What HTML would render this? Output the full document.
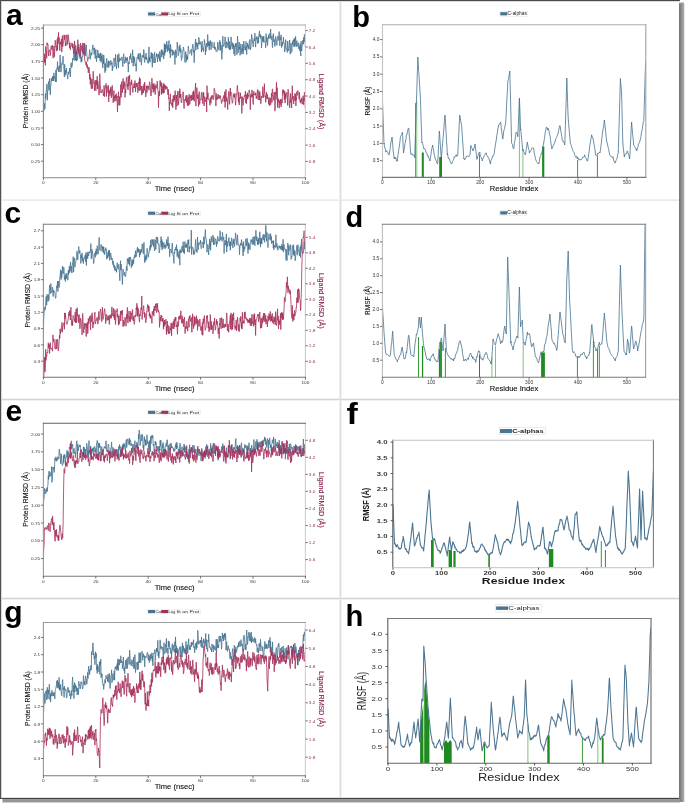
<!DOCTYPE html><html><head><meta charset="utf-8"><style>html,body{margin:0;padding:0;background:#fff;font-family:"Liberation Sans",sans-serif;width:685px;height:803px;overflow:hidden;position:relative}#m{position:absolute;left:0;top:0;display:block;filter:blur(0.3px)}.o{position:absolute}</style></head><body>
<svg id="m" width="685" height="803" viewBox="0 0 685 803">
<defs>
<clipPath id="ca"><rect x="43.4" y="25" width="262" height="152.7"/></clipPath>
<clipPath id="cc"><rect x="43.4" y="224.3" width="262" height="152.9"/></clipPath>
<clipPath id="ce"><rect x="43.4" y="423.2" width="262" height="153"/></clipPath>
<clipPath id="cg"><rect x="43.4" y="622.5" width="262" height="153.2"/></clipPath>
<clipPath id="cb"><rect x="382.5" y="24.7" width="263.3" height="152.7"/></clipPath>
<clipPath id="cd"><rect x="382.4" y="224.3" width="263.2" height="153"/></clipPath>
<clipPath id="cf"><rect x="392.8" y="440.3" width="260.6" height="127.3"/></clipPath>
<clipPath id="ch"><rect x="387.8" y="618.5" width="263.2" height="144.7"/></clipPath>
</defs>
<rect x="0" y="0" width="685" height="803" fill="#fff"/>
<text x="6" y="24.6" font-family="Liberation Sans" font-weight="bold" font-size="30" fill="#000">a</text>
<polyline points="43.4,114.1 43.7,107.8 44.1,110.3 44.4,103.4 44.7,106.8 45,108.6 45.4,93.5 45.7,98.6 46,96.7 46.4,89.3 46.7,84.4 47,84.2 47.3,100.3 47.7,90.2 48,89.4 48.3,83.3 48.6,81.5 49,90.4 49.3,82.1 49.6,78.5 50,84.3 50.3,94.8 50.6,86 50.9,86 51.3,78.6 51.6,80.9 51.9,78.2 52.3,81 52.6,76.1 52.9,78.7 53.2,76.5 53.6,81 53.9,72.9 54.2,78.2 54.5,76.6 54.9,79.2 55.2,81.1 55.5,82 55.9,70 56.2,82 56.5,72.5 56.8,68.4 57.2,69 57.5,61.6 57.8,69.3 58.2,70.6 58.5,71.5 58.8,66.6 59.1,72 59.5,65.6 59.8,67.4 60.1,54.9 60.5,63.8 60.8,71.9 61.1,72.2 61.4,68.7 61.8,63.4 62.1,64.4 62.4,61.6 62.7,62 63.1,56.2 63.4,65.3 63.7,65.7 64.1,72.9 64.4,77.1 64.7,64.3 65,74.2 65.4,75.3 65.7,70 66,72.9 66.4,68.1 66.7,73.3 67,74.7 67.3,75.4 67.7,78.8 68,74.5 68.3,72.1 68.6,74.3 69,71.6 69.3,72.4 69.6,68.1 70,71.5 70.3,76.9 70.6,71.4 70.9,63.3 71.3,62.7 71.6,67.6 71.9,67.4 72.3,65.8 72.6,58.3 72.9,58.2 73.2,60.2 73.6,57.8 73.9,49.4 74.2,46.7 74.6,56.6 74.9,60.7 75.2,50.5 75.5,60 75.9,50.8 76.2,58.1 76.5,61.1 76.8,51.1 77.2,60.4 77.5,58.8 77.8,58.5 78.2,50.1 78.5,46.8 78.8,44.3 79.1,54.7 79.5,55.4 79.8,54.5 80.1,58.7 80.5,50.2 80.8,55.2 81.1,62.3 81.4,57 81.8,61.5 82.1,58.1 82.4,56.4 82.7,56.8 83.1,52 83.4,54.6 83.7,53.2 84.1,55.1 84.4,54.8 84.7,43.7 85,45.3 85.4,55.8 85.7,47.9 86,47.9 86.4,44.9 86.7,52.7 87,56.8 87.3,57.8 87.7,61.4 88,58.5 88.3,57.4 88.7,58.1 89,58.5 89.3,53.8 89.6,49.6 90,52.2 90.3,59.3 90.6,55.9 90.9,55 91.3,52.7 91.6,55.2 91.9,54.2 92.3,49.2 92.6,46.6 92.9,44.9 93.2,49.6 93.6,48.4 93.9,50.2 94.2,54.3 94.6,47.8 94.9,50.2 95.2,58.5 95.5,52.3 95.9,49.6 96.2,56.8 96.5,61.7 96.8,56.1 97.2,57.5 97.5,54.2 97.8,49.9 98.2,57.5 98.5,57.9 98.8,53.3 99.1,54.9 99.5,57.7 99.8,54.5 100.1,61 100.5,52.8 100.8,53 101.1,62.4 101.4,56.1 101.8,59.5 102.1,54.3 102.4,61.8 102.8,67.9 103.1,58.7 103.4,63.9 103.7,54.9 104.1,58.8 104.4,63.7 104.7,68.5 105,72.7 105.4,63.4 105.7,70.5 106,67.7 106.4,60.5 106.7,58.4 107,61.7 107.3,67.3 107.7,64.4 108,64.5 108.3,60.9 108.7,67.8 109,60.9 109.3,62.2 109.6,64.1 110,65.4 110.3,65.6 110.6,60.5 110.9,60.4 111.3,61.9 111.6,64.4 111.9,62.9 112.3,70.9 112.6,66.6 112.9,68.3 113.2,61.7 113.6,59.5 113.9,57.9 114.2,59.4 114.6,59 114.9,66.7 115.2,63.9 115.5,54.3 115.9,63.4 116.2,64.3 116.5,69 116.9,64.9 117.2,61.6 117.5,54.8 117.8,61.2 118.2,59.8 118.5,67.9 118.8,53.7 119.1,60.1 119.5,61.6 119.8,58 120.1,60.1 120.5,59.1 120.8,59.8 121.1,60.4 121.4,57.2 121.8,57.1 122.1,57 122.4,61 122.8,66.7 123.1,58.2 123.4,58 123.7,53.8 124.1,63 124.4,63.5 124.7,60.6 125,59.9 125.4,56.9 125.7,61.3 126,62.8 126.4,58.2 126.7,60.7 127,60.6 127.3,57.2 127.7,61.4 128,64.7 128.3,72.1 128.7,62 129,64 129.3,59.9 129.6,57.6 130,55.9 130.3,58.7 130.6,53.4 131,59.3 131.3,58.7 131.6,60.5 131.9,62.9 132.3,55.7 132.6,49.8 132.9,55.7 133.2,66.3 133.6,56 133.9,58.4 134.2,62.7 134.6,57.5 134.9,63 135.2,66 135.5,65.2 135.9,63.5 136.2,71.3 136.5,66.5 136.9,58.6 137.2,57.3 137.5,58.4 137.8,57.2 138.2,54.2 138.5,59.5 138.8,53.2 139.1,53.4 139.5,58.6 139.8,62 140.1,61.5 140.5,53.2 140.8,55.7 141.1,60.8 141.4,65.1 141.8,59.8 142.1,57.9 142.4,55.5 142.8,56.7 143.1,55.3 143.4,57.5 143.7,49.5 144.1,52 144.4,61.2 144.7,62.5 145.1,56.7 145.4,56.9 145.7,58.9 146,53.1 146.4,59.7 146.7,57.2 147,58.6 147.3,61.4 147.7,62.4 148,61.5 148.3,63.4 148.7,54.9 149,46.9 149.3,61.2 149.6,57.3 150,62.2 150.3,56.7 150.6,56.4 151,56 151.3,52.3 151.6,58.5 151.9,53.3 152.3,67.3 152.6,53.9 152.9,53.8 153.2,57.4 153.6,58.3 153.9,63 154.2,57.4 154.6,52.3 154.9,62.5 155.2,63 155.5,58.3 155.9,57.6 156.2,56.3 156.5,53.5 156.9,56.6 157.2,54.5 157.5,62 157.8,58.6 158.2,56.7 158.5,53.8 158.8,57.9 159.2,57.4 159.5,60.3 159.8,51.4 160.1,61.7 160.5,57.8 160.8,55.1 161.1,52.1 161.4,49.6 161.8,57.1 162.1,49.9 162.4,53.3 162.8,54.8 163.1,51.8 163.4,55.6 163.7,59.1 164.1,50.8 164.4,43.6 164.7,55.4 165.1,44.3 165.4,52.4 165.7,44.8 166,49.3 166.4,45.7 166.7,41.3 167,41.5 167.3,52 167.7,45.3 168,45.1 168.3,50.7 168.7,43.5 169,40.6 169.3,47.3 169.6,53.2 170,48.2 170.3,57.8 170.6,44.4 171,51.2 171.3,50 171.6,51 171.9,49.5 172.3,55.6 172.6,51 172.9,50 173.3,54.8 173.6,53.9 173.9,51.4 174.2,52.3 174.6,52.4 174.9,64.5 175.2,54 175.5,49.8 175.9,53.7 176.2,57.6 176.5,51.1 176.9,50.4 177.2,42.2 177.5,46.1 177.8,48.8 178.2,55.8 178.5,55.1 178.8,53.7 179.2,46.2 179.5,51.2 179.8,44.8 180.1,47.2 180.5,52.4 180.8,48.7 181.1,56.6 181.5,60.4 181.8,56.7 182.1,57.3 182.4,50.8 182.8,51 183.1,50.2 183.4,47.1 183.7,48.5 184.1,52.2 184.4,58.5 184.7,58.8 185.1,62.6 185.4,55.5 185.7,51.6 186,55.1 186.4,61.6 186.7,54.7 187,58.7 187.4,56.5 187.7,59.7 188,52.2 188.3,46.1 188.7,49.4 189,52.1 189.3,53 189.6,53.7 190,52.6 190.3,52.3 190.6,51 191,49.4 191.3,49.3 191.6,55.3 191.9,52.4 192.3,48.6 192.6,45.2 192.9,44.2 193.3,47.4 193.6,52.4 193.9,50.3 194.2,62.7 194.6,50.1 194.9,50.6 195.2,43 195.6,39 195.9,50 196.2,42.5 196.5,42.4 196.9,46.6 197.2,43 197.5,46.1 197.8,49.3 198.2,43.4 198.5,44.1 198.8,37.4 199.2,39.9 199.5,43.1 199.8,44.5 200.1,41.7 200.5,43.6 200.8,43.2 201.1,44.1 201.5,52.1 201.8,44.9 202.1,41.2 202.4,49.4 202.8,49.8 203.1,48.7 203.4,51.6 203.7,46.4 204.1,46 204.4,39.5 204.7,41.8 205.1,43.6 205.4,55 205.7,46.6 206,51.5 206.4,45 206.7,43 207,46.8 207.4,46.8 207.7,34.5 208,43.7 208.3,46 208.7,41.3 209,48.1 209.3,50.1 209.7,42.1 210,45.6 210.3,40.3 210.6,43 211,49.7 211.3,47.5 211.6,46.3 211.9,41.8 212.3,46.5 212.6,47.3 212.9,47.4 213.3,48 213.6,48 213.9,46.8 214.2,42.4 214.6,49.2 214.9,48.5 215.2,46.9 215.6,49.8 215.9,49.1 216.2,51.5 216.5,52 216.9,51.5 217.2,51.4 217.5,46.5 217.8,42.1 218.2,49.8 218.5,48.7 218.8,46.5 219.2,43.7 219.5,44.2 219.8,40.3 220.1,50.7 220.5,42.3 220.8,49.6 221.1,45.1 221.5,50.1 221.8,59.4 222.1,53.4 222.4,52.5 222.8,36.2 223.1,44.4 223.4,45.4 223.8,46.7 224.1,44.5 224.4,44 224.7,44.2 225.1,36.8 225.4,45.7 225.7,48.2 226,45.7 226.4,41.7 226.7,43.2 227,47.7 227.4,43 227.7,43.8 228,44.3 228.3,37.3 228.7,48.6 229,47.2 229.3,41.5 229.7,49.7 230,45.7 230.3,50 230.6,46.1 231,36.9 231.3,40.3 231.6,45.9 231.9,45.6 232.3,49 232.6,42.6 232.9,43 233.3,47.1 233.6,43.9 233.9,53.9 234.2,45.6 234.6,46.7 234.9,55.8 235.2,47.8 235.6,43.3 235.9,46.5 236.2,43.4 236.5,45.6 236.9,54.7 237.2,46.4 237.5,36.1 237.9,42 238.2,52.8 238.5,46.6 238.8,46 239.2,42 239.5,49.4 239.8,46.5 240.1,55.3 240.5,50.7 240.8,43.9 241.1,46 241.5,52.9 241.8,54 242.1,48.6 242.4,51.3 242.8,44 243.1,54.2 243.4,52.9 243.8,41.1 244.1,45.2 244.4,45.9 244.7,47.1 245.1,50.3 245.4,46.8 245.7,50 246,41.4 246.4,48.2 246.7,54.5 247,45.6 247.4,46.7 247.7,43 248,47 248.3,48.5 248.7,45.3 249,49.3 249.3,41 249.7,41.3 250,39.4 250.3,47.7 250.6,49.8 251,46.1 251.3,42.7 251.6,34.4 252,37 252.3,39.3 252.6,43.3 252.9,44.4 253.3,46.8 253.6,40.4 253.9,40.5 254.2,38.3 254.6,40.9 254.9,33.2 255.2,40.9 255.6,47.1 255.9,41.7 256.2,37.5 256.5,39.2 256.9,36.5 257.2,38.1 257.5,43.6 257.9,43.1 258.2,37 258.5,43 258.8,35.4 259.2,33.7 259.5,30.9 259.8,37 260.1,34.2 260.5,37 260.8,38.5 261.1,35.7 261.5,48.1 261.8,43.6 262.1,41.4 262.4,37.6 262.8,41.1 263.1,36 263.4,42.3 263.8,36.3 264.1,41.4 264.4,41.2 264.7,41.2 265.1,42.9 265.4,43.6 265.7,47.8 266.1,33.7 266.4,41.7 266.7,42.1 267,37.4 267.4,45.6 267.7,44.6 268,38.1 268.3,38.3 268.7,35.2 269,38.7 269.3,33.5 269.7,34.6 270,34.7 270.3,38.2 270.6,29.1 271,35.9 271.3,39.6 271.6,38.5 272,36.2 272.3,46 272.6,47.6 272.9,37.6 273.3,33.6 273.6,38.1 273.9,41.8 274.2,39.4 274.6,45.7 274.9,46.4 275.2,46.1 275.6,36.5 275.9,39.4 276.2,39.6 276.5,40.7 276.9,45.3 277.2,38.3 277.5,36.6 277.9,35.9 278.2,40.6 278.5,40.2 278.8,37 279.2,31.6 279.5,40.6 279.8,45.8 280.2,36.9 280.5,37.2 280.8,40.1 281.1,34.8 281.5,47.5 281.8,46.2 282.1,42 282.4,45.6 282.8,42.5 283.1,43.2 283.4,37.2 283.8,42 284.1,42.8 284.4,46 284.7,52 285.1,49 285.4,48.4 285.7,39.6 286.1,47.8 286.4,49.7 286.7,49.5 287,50.6 287.4,52.4 287.7,41 288,46.4 288.3,50.4 288.7,51 289,48.4 289.3,44.8 289.7,39.9 290,52.5 290.3,54.2 290.6,51.7 291,43.2 291.3,51.7 291.6,52.4 292,51.7 292.3,42.3 292.6,44.4 292.9,40.6 293.3,41.8 293.6,39.7 293.9,46.8 294.3,38 294.6,46.5 294.9,43.6 295.2,44.6 295.6,36.4 295.9,42.9 296.2,47 296.5,44.5 296.9,40.7 297.2,45.5 297.5,45 297.9,45.9 298.2,42.7 298.5,48.5 298.8,48.9 299.2,45.7 299.5,46.4 299.8,50.9 300.2,43.6 300.5,52.5 300.8,56 301.1,41.2 301.5,50.8 301.8,51 302.1,46.1 302.4,44.9 302.8,40.1 303.1,42 303.4,44.3 303.8,37.2 304.1,42.1 304.4,34.4 304.7,40 305.1,41.1 305.4,47.1" fill="none" stroke="#46728f" stroke-width="0.8" stroke-linejoin="round" clip-path="url(#ca)"/>
<polyline points="43.4,57.9 43.7,61.1 44.1,62.9 44.4,53.7 44.7,61.7 45,59.3 45.4,65.3 45.7,46.6 46,51.9 46.4,51.1 46.7,58.4 47,42.7 47.3,44.8 47.7,43.7 48,44.4 48.3,53.4 48.6,56 49,50.1 49.3,50.2 49.6,49.8 50,52 50.3,55.5 50.6,52.7 50.9,47.2 51.3,46 51.6,48.5 51.9,49.8 52.3,45 52.6,46.6 52.9,56.7 53.2,58.2 53.6,51.7 53.9,46.1 54.2,50.3 54.5,56.9 54.9,45.6 55.2,40.3 55.5,42.4 55.9,47.1 56.2,46 56.5,51.1 56.8,48.5 57.2,39.2 57.5,50.3 57.8,37.2 58.2,38.8 58.5,32.4 58.8,43.6 59.1,37.5 59.5,47.1 59.8,50.6 60.1,44.9 60.5,41.9 60.8,41.8 61.1,45 61.4,38.9 61.8,52.1 62.1,43.5 62.4,35.6 62.7,46.9 63.1,44.7 63.4,41.9 63.7,41.9 64.1,34.8 64.4,39.7 64.7,37.5 65,35.1 65.4,45.9 65.7,42.6 66,45.8 66.4,36.2 66.7,34.8 67,35.2 67.3,38.8 67.7,44.5 68,34.7 68.3,35.5 68.6,37.9 69,41.6 69.3,43.2 69.6,48 70,42.8 70.3,49.7 70.6,46.8 70.9,46.3 71.3,46.3 71.6,46.2 71.9,42.8 72.3,44.1 72.6,48.2 72.9,43.9 73.2,47.9 73.6,53.6 73.9,53.4 74.2,47.2 74.6,41 74.9,48.5 75.2,50.3 75.5,45.5 75.9,45.6 76.2,55.1 76.5,51.6 76.8,50.2 77.2,49 77.5,50 77.8,39.7 78.2,53.3 78.5,51.3 78.8,46.9 79.1,48.4 79.5,52.5 79.8,54.9 80.1,56.8 80.5,43.1 80.8,45.5 81.1,50.9 81.4,46.7 81.8,45.8 82.1,45.5 82.4,53.1 82.7,43 83.1,43.3 83.4,53.2 83.7,50.7 84.1,43 84.4,52.3 84.7,60 85,60.2 85.4,63.4 85.7,64.6 86,64.6 86.4,61.8 86.7,67 87,67.5 87.3,64.6 87.7,68.8 88,68 88.3,72.9 88.7,67.2 89,67 89.3,68.3 89.6,79.3 90,74.2 90.3,84.4 90.6,77.6 90.9,81.3 91.3,88.7 91.6,84.1 91.9,78.9 92.3,86.4 92.6,88.6 92.9,80.9 93.2,71.3 93.6,78 93.9,83.3 94.2,82.2 94.6,90.8 94.9,86.4 95.2,80.3 95.5,82.4 95.9,90.6 96.2,80 96.5,84.7 96.8,84.9 97.2,76.2 97.5,88.9 97.8,80.9 98.2,85.9 98.5,85.9 98.8,94 99.1,95.2 99.5,89.4 99.8,73.7 100.1,84.2 100.5,86.8 100.8,92.9 101.1,92 101.4,92.6 101.8,90.5 102.1,89.5 102.4,90 102.8,92.5 103.1,93.4 103.4,96 103.7,95.7 104.1,85.4 104.4,96.7 104.7,89.9 105,88.4 105.4,88.1 105.7,88.2 106,83.4 106.4,96.5 106.7,85.7 107,87.4 107.3,87.4 107.7,87.9 108,93 108.3,85.2 108.7,101.9 109,96 109.3,90.4 109.6,92.8 110,95.6 110.3,88.6 110.6,92.7 110.9,86.8 111.3,97.8 111.6,94 111.9,88.7 112.3,85.4 112.6,95.3 112.9,95 113.2,102.7 113.6,97.9 113.9,90.5 114.2,101.4 114.6,96.3 114.9,95.8 115.2,97.8 115.5,95 115.9,101.2 116.2,93.6 116.5,98 116.9,96.8 117.2,103.7 117.5,112 117.8,96.2 118.2,97 118.5,91.8 118.8,105.3 119.1,99.6 119.5,96.6 119.8,105.3 120.1,99.4 120.5,95.2 120.8,84.6 121.1,97.3 121.4,85.1 121.8,81.7 122.1,88 122.4,92.8 122.8,83.6 123.1,78.5 123.4,86 123.7,89.2 124.1,81.4 124.4,86.2 124.7,83.6 125,97.4 125.4,89.8 125.7,93.1 126,82.9 126.4,78.5 126.7,77 127,81.7 127.3,86.9 127.7,84.1 128,89.9 128.3,76.1 128.7,86.1 129,82.8 129.3,81.6 129.6,74.9 130,94.2 130.3,95.2 130.6,86.1 131,82 131.3,84.8 131.6,79.8 131.9,82.5 132.3,85.9 132.6,90.6 132.9,92.5 133.2,87 133.6,88 133.9,83.6 134.2,83.4 134.6,87.9 134.9,80.5 135.2,82.1 135.5,92 135.9,86.4 136.2,83.1 136.5,83.3 136.9,87.2 137.2,83.1 137.5,83.5 137.8,92.8 138.2,88.3 138.5,89.7 138.8,81.8 139.1,83.9 139.5,77.5 139.8,91 140.1,78.6 140.5,89.5 140.8,88.5 141.1,87.5 141.4,86 141.8,95.1 142.1,89.4 142.4,93.4 142.8,87.6 143.1,85.8 143.4,92.9 143.7,90.1 144.1,83.8 144.4,90.4 144.7,82 145.1,88.4 145.4,89.3 145.7,96.9 146,94.8 146.4,88.3 146.7,85.7 147,92.6 147.3,85.7 147.7,86 148,88.4 148.3,86.1 148.7,87.2 149,90.2 149.3,83.8 149.6,81.8 150,83.7 150.3,85.5 150.6,93.1 151,96 151.3,94.2 151.6,89.4 151.9,78.2 152.3,87.9 152.6,88.8 152.9,83.8 153.2,92.4 153.6,86.1 153.9,83.3 154.2,91.1 154.6,85.5 154.9,90.6 155.2,94.7 155.5,85.8 155.9,84.5 156.2,85.2 156.5,88.2 156.9,88.5 157.2,81.2 157.5,84.1 157.8,90.3 158.2,91 158.5,107.6 158.8,94.2 159.2,91.1 159.5,96.1 159.8,85.5 160.1,80.5 160.5,86.2 160.8,82.9 161.1,82.1 161.4,94.5 161.8,83.4 162.1,93.4 162.4,91.8 162.8,86.2 163.1,87.4 163.4,93.3 163.7,83.3 164.1,93 164.4,84.6 164.7,87.5 165.1,86.2 165.4,85.4 165.7,89.6 166,86.2 166.4,88.5 166.7,86.9 167,86.7 167.3,87.2 167.7,92.6 168,94.9 168.3,89.3 168.7,98.8 169,97.6 169.3,110.8 169.6,101.8 170,102.7 170.3,93.8 170.6,101.7 171,104 171.3,103.1 171.6,104.9 171.9,105.7 172.3,99.1 172.6,107.8 172.9,107.4 173.3,95.6 173.6,101 173.9,101.7 174.2,95 174.6,99.8 174.9,96.3 175.2,90.7 175.5,102.6 175.9,109.6 176.2,105.4 176.5,95.1 176.9,103.7 177.2,106.1 177.5,93.9 177.8,91.1 178.2,100.2 178.5,104.7 178.8,101.8 179.2,91.1 179.5,97.5 179.8,88.7 180.1,93.2 180.5,97.8 180.8,94 181.1,101.8 181.5,102.9 181.8,102.2 182.1,97.2 182.4,96.8 182.8,95.5 183.1,91.7 183.4,96.2 183.7,103.5 184.1,108.5 184.4,101.5 184.7,99.4 185.1,100.3 185.4,100.9 185.7,96.7 186,95.6 186.4,102.7 186.7,95.2 187,95.2 187.4,105.5 187.7,102 188,97.2 188.3,105.9 188.7,99.6 189,94.3 189.3,95 189.6,104.5 190,103.4 190.3,96.2 190.6,98.1 191,94.9 191.3,100.8 191.6,95.3 191.9,95.2 192.3,100 192.6,99.3 192.9,91.8 193.3,99.9 193.6,90.7 193.9,95 194.2,101.3 194.6,93.3 194.9,93.1 195.2,89.2 195.6,83.2 195.9,106.1 196.2,98.6 196.5,97.8 196.9,87.6 197.2,97 197.5,98.8 197.8,94.7 198.2,94.7 198.5,106.7 198.8,98.2 199.2,91.6 199.5,104.5 199.8,103.3 200.1,100 200.5,99.4 200.8,99.8 201.1,95.8 201.5,92.3 201.8,94.3 202.1,100.1 202.4,98.6 202.8,103.7 203.1,92.4 203.4,97.9 203.7,92.5 204.1,106 204.4,103.2 204.7,96.7 205.1,98.9 205.4,99.7 205.7,101.6 206,101.9 206.4,97.6 206.7,112 207,85.7 207.4,99.1 207.7,96 208,92.7 208.3,98.4 208.7,99.6 209,100.1 209.3,99.6 209.7,102.1 210,105.3 210.3,97.6 210.6,99.7 211,103.3 211.3,95.8 211.6,95.9 211.9,99.4 212.3,95.1 212.6,96.5 212.9,95.7 213.3,99.2 213.6,99.6 213.9,95.4 214.2,88.2 214.6,89.6 214.9,91.3 215.2,95.5 215.6,95.6 215.9,106 216.2,93.4 216.5,95.3 216.9,100 217.2,97.2 217.5,99 217.8,95 218.2,94.2 218.5,97.5 218.8,98.8 219.2,95.5 219.5,95.5 219.8,98.3 220.1,95.6 220.5,95.8 220.8,99.1 221.1,99.9 221.5,103.5 221.8,102.7 222.1,100.3 222.4,101.1 222.8,99 223.1,97.5 223.4,97.9 223.8,95.4 224.1,101.8 224.4,101.7 224.7,91.7 225.1,107.5 225.4,99 225.7,91.1 226,89.3 226.4,101.4 226.7,97.3 227,101.1 227.4,100.6 227.7,109.5 228,100.5 228.3,97.5 228.7,91.6 229,91.5 229.3,102.7 229.7,104.4 230,92.5 230.3,88 230.6,95.5 231,92.1 231.3,98.3 231.6,99.3 231.9,99.7 232.3,103.3 232.6,102.7 232.9,100 233.3,93.7 233.6,94.6 233.9,97.2 234.2,95 234.6,97.5 234.9,93.3 235.2,100 235.6,105.2 235.9,100.6 236.2,96.8 236.5,93.9 236.9,93.8 237.2,85.7 237.5,85.4 237.9,92.8 238.2,97.9 238.5,102.3 238.8,92.2 239.2,105 239.5,98.3 239.8,97.7 240.1,98.7 240.5,92.8 240.8,98.2 241.1,96.7 241.5,98.3 241.8,113.4 242.1,101.7 242.4,96.7 242.8,99.2 243.1,105.3 243.4,98.7 243.8,99.6 244.1,96.7 244.4,95.3 244.7,96.6 245.1,96.3 245.4,91.2 245.7,102.6 246,99.5 246.4,103.9 246.7,94.5 247,99.3 247.4,92.7 247.7,99 248,96.1 248.3,95.1 248.7,96.5 249,90.2 249.3,90.1 249.7,92.9 250,93.2 250.3,109.7 250.6,95.5 251,94.3 251.3,97.4 251.6,97.2 252,89.8 252.3,96.7 252.6,94.3 252.9,101.5 253.3,104.5 253.6,92.8 253.9,91.2 254.2,94.7 254.6,93.8 254.9,93.7 255.2,95.4 255.6,92.8 255.9,93.4 256.2,98.7 256.5,96.4 256.9,98.2 257.2,92.3 257.5,89.6 257.9,96.5 258.2,100 258.5,98.4 258.8,90.5 259.2,93.7 259.5,100.1 259.8,91.9 260.1,95.3 260.5,100 260.8,103.7 261.1,100.8 261.5,96 261.8,97.3 262.1,97.6 262.4,96.8 262.8,86.7 263.1,89.9 263.4,97.8 263.8,93.7 264.1,93.5 264.4,83.7 264.7,92.4 265.1,97 265.4,95.7 265.7,102.3 266.1,96.5 266.4,92.2 266.7,95.1 267,98.9 267.4,94.4 267.7,99 268,99.4 268.3,99.4 268.7,104.1 269,97.2 269.3,105.8 269.7,102.6 270,101.6 270.3,98.2 270.6,104.9 271,102.5 271.3,95.3 271.6,92.9 272,102.4 272.3,89.3 272.6,88.8 272.9,95.9 273.3,95.5 273.6,99.1 273.9,100.4 274.2,92 274.6,95.1 274.9,111.1 275.2,109.3 275.6,92.1 275.9,94.4 276.2,90.3 276.5,82.3 276.9,99.3 277.2,87.7 277.5,107.5 277.9,98.3 278.2,102.3 278.5,99 278.8,100.1 279.2,108.2 279.5,100.9 279.8,100.6 280.2,104.5 280.5,99.2 280.8,102.7 281.1,107 281.5,103.7 281.8,99.3 282.1,103.1 282.4,96.3 282.8,89.7 283.1,93.7 283.4,89.8 283.8,91.9 284.1,96.1 284.4,99.7 284.7,90.8 285.1,103.1 285.4,93.5 285.7,98.6 286.1,96.5 286.4,94.5 286.7,92.2 287,94.2 287.4,97.9 287.7,105.4 288,89.3 288.3,89.7 288.7,93.8 289,96.8 289.3,103.7 289.7,107.8 290,100.5 290.3,102.8 290.6,93.4 291,100.2 291.3,99.2 291.6,108 292,95.5 292.3,85.7 292.6,99.3 292.9,98.6 293.3,96.2 293.6,104 293.9,99.8 294.3,100.2 294.6,100.6 294.9,93.3 295.2,100.6 295.6,94.5 295.9,106 296.2,97.6 296.5,99.5 296.9,91.6 297.2,95.4 297.5,91.6 297.9,90.4 298.2,93 298.5,93.5 298.8,94.4 299.2,99.4 299.5,92.3 299.8,99.4 300.2,102.3 300.5,103.1 300.8,99.3 301.1,102.2 301.5,101.2 301.8,97.8 302.1,104.1 302.4,103.2 302.8,103.9 303.1,95.7 303.4,104.7 303.8,98.4 304.1,100.8 304.4,92.2 304.7,99.5 305.1,104.6 305.4,108.9" fill="none" stroke="#a5305c" stroke-width="0.8" stroke-linejoin="round" clip-path="url(#ca)"/>
<line x1="43.4" y1="24.5" x2="43.4" y2="178.2" stroke="#888888" stroke-width="1.1"/>
<line x1="305.4" y1="24.5" x2="305.4" y2="178.2" stroke="#d0d0d0" stroke-width="1.1"/>
<line x1="42.9" y1="25" x2="305.9" y2="25" stroke="#a8a8a8" stroke-width="1.1"/>
<line x1="42.9" y1="177.7" x2="305.9" y2="177.7" stroke="#8a8a8a" stroke-width="1.1"/>
<line x1="40.9" y1="161.2" x2="43.4" y2="161.2" stroke="#555" stroke-width="0.8"/>
<text x="0" y="0" font-family="Liberation Sans" font-size="4.3" fill="#383838" text-anchor="end" font-weight="normal" dominant-baseline="central" transform="translate(40.2 161.4) scale(1.1 1)">0.25</text>
<line x1="40.9" y1="144.6" x2="43.4" y2="144.6" stroke="#555" stroke-width="0.8"/>
<text x="0" y="0" font-family="Liberation Sans" font-size="4.3" fill="#383838" text-anchor="end" font-weight="normal" dominant-baseline="central" transform="translate(40.2 144.8) scale(1.1 1)">0.50</text>
<line x1="40.9" y1="128" x2="43.4" y2="128" stroke="#555" stroke-width="0.8"/>
<text x="0" y="0" font-family="Liberation Sans" font-size="4.3" fill="#383838" text-anchor="end" font-weight="normal" dominant-baseline="central" transform="translate(40.2 128.2) scale(1.1 1)">0.75</text>
<line x1="40.9" y1="111.3" x2="43.4" y2="111.3" stroke="#555" stroke-width="0.8"/>
<text x="0" y="0" font-family="Liberation Sans" font-size="4.3" fill="#383838" text-anchor="end" font-weight="normal" dominant-baseline="central" transform="translate(40.2 111.5) scale(1.1 1)">1.00</text>
<line x1="40.9" y1="94.7" x2="43.4" y2="94.7" stroke="#555" stroke-width="0.8"/>
<text x="0" y="0" font-family="Liberation Sans" font-size="4.3" fill="#383838" text-anchor="end" font-weight="normal" dominant-baseline="central" transform="translate(40.2 94.9) scale(1.1 1)">1.25</text>
<line x1="40.9" y1="78" x2="43.4" y2="78" stroke="#555" stroke-width="0.8"/>
<text x="0" y="0" font-family="Liberation Sans" font-size="4.3" fill="#383838" text-anchor="end" font-weight="normal" dominant-baseline="central" transform="translate(40.2 78.2) scale(1.1 1)">1.50</text>
<line x1="40.9" y1="61.4" x2="43.4" y2="61.4" stroke="#555" stroke-width="0.8"/>
<text x="0" y="0" font-family="Liberation Sans" font-size="4.3" fill="#383838" text-anchor="end" font-weight="normal" dominant-baseline="central" transform="translate(40.2 61.6) scale(1.1 1)">1.75</text>
<line x1="40.9" y1="44.7" x2="43.4" y2="44.7" stroke="#555" stroke-width="0.8"/>
<text x="0" y="0" font-family="Liberation Sans" font-size="4.3" fill="#383838" text-anchor="end" font-weight="normal" dominant-baseline="central" transform="translate(40.2 44.9) scale(1.1 1)">2.00</text>
<line x1="40.9" y1="28.1" x2="43.4" y2="28.1" stroke="#555" stroke-width="0.8"/>
<text x="0" y="0" font-family="Liberation Sans" font-size="4.3" fill="#383838" text-anchor="end" font-weight="normal" dominant-baseline="central" transform="translate(40.2 28.3) scale(1.1 1)">2.25</text>
<line x1="305.4" y1="161.4" x2="307.9" y2="161.4" stroke="#555" stroke-width="0.8"/>
<text x="0" y="0" font-family="Liberation Sans" font-size="4.3" fill="#8e3058" text-anchor="start" font-weight="normal" dominant-baseline="central" transform="translate(308.8 161.6) scale(1.1 1)">0.8</text>
<line x1="305.4" y1="145.1" x2="307.9" y2="145.1" stroke="#555" stroke-width="0.8"/>
<text x="0" y="0" font-family="Liberation Sans" font-size="4.3" fill="#8e3058" text-anchor="start" font-weight="normal" dominant-baseline="central" transform="translate(308.8 145.3) scale(1.1 1)">1.6</text>
<line x1="305.4" y1="128.7" x2="307.9" y2="128.7" stroke="#555" stroke-width="0.8"/>
<text x="0" y="0" font-family="Liberation Sans" font-size="4.3" fill="#8e3058" text-anchor="start" font-weight="normal" dominant-baseline="central" transform="translate(308.8 128.9) scale(1.1 1)">2.4</text>
<line x1="305.4" y1="112.4" x2="307.9" y2="112.4" stroke="#555" stroke-width="0.8"/>
<text x="0" y="0" font-family="Liberation Sans" font-size="4.3" fill="#8e3058" text-anchor="start" font-weight="normal" dominant-baseline="central" transform="translate(308.8 112.6) scale(1.1 1)">3.2</text>
<line x1="305.4" y1="96" x2="307.9" y2="96" stroke="#555" stroke-width="0.8"/>
<text x="0" y="0" font-family="Liberation Sans" font-size="4.3" fill="#8e3058" text-anchor="start" font-weight="normal" dominant-baseline="central" transform="translate(308.8 96.2) scale(1.1 1)">4.0</text>
<line x1="305.4" y1="79.7" x2="307.9" y2="79.7" stroke="#555" stroke-width="0.8"/>
<text x="0" y="0" font-family="Liberation Sans" font-size="4.3" fill="#8e3058" text-anchor="start" font-weight="normal" dominant-baseline="central" transform="translate(308.8 79.9) scale(1.1 1)">4.8</text>
<line x1="305.4" y1="63.3" x2="307.9" y2="63.3" stroke="#555" stroke-width="0.8"/>
<text x="0" y="0" font-family="Liberation Sans" font-size="4.3" fill="#8e3058" text-anchor="start" font-weight="normal" dominant-baseline="central" transform="translate(308.8 63.5) scale(1.1 1)">5.6</text>
<line x1="305.4" y1="47" x2="307.9" y2="47" stroke="#555" stroke-width="0.8"/>
<text x="0" y="0" font-family="Liberation Sans" font-size="4.3" fill="#8e3058" text-anchor="start" font-weight="normal" dominant-baseline="central" transform="translate(308.8 47.2) scale(1.1 1)">6.4</text>
<line x1="305.4" y1="30.6" x2="307.9" y2="30.6" stroke="#555" stroke-width="0.8"/>
<text x="0" y="0" font-family="Liberation Sans" font-size="4.3" fill="#8e3058" text-anchor="start" font-weight="normal" dominant-baseline="central" transform="translate(308.8 30.8) scale(1.1 1)">7.2</text>
<line x1="43.4" y1="177.7" x2="43.4" y2="180.2" stroke="#555" stroke-width="0.8"/>
<text x="0" y="0" font-family="Liberation Sans" font-size="4.3" fill="#333" text-anchor="middle" font-weight="normal" dominant-baseline="central" transform="translate(43.4 182.7) scale(1.1 1)">0</text>
<line x1="95.8" y1="177.7" x2="95.8" y2="180.2" stroke="#555" stroke-width="0.8"/>
<text x="0" y="0" font-family="Liberation Sans" font-size="4.3" fill="#333" text-anchor="middle" font-weight="normal" dominant-baseline="central" transform="translate(95.8 182.7) scale(1.1 1)">20</text>
<line x1="148.2" y1="177.7" x2="148.2" y2="180.2" stroke="#555" stroke-width="0.8"/>
<text x="0" y="0" font-family="Liberation Sans" font-size="4.3" fill="#333" text-anchor="middle" font-weight="normal" dominant-baseline="central" transform="translate(148.2 182.7) scale(1.1 1)">40</text>
<line x1="200.6" y1="177.7" x2="200.6" y2="180.2" stroke="#555" stroke-width="0.8"/>
<text x="0" y="0" font-family="Liberation Sans" font-size="4.3" fill="#333" text-anchor="middle" font-weight="normal" dominant-baseline="central" transform="translate(200.6 182.7) scale(1.1 1)">60</text>
<line x1="253" y1="177.7" x2="253" y2="180.2" stroke="#555" stroke-width="0.8"/>
<text x="0" y="0" font-family="Liberation Sans" font-size="4.3" fill="#333" text-anchor="middle" font-weight="normal" dominant-baseline="central" transform="translate(253 182.7) scale(1.1 1)">80</text>
<line x1="305.4" y1="177.7" x2="305.4" y2="180.2" stroke="#555" stroke-width="0.8"/>
<text x="0" y="0" font-family="Liberation Sans" font-size="4.3" fill="#333" text-anchor="middle" font-weight="normal" dominant-baseline="central" transform="translate(305.4 182.7) scale(1.1 1)">100</text>
<text x="174.6" y="188.9" font-family="Liberation Sans" font-size="7.6" fill="#111" text-anchor="middle" font-weight="normal" dominant-baseline="central" stroke="#111" stroke-width="0.12">Time (nsec)</text>
<text x="0" y="0" font-family="Liberation Sans" font-size="6.4" fill="#111" text-anchor="middle" font-weight="normal" dominant-baseline="central" transform="translate(25.2 101) rotate(-90) scale(1.07 1)" stroke="#111" stroke-width="0.1">Protein RMSD (&#197;)</text>
<text x="0" y="0" font-family="Liberation Sans" font-size="6.4" fill="#8a2050" text-anchor="middle" font-weight="normal" dominant-baseline="central" transform="translate(321.1 101.5) rotate(90) scale(1.11 1)" stroke="#8a2050" stroke-width="0.1">Ligand RMSD (&#197;)</text>
<rect x="147.6" y="11.8" width="53.2" height="4.4" fill="#fff" stroke="#ddd" stroke-width="0.4"/>
<rect x="148.1" y="12.4" width="7" height="3.1" fill="#46728f"/>
<rect x="161.2" y="12.4" width="6.8" height="3.1" fill="#a5305c"/>
<text x="155.4" y="14.1" font-family="Liberation Sans" font-size="4.4" fill="#222" text-anchor="start" font-weight="normal" dominant-baseline="central">C&#945;</text>
<text x="0" y="0" font-family="Liberation Sans" font-size="4.3" fill="#222" text-anchor="start" font-weight="normal" dominant-baseline="central" transform="translate(168.3 14.1) scale(1.22 1)">Lig fit on Prot</text>
<text x="4.5" y="222.6" font-family="Liberation Sans" font-weight="bold" font-size="30" fill="#000">c</text>
<polyline points="43.4,335.3 43.7,319.9 44.1,312.6 44.4,311.6 44.7,307.1 45,307.3 45.4,309.6 45.7,302.2 46,297.2 46.4,296.3 46.7,305.2 47,294.3 47.3,296 47.7,298.7 48,301.6 48.3,294.5 48.6,298.6 49,300.3 49.3,291.1 49.6,285.2 50,288.8 50.3,293.7 50.6,284.6 50.9,283.5 51.3,290.5 51.6,292.6 51.9,291.8 52.3,290.6 52.6,287.1 52.9,293.8 53.2,296.6 53.6,289.9 53.9,291.7 54.2,291.2 54.5,292.7 54.9,293.2 55.2,295.6 55.5,298.4 55.9,297.7 56.2,290.3 56.5,290.4 56.8,285.6 57.2,287.9 57.5,281 57.8,291.6 58.2,288.4 58.5,281.3 58.8,283.8 59.1,287.5 59.5,285.3 59.8,276.8 60.1,276 60.5,269.7 60.8,277.2 61.1,279.6 61.4,271.1 61.8,277.6 62.1,271.8 62.4,266.3 62.7,272.6 63.1,272.8 63.4,273.8 63.7,267 64.1,269.3 64.4,279.5 64.7,278 65,275.9 65.4,281.6 65.7,273.8 66,275.6 66.4,278.8 66.7,274.4 67,273.1 67.3,277.8 67.7,280.2 68,279.7 68.3,270.2 68.6,274.5 69,271.6 69.3,266.3 69.6,272.6 70,270.1 70.3,264.8 70.6,262 70.9,271.3 71.3,266.1 71.6,266.3 71.9,273.1 72.3,265.3 72.6,262.9 72.9,261.3 73.2,256.7 73.6,272.1 73.9,263.1 74.2,260.4 74.6,257.9 74.9,267.2 75.2,264 75.5,262.6 75.9,261.7 76.2,259.2 76.5,259.2 76.8,251.3 77.2,252.6 77.5,254.8 77.8,259.9 78.2,250.1 78.5,249.8 78.8,246.6 79.1,253.6 79.5,252.7 79.8,250.3 80.1,253.6 80.5,254.6 80.8,263.4 81.1,258.4 81.4,255.2 81.8,258.2 82.1,252.8 82.4,261.3 82.7,257.1 83.1,259.1 83.4,263.7 83.7,258.7 84.1,259.3 84.4,258.7 84.7,256.1 85,255.3 85.4,254.6 85.7,261.8 86,252.3 86.4,265.5 86.7,255.9 87,257.6 87.3,253.5 87.7,258.7 88,251.6 88.3,254.7 88.7,256 89,253.5 89.3,252 89.6,253.1 90,251.5 90.3,251.9 90.6,248.4 90.9,243.6 91.3,258.9 91.6,254.8 91.9,249.1 92.3,253.2 92.6,251.9 92.9,257.7 93.2,258.3 93.6,263.6 93.9,262.8 94.2,254.7 94.6,253.3 94.9,253.9 95.2,257.5 95.5,251 95.9,255.5 96.2,248.8 96.5,250 96.8,254.5 97.2,245.7 97.5,247.3 97.8,252.2 98.2,254.1 98.5,251.4 98.8,246.2 99.1,237.4 99.5,246.9 99.8,249.8 100.1,250.6 100.5,248.6 100.8,247.9 101.1,244.4 101.4,247.7 101.8,247.9 102.1,251.5 102.4,246.4 102.8,248.9 103.1,246.7 103.4,252.5 103.7,246.8 104.1,253.4 104.4,252 104.7,254.6 105,249.7 105.4,250.6 105.7,247.7 106,248.7 106.4,249.2 106.7,259.2 107,255.3 107.3,255.4 107.7,258.2 108,252 108.3,255.5 108.7,250.2 109,256.8 109.3,250.2 109.6,260.3 110,259.8 110.3,258.1 110.6,252.9 110.9,254.8 111.3,256.3 111.6,260 111.9,259 112.3,258.3 112.6,263.1 112.9,264.8 113.2,261.1 113.6,263.9 113.9,267.5 114.2,264.9 114.6,270.3 114.9,269.4 115.2,266.6 115.5,268.2 115.9,270.9 116.2,269.2 116.5,272.3 116.9,267.5 117.2,262.7 117.5,267.4 117.8,268 118.2,269.1 118.5,265.4 118.8,264.4 119.1,269.1 119.5,274 119.8,280.7 120.1,269.6 120.5,260.7 120.8,270.2 121.1,264 121.4,267.6 121.8,270.7 122.1,277.9 122.4,284.5 122.8,273.1 123.1,269.1 123.4,271.5 123.7,272.5 124.1,275.4 124.4,275.1 124.7,272.3 125,275.6 125.4,276.9 125.7,275.7 126,273 126.4,266.3 126.7,266.8 127,270.8 127.3,258.5 127.7,261.1 128,260.1 128.3,264.2 128.7,258.5 129,261.5 129.3,257.1 129.6,265.5 130,259.4 130.3,256.9 130.6,258.9 131,258.6 131.3,267.7 131.6,263.8 131.9,262.6 132.3,259.8 132.6,265.8 132.9,263.1 133.2,259.6 133.6,263.6 133.9,257.5 134.2,258 134.6,254.8 134.9,255.2 135.2,257.5 135.5,250.6 135.9,255.5 136.2,256.8 136.5,256.1 136.9,249.9 137.2,248.4 137.5,247.1 137.8,252.6 138.2,248.5 138.5,252 138.8,249.2 139.1,249.4 139.5,257.2 139.8,253.4 140.1,249.5 140.5,254.7 140.8,250.9 141.1,252.2 141.4,249.2 141.8,252.2 142.1,243.9 142.4,244.1 142.8,248.8 143.1,250.1 143.4,253.9 143.7,243.1 144.1,242.3 144.4,256.5 144.7,262.7 145.1,256.1 145.4,256.9 145.7,261.2 146,254.7 146.4,256.8 146.7,259.3 147,248.3 147.3,249.3 147.7,250.1 148,256 148.3,257.3 148.7,253.6 149,253.5 149.3,250.3 149.6,250.3 150,245.7 150.3,250.2 150.6,240.2 151,247.4 151.3,245.5 151.6,246 151.9,239.2 152.3,242.1 152.6,239.8 152.9,245 153.2,242.4 153.6,246.7 153.9,239.3 154.2,246.6 154.6,250.9 154.9,247.7 155.2,239.9 155.5,241.1 155.9,249.4 156.2,237 156.5,237 156.9,239.4 157.2,243.3 157.5,237.3 157.8,239.6 158.2,244.7 158.5,244.2 158.8,244.2 159.2,253 159.5,251.6 159.8,248.5 160.1,244.4 160.5,242.2 160.8,240.8 161.1,236.6 161.4,246.9 161.8,239.3 162.1,249.8 162.4,241.4 162.8,247.4 163.1,248.6 163.4,244.9 163.7,242.9 164.1,242.4 164.4,247.3 164.7,245.1 165.1,248.8 165.4,248 165.7,244.7 166,247.4 166.4,242.6 166.7,239.5 167,244.4 167.3,242.3 167.7,246 168,236.7 168.3,248.7 168.7,245.9 169,243.2 169.3,243.8 169.6,256.7 170,250.3 170.3,249.9 170.6,249.2 171,250.6 171.3,253 171.6,253.2 171.9,247.1 172.3,243.1 172.6,248.5 172.9,255.3 173.3,255.2 173.6,257.6 173.9,263.4 174.2,252 174.6,253.5 174.9,249.2 175.2,249.6 175.5,250.1 175.9,247.1 176.2,250.5 176.5,244.7 176.9,251.3 177.2,256.7 177.5,249.5 177.8,254.8 178.2,254.5 178.5,258.4 178.8,253.5 179.2,251 179.5,256.2 179.8,265.2 180.1,249.3 180.5,253 180.8,250.6 181.1,252.7 181.5,250.8 181.8,246.3 182.1,246.4 182.4,246.3 182.8,251.7 183.1,241.7 183.4,244.7 183.7,252.8 184.1,249.9 184.4,253.7 184.7,242.4 185.1,241.5 185.4,246.8 185.7,245.2 186,247.9 186.4,244.8 186.7,246.8 187,243.3 187.4,247 187.7,252 188,240 188.3,244 188.7,239.5 189,246.9 189.3,252.4 189.6,246.7 190,248.5 190.3,247.2 190.6,246.9 191,245.7 191.3,230.1 191.6,254.5 191.9,247.6 192.3,247.5 192.6,246.9 192.9,249.2 193.3,248.8 193.6,254.7 193.9,250.5 194.2,254.2 194.6,253 194.9,252.5 195.2,246.3 195.6,239.4 195.9,244.2 196.2,250.8 196.5,249.7 196.9,252.6 197.2,251.5 197.5,237.1 197.8,242.3 198.2,249.8 198.5,243.3 198.8,245.3 199.2,243.1 199.5,242.7 199.8,242.5 200.1,243.8 200.5,240 200.8,244.9 201.1,248.7 201.5,248.5 201.8,247.4 202.1,241.8 202.4,242.6 202.8,243.2 203.1,244.4 203.4,248.1 203.7,236.7 204.1,240.2 204.4,244.2 204.7,241.5 205.1,232.9 205.4,229.6 205.7,238.3 206,238.2 206.4,239.3 206.7,245.3 207,252.2 207.4,246.6 207.7,244.4 208,244.8 208.3,250.6 208.7,254.8 209,247.3 209.3,245.3 209.7,238.9 210,248.9 210.3,241.4 210.6,250.3 211,241.4 211.3,236.6 211.6,241.1 211.9,241.2 212.3,242.2 212.6,240.6 212.9,235.1 213.3,237.7 213.6,245 213.9,237.4 214.2,244.2 214.6,244.2 214.9,244.4 215.2,240.7 215.6,238.8 215.9,239.6 216.2,241.8 216.5,246.7 216.9,241.3 217.2,243.8 217.5,237.1 217.8,236.3 218.2,238.2 218.5,240.9 218.8,240.5 219.2,239.9 219.5,241.3 219.8,237.7 220.1,230.8 220.5,240.1 220.8,239 221.1,237 221.5,238.1 221.8,238.2 222.1,241.4 222.4,232.3 222.8,235.5 223.1,238.5 223.4,239.5 223.8,237.2 224.1,253.5 224.4,242.6 224.7,241.9 225.1,240.2 225.4,245.3 225.7,241.6 226,241 226.4,233.9 226.7,252 227,241 227.4,246.6 227.7,244.4 228,243.6 228.3,242 228.7,238.3 229,237.5 229.3,246.2 229.7,243.5 230,241.5 230.3,250.3 230.6,242.2 231,245.7 231.3,241.5 231.6,237.8 231.9,238.6 232.3,244 232.6,245.1 232.9,247.9 233.3,240.5 233.6,243.7 233.9,238.8 234.2,242.8 234.6,246.5 234.9,242.3 235.2,237.9 235.6,232.9 235.9,235.6 236.2,240 236.5,240.1 236.9,245.1 237.2,241.3 237.5,234.9 237.9,241.2 238.2,244.8 238.5,245.4 238.8,245 239.2,245.4 239.5,254.7 239.8,247.8 240.1,245.1 240.5,243 240.8,244.3 241.1,245.7 241.5,239.6 241.8,242.3 242.1,244.9 242.4,244.2 242.8,249.2 243.1,255.8 243.4,241.6 243.8,251.9 244.1,249.8 244.4,246.9 244.7,249.2 245.1,246.9 245.4,241.3 245.7,239.2 246,239 246.4,246.1 246.7,243.6 247,238.1 247.4,239.8 247.7,245.3 248,253.5 248.3,242.5 248.7,249.4 249,243.9 249.3,247.2 249.7,246.7 250,249.7 250.3,242.8 250.6,243.3 251,239.5 251.3,241.6 251.6,242.1 252,239.8 252.3,244.6 252.6,241.8 252.9,237.1 253.3,238.4 253.6,244.4 253.9,242.5 254.2,236.4 254.6,243.2 254.9,245.8 255.2,238.6 255.6,239 255.9,230.3 256.2,237.5 256.5,240.7 256.9,236.6 257.2,238.4 257.5,244.6 257.9,240.1 258.2,244.7 258.5,238.1 258.8,243.3 259.2,243.5 259.5,237.3 259.8,231.8 260.1,238 260.5,247.1 260.8,237.7 261.1,243.7 261.5,238.4 261.8,244.1 262.1,240.3 262.4,239.3 262.8,236.2 263.1,234.5 263.4,235.7 263.8,240.2 264.1,234.5 264.4,240.3 264.7,242.4 265.1,235.7 265.4,236.9 265.7,225.3 266.1,228.4 266.4,237.7 266.7,241.1 267,232.6 267.4,243.4 267.7,244 268,247.6 268.3,240.2 268.7,236.8 269,233.8 269.3,237 269.7,238.9 270,240 270.3,240.5 270.6,233.6 271,239.8 271.3,236.4 271.6,243.6 272,241.4 272.3,242.4 272.6,241.8 272.9,240.7 273.3,247.9 273.6,240.7 273.9,249.8 274.2,246.3 274.6,246.8 274.9,245.2 275.2,247.6 275.6,245.9 275.9,234.8 276.2,245.3 276.5,246.5 276.9,243.4 277.2,248.5 277.5,246.5 277.9,250.4 278.2,246.4 278.5,246.8 278.8,246.4 279.2,245.6 279.5,247.8 279.8,246.7 280.2,249 280.5,246.8 280.8,246.1 281.1,249.8 281.5,246.9 281.8,244.2 282.1,249.8 282.4,246.5 282.8,250.6 283.1,239.3 283.4,252.1 283.8,245.6 284.1,244.5 284.4,248.9 284.7,249.5 285.1,248.7 285.4,250.7 285.7,250.4 286.1,260.3 286.4,249.5 286.7,256.1 287,260.6 287.4,248.5 287.7,243 288,243.8 288.3,246.1 288.7,255.3 289,245.4 289.3,249.6 289.7,250.4 290,249.3 290.3,246.6 290.6,244.6 291,259.4 291.3,258.9 291.6,256.1 292,256.7 292.3,245.6 292.6,246.6 292.9,246.9 293.3,254.7 293.6,244.7 293.9,254.3 294.3,256 294.6,250.3 294.9,252.2 295.2,260.8 295.6,257 295.9,254.8 296.2,250.5 296.5,250.3 296.9,245.4 297.2,254.1 297.5,255.1 297.9,244.7 298.2,250 298.5,250.7 298.8,250.2 299.2,253.5 299.5,255.9 299.8,251.1 300.2,246.9 300.5,257.5 300.8,245.4 301.1,249.8 301.5,239 301.8,251.9 302.1,251.9 302.4,252.9 302.8,252.6 303.1,253.5 303.4,252.9 303.8,248.2 304.1,244.2 304.4,242 304.7,249.3 305.1,241.1 305.4,249.2" fill="none" stroke="#46728f" stroke-width="0.8" stroke-linejoin="round" clip-path="url(#cc)"/>
<polyline points="43.4,375.8 43.7,377.7 44.1,372.2 44.4,368.1 44.7,357.1 45,371.9 45.4,364.4 45.7,349.3 46,360.4 46.4,354.9 46.7,356.2 47,352.7 47.3,352.2 47.7,352.9 48,348.1 48.3,342.8 48.6,347.9 49,344.1 49.3,344.8 49.6,353.5 50,345.2 50.3,342.6 50.6,348.7 50.9,348.3 51.3,349.3 51.6,348.2 51.9,348.3 52.3,349.7 52.6,351.2 52.9,334.9 53.2,337.5 53.6,341.5 53.9,339 54.2,342.5 54.5,342.2 54.9,348.4 55.2,349 55.5,349.2 55.9,343.4 56.2,339.3 56.5,348.9 56.8,349 57.2,342.2 57.5,339.4 57.8,342.4 58.2,350.9 58.5,349.8 58.8,346.6 59.1,341.5 59.5,334.9 59.8,338.4 60.1,328.8 60.5,333.7 60.8,329.7 61.1,331.3 61.4,327.3 61.8,324.6 62.1,322.3 62.4,332.3 62.7,326.4 63.1,325.5 63.4,325.3 63.7,324.6 64.1,322.7 64.4,329.3 64.7,312.8 65,318.7 65.4,313.1 65.7,317 66,320.8 66.4,324 66.7,323.9 67,324.3 67.3,322.8 67.7,321.9 68,320.2 68.3,318.4 68.6,313.7 69,312.1 69.3,315.9 69.6,310.6 70,311.1 70.3,320 70.6,312.6 70.9,307.2 71.3,317.5 71.6,325.1 71.9,325.5 72.3,320.7 72.6,325.5 72.9,316.5 73.2,315.3 73.6,316 73.9,317.6 74.2,320.4 74.6,319.1 74.9,321.9 75.2,312.2 75.5,322.7 75.9,313.5 76.2,309 76.5,322.8 76.8,321.4 77.2,307.7 77.5,315.7 77.8,314.9 78.2,315.2 78.5,322.7 78.8,316.1 79.1,314.6 79.5,318.6 79.8,328.8 80.1,327.3 80.5,318.1 80.8,319.3 81.1,320 81.4,326.6 81.8,328.6 82.1,334.9 82.4,321.9 82.7,313.5 83.1,321.6 83.4,325.1 83.7,332.8 84.1,327.7 84.4,328.6 84.7,323.3 85,325.8 85.4,323.6 85.7,325.8 86,335 86.4,336.5 86.7,323.5 87,328.1 87.3,322.2 87.7,333.6 88,331.3 88.3,318.3 88.7,323.6 89,321.1 89.3,321.1 89.6,316.2 90,317.7 90.3,324.8 90.6,330 90.9,315.3 91.3,322 91.6,320.9 91.9,313.5 92.3,312.8 92.6,321.5 92.9,328.1 93.2,321.9 93.6,324.5 93.9,322.6 94.2,319.6 94.6,314.9 94.9,312.2 95.2,321.6 95.5,323.8 95.9,321.1 96.2,319.6 96.5,320.4 96.8,318 97.2,317.2 97.5,318 97.8,324.1 98.2,321.9 98.5,314.5 98.8,311.5 99.1,319.7 99.5,320.2 99.8,319 100.1,312.5 100.5,309 100.8,311.8 101.1,312.6 101.4,315.5 101.8,321.6 102.1,315.5 102.4,307.2 102.8,316.7 103.1,319.4 103.4,316.5 103.7,316 104.1,312.1 104.4,309.8 104.7,308.7 105,312.4 105.4,316.5 105.7,323.6 106,315.3 106.4,314.5 106.7,316.5 107,320.6 107.3,318.1 107.7,319.6 108,315.4 108.3,318.7 108.7,320.1 109,316.2 109.3,324.5 109.6,318.3 110,314.8 110.3,318.3 110.6,316.7 110.9,314.6 111.3,318.3 111.6,312.6 111.9,306.9 112.3,315.4 112.6,316 112.9,313.9 113.2,312.2 113.6,308.3 113.9,317.5 114.2,314.1 114.6,319.9 114.9,309.6 115.2,318.3 115.5,324.6 115.9,318.2 116.2,311 116.5,311.4 116.9,311.9 117.2,308.7 117.5,317.2 117.8,314.3 118.2,318.8 118.5,325.2 118.8,315.8 119.1,324.3 119.5,323.7 119.8,318.3 120.1,316.2 120.5,311.1 120.8,321 121.1,311.4 121.4,310.8 121.8,314.4 122.1,312.2 122.4,310 122.8,322 123.1,326.8 123.4,320.1 123.7,320.8 124.1,325.8 124.4,323.9 124.7,320.4 125,317.2 125.4,320.3 125.7,319.5 126,326.2 126.4,319.2 126.7,314.2 127,318.8 127.3,307.4 127.7,320.9 128,323 128.3,319.2 128.7,315.2 129,310.9 129.3,316.2 129.6,321.2 130,316.2 130.3,322.1 130.6,311.4 131,313.9 131.3,314.6 131.6,313.3 131.9,319.4 132.3,310.7 132.6,309.5 132.9,318 133.2,321 133.6,316.5 133.9,319.5 134.2,324.3 134.6,322.4 134.9,315.1 135.2,315.8 135.5,316.9 135.9,313.9 136.2,307.8 136.5,309.5 136.9,303.3 137.2,316.2 137.5,306.6 137.8,316.4 138.2,308.5 138.5,309.7 138.8,312.9 139.1,318.8 139.5,322.1 139.8,314.3 140.1,316 140.5,310.4 140.8,310.3 141.1,307.7 141.4,309.6 141.8,296 142.1,319.4 142.4,314.2 142.8,310.7 143.1,309.5 143.4,306.8 143.7,305.6 144.1,314.1 144.4,312.3 144.7,317.5 145.1,313.3 145.4,319.2 145.7,322.8 146,320.8 146.4,320.4 146.7,311.5 147,312 147.3,307.5 147.7,304.5 148,308.2 148.3,305.7 148.7,311.5 149,306.2 149.3,316.4 149.6,312.5 150,316.2 150.3,318.5 150.6,314.5 151,317.3 151.3,316.6 151.6,317.4 151.9,323.3 152.3,311.3 152.6,314 152.9,314.4 153.2,312.9 153.6,308.8 153.9,316.2 154.2,306 154.6,309.7 154.9,309.5 155.2,310.9 155.5,304.2 155.9,307.6 156.2,303.3 156.5,312.7 156.9,310.7 157.2,310.3 157.5,303.4 157.8,309.1 158.2,311.8 158.5,309.9 158.8,312.4 159.2,312.1 159.5,327.3 159.8,324.2 160.1,317.1 160.5,317 160.8,321.3 161.1,315 161.4,317.4 161.8,315.8 162.1,321.3 162.4,318.7 162.8,321.3 163.1,318.2 163.4,329.3 163.7,321.7 164.1,326.6 164.4,320 164.7,325.6 165.1,322.3 165.4,322.8 165.7,324 166,319.2 166.4,334.6 166.7,326.8 167,331.6 167.3,321.1 167.7,327.3 168,325.3 168.3,333.8 168.7,330 169,326.2 169.3,333.8 169.6,331.8 170,332.5 170.3,328.3 170.6,330 171,323.1 171.3,324.8 171.6,335.8 171.9,322.8 172.3,326 172.6,328.5 172.9,328.7 173.3,321.3 173.6,325.6 173.9,328.9 174.2,319.2 174.6,326.6 174.9,320.4 175.2,317.1 175.5,320.6 175.9,317.3 176.2,327.1 176.5,326.4 176.9,324.7 177.2,329.1 177.5,334.3 177.8,321.5 178.2,326.4 178.5,325.6 178.8,316.6 179.2,319.6 179.5,315.7 179.8,318.2 180.1,318.8 180.5,319.1 180.8,310.8 181.1,316.9 181.5,319.7 181.8,323.2 182.1,315.7 182.4,318.7 182.8,323.2 183.1,319 183.4,326.4 183.7,326.7 184.1,319.8 184.4,317 184.7,322.9 185.1,333.5 185.4,328.5 185.7,326.1 186,329 186.4,321.3 186.7,322.1 187,328.4 187.4,327.2 187.7,331.1 188,322.7 188.3,320.2 188.7,318.8 189,327.5 189.3,316.3 189.6,318.7 190,315.5 190.3,318.6 190.6,321.3 191,321.5 191.3,317.5 191.6,327.9 191.9,332.3 192.3,323.1 192.6,313.8 192.9,324.6 193.3,324.7 193.6,328.7 193.9,323.5 194.2,316.2 194.6,325.7 194.9,317.1 195.2,317.9 195.6,323.4 195.9,324.3 196.2,324.1 196.5,315.7 196.9,323.1 197.2,318.8 197.5,330.4 197.8,323.1 198.2,320.4 198.5,320.8 198.8,326.5 199.2,326.3 199.5,322.6 199.8,319 200.1,322.2 200.5,328.8 200.8,330.1 201.1,330.7 201.5,326.5 201.8,327 202.1,334.6 202.4,322.5 202.8,335.3 203.1,319.2 203.4,318.6 203.7,323.3 204.1,320.5 204.4,315.5 204.7,322.4 205.1,330.3 205.4,329.9 205.7,328.8 206,328.1 206.4,322.1 206.7,315.8 207,317.8 207.4,315.4 207.7,323.5 208,324.5 208.3,328 208.7,321.7 209,331.8 209.3,327.1 209.7,330.3 210,322.9 210.3,314.5 210.6,321 211,329.6 211.3,321.3 211.6,329.7 211.9,324.9 212.3,326 212.6,327.8 212.9,333.8 213.3,331.6 213.6,323.9 213.9,321.7 214.2,324.8 214.6,318 214.9,324.8 215.2,330.2 215.6,329.4 215.9,325 216.2,324.8 216.5,319.3 216.9,324.6 217.2,321 217.5,325.3 217.8,325.3 218.2,333.9 218.5,330.6 218.8,328 219.2,338.5 219.5,323.2 219.8,324.9 220.1,317.9 220.5,324.3 220.8,326.2 221.1,328.9 221.5,317.8 221.8,317.7 222.1,322 222.4,328 222.8,324 223.1,318.9 223.4,325.2 223.8,327.7 224.1,324.1 224.4,327.5 224.7,326.5 225.1,324.5 225.4,323.9 225.7,327 226,326.6 226.4,318.5 226.7,312.9 227,316.7 227.4,331 227.7,329.2 228,324 228.3,326.9 228.7,332.3 229,327.1 229.3,324.6 229.7,321.7 230,319.7 230.3,315.1 230.6,329.2 231,312.9 231.3,317.3 231.6,325.5 231.9,330.1 232.3,314.2 232.6,329 232.9,317.5 233.3,320.1 233.6,312.7 233.9,319.3 234.2,326.7 234.6,326.2 234.9,327.6 235.2,329.5 235.6,326 235.9,327.9 236.2,319.9 236.5,330.9 236.9,324 237.2,321.3 237.5,317.1 237.9,321.1 238.2,329.4 238.5,330.5 238.8,324.3 239.2,331.7 239.5,327.8 239.8,324.7 240.1,317.7 240.5,321.5 240.8,316.3 241.1,322.8 241.5,328.3 241.8,322.2 242.1,329.1 242.4,312.3 242.8,322.9 243.1,322.3 243.4,322.7 243.8,320.7 244.1,323.6 244.4,312.4 244.7,317.6 245.1,311.8 245.4,318.3 245.7,318.9 246,318.7 246.4,317.7 246.7,320.4 247,319.6 247.4,318.9 247.7,322.1 248,322.9 248.3,319.7 248.7,322.2 249,320 249.3,322.9 249.7,318.1 250,320 250.3,325.7 250.6,318.3 251,318.7 251.3,318.1 251.6,326 252,314.3 252.3,322 252.6,323.5 252.9,322.5 253.3,321.3 253.6,326.3 253.9,314.5 254.2,321.2 254.6,313.6 254.9,325 255.2,319.5 255.6,335.5 255.9,323.7 256.2,320.4 256.5,319.7 256.9,318 257.2,317.2 257.5,314.8 257.9,316 258.2,313.9 258.5,321.8 258.8,319.9 259.2,319.5 259.5,313.7 259.8,312 260.1,318.5 260.5,328.3 260.8,324 261.1,317.8 261.5,328 261.8,327.3 262.1,318.4 262.4,323.3 262.8,321.9 263.1,315.8 263.4,319.7 263.8,313 264.1,321.7 264.4,314 264.7,313.1 265.1,320.2 265.4,321.9 265.7,315.3 266.1,324.1 266.4,319.7 266.7,319.5 267,319.5 267.4,326.8 267.7,321.7 268,315.8 268.3,317 268.7,321.2 269,313.7 269.3,316.5 269.7,319.7 270,314.8 270.3,311.5 270.6,321.6 271,321.1 271.3,315.9 271.6,320.9 272,314.2 272.3,313.4 272.6,322.4 272.9,319.7 273.3,323.8 273.6,323.9 273.9,316.5 274.2,317.6 274.6,321.9 274.9,317.4 275.2,324.7 275.6,311.7 275.9,313.8 276.2,323.4 276.5,325.5 276.9,322.7 277.2,317 277.5,308.8 277.9,320.3 278.2,316 278.5,328.8 278.8,319.6 279.2,322.9 279.5,321.1 279.8,324.8 280.2,318.8 280.5,313.4 280.8,329.6 281.1,315.1 281.5,312.5 281.8,318 282.1,312.5 282.4,319.9 282.8,313.4 283.1,314.8 283.4,319.5 283.8,313 284.1,308.1 284.4,297.5 284.7,297.6 285.1,301.9 285.4,295.3 285.7,295.2 286.1,292.7 286.4,282.4 286.7,283.7 287,288.4 287.4,276.8 287.7,285.4 288,292.7 288.3,285.9 288.7,289 289,290.2 289.3,289.3 289.7,293.1 290,294.3 290.3,290.5 290.6,295.7 291,303.5 291.3,312.9 291.6,313.9 292,318.5 292.3,305.4 292.6,318.9 292.9,321.5 293.3,315.1 293.6,314 293.9,320 294.3,312.6 294.6,310.3 294.9,316.2 295.2,313 295.6,313.1 295.9,312 296.2,307 296.5,307.4 296.9,297.8 297.2,303 297.5,291 297.9,289.2 298.2,302.4 298.5,288.8 298.8,288.7 299.2,289.4 299.5,298.7 299.8,299.5 300.2,300 300.5,310.7 300.8,308.8 301.1,298.6 301.5,287.2 301.8,268.4 302.1,257.6 302.4,251.5 302.8,250.5 303.1,237.4 303.4,237.8 303.8,234.9 304.1,230.7 304.4,237.6 304.7,243.2 305.1,245.8 305.4,249.3" fill="none" stroke="#a5305c" stroke-width="0.8" stroke-linejoin="round" clip-path="url(#cc)"/>
<line x1="43.4" y1="223.8" x2="43.4" y2="377.7" stroke="#909090" stroke-width="1.1"/>
<line x1="305.4" y1="223.8" x2="305.4" y2="377.7" stroke="#cacaca" stroke-width="1.1"/>
<line x1="42.9" y1="224.3" x2="305.9" y2="224.3" stroke="#7a7a7a" stroke-width="1.1"/>
<line x1="42.9" y1="377.2" x2="305.9" y2="377.2" stroke="#707070" stroke-width="1.1"/>
<line x1="40.9" y1="361.2" x2="43.4" y2="361.2" stroke="#555" stroke-width="0.8"/>
<text x="0" y="0" font-family="Liberation Sans" font-size="4.3" fill="#383838" text-anchor="end" font-weight="normal" dominant-baseline="central" transform="translate(40.2 361.4) scale(1.1 1)">0.3</text>
<line x1="40.9" y1="344.9" x2="43.4" y2="344.9" stroke="#555" stroke-width="0.8"/>
<text x="0" y="0" font-family="Liberation Sans" font-size="4.3" fill="#383838" text-anchor="end" font-weight="normal" dominant-baseline="central" transform="translate(40.2 345.1) scale(1.1 1)">0.6</text>
<line x1="40.9" y1="328.6" x2="43.4" y2="328.6" stroke="#555" stroke-width="0.8"/>
<text x="0" y="0" font-family="Liberation Sans" font-size="4.3" fill="#383838" text-anchor="end" font-weight="normal" dominant-baseline="central" transform="translate(40.2 328.8) scale(1.1 1)">0.9</text>
<line x1="40.9" y1="312.3" x2="43.4" y2="312.3" stroke="#555" stroke-width="0.8"/>
<text x="0" y="0" font-family="Liberation Sans" font-size="4.3" fill="#383838" text-anchor="end" font-weight="normal" dominant-baseline="central" transform="translate(40.2 312.5) scale(1.1 1)">1.2</text>
<line x1="40.9" y1="296" x2="43.4" y2="296" stroke="#555" stroke-width="0.8"/>
<text x="0" y="0" font-family="Liberation Sans" font-size="4.3" fill="#383838" text-anchor="end" font-weight="normal" dominant-baseline="central" transform="translate(40.2 296.2) scale(1.1 1)">1.5</text>
<line x1="40.9" y1="279.7" x2="43.4" y2="279.7" stroke="#555" stroke-width="0.8"/>
<text x="0" y="0" font-family="Liberation Sans" font-size="4.3" fill="#383838" text-anchor="end" font-weight="normal" dominant-baseline="central" transform="translate(40.2 279.9) scale(1.1 1)">1.8</text>
<line x1="40.9" y1="263.4" x2="43.4" y2="263.4" stroke="#555" stroke-width="0.8"/>
<text x="0" y="0" font-family="Liberation Sans" font-size="4.3" fill="#383838" text-anchor="end" font-weight="normal" dominant-baseline="central" transform="translate(40.2 263.6) scale(1.1 1)">2.1</text>
<line x1="40.9" y1="247.1" x2="43.4" y2="247.1" stroke="#555" stroke-width="0.8"/>
<text x="0" y="0" font-family="Liberation Sans" font-size="4.3" fill="#383838" text-anchor="end" font-weight="normal" dominant-baseline="central" transform="translate(40.2 247.3) scale(1.1 1)">2.4</text>
<line x1="40.9" y1="230.8" x2="43.4" y2="230.8" stroke="#555" stroke-width="0.8"/>
<text x="0" y="0" font-family="Liberation Sans" font-size="4.3" fill="#383838" text-anchor="end" font-weight="normal" dominant-baseline="central" transform="translate(40.2 231) scale(1.1 1)">2.7</text>
<line x1="305.4" y1="361.3" x2="307.9" y2="361.3" stroke="#555" stroke-width="0.8"/>
<text x="0" y="0" font-family="Liberation Sans" font-size="4.3" fill="#8e3058" text-anchor="start" font-weight="normal" dominant-baseline="central" transform="translate(308.8 361.5) scale(1.1 1)">0.6</text>
<line x1="305.4" y1="345.8" x2="307.9" y2="345.8" stroke="#555" stroke-width="0.8"/>
<text x="0" y="0" font-family="Liberation Sans" font-size="4.3" fill="#8e3058" text-anchor="start" font-weight="normal" dominant-baseline="central" transform="translate(308.8 346) scale(1.1 1)">1.2</text>
<line x1="305.4" y1="330.3" x2="307.9" y2="330.3" stroke="#555" stroke-width="0.8"/>
<text x="0" y="0" font-family="Liberation Sans" font-size="4.3" fill="#8e3058" text-anchor="start" font-weight="normal" dominant-baseline="central" transform="translate(308.8 330.5) scale(1.1 1)">1.8</text>
<line x1="305.4" y1="314.8" x2="307.9" y2="314.8" stroke="#555" stroke-width="0.8"/>
<text x="0" y="0" font-family="Liberation Sans" font-size="4.3" fill="#8e3058" text-anchor="start" font-weight="normal" dominant-baseline="central" transform="translate(308.8 315) scale(1.1 1)">2.4</text>
<line x1="305.4" y1="299.3" x2="307.9" y2="299.3" stroke="#555" stroke-width="0.8"/>
<text x="0" y="0" font-family="Liberation Sans" font-size="4.3" fill="#8e3058" text-anchor="start" font-weight="normal" dominant-baseline="central" transform="translate(308.8 299.5) scale(1.1 1)">3.0</text>
<line x1="305.4" y1="283.8" x2="307.9" y2="283.8" stroke="#555" stroke-width="0.8"/>
<text x="0" y="0" font-family="Liberation Sans" font-size="4.3" fill="#8e3058" text-anchor="start" font-weight="normal" dominant-baseline="central" transform="translate(308.8 284) scale(1.1 1)">3.6</text>
<line x1="305.4" y1="268.3" x2="307.9" y2="268.3" stroke="#555" stroke-width="0.8"/>
<text x="0" y="0" font-family="Liberation Sans" font-size="4.3" fill="#8e3058" text-anchor="start" font-weight="normal" dominant-baseline="central" transform="translate(308.8 268.5) scale(1.1 1)">4.2</text>
<line x1="305.4" y1="252.8" x2="307.9" y2="252.8" stroke="#555" stroke-width="0.8"/>
<text x="0" y="0" font-family="Liberation Sans" font-size="4.3" fill="#8e3058" text-anchor="start" font-weight="normal" dominant-baseline="central" transform="translate(308.8 253) scale(1.1 1)">4.8</text>
<line x1="305.4" y1="237.3" x2="307.9" y2="237.3" stroke="#555" stroke-width="0.8"/>
<text x="0" y="0" font-family="Liberation Sans" font-size="4.3" fill="#8e3058" text-anchor="start" font-weight="normal" dominant-baseline="central" transform="translate(308.8 237.5) scale(1.1 1)">5.4</text>
<line x1="43.4" y1="377.2" x2="43.4" y2="379.7" stroke="#555" stroke-width="0.8"/>
<text x="0" y="0" font-family="Liberation Sans" font-size="4.3" fill="#333" text-anchor="middle" font-weight="normal" dominant-baseline="central" transform="translate(43.4 382.2) scale(1.1 1)">0</text>
<line x1="95.8" y1="377.2" x2="95.8" y2="379.7" stroke="#555" stroke-width="0.8"/>
<text x="0" y="0" font-family="Liberation Sans" font-size="4.3" fill="#333" text-anchor="middle" font-weight="normal" dominant-baseline="central" transform="translate(95.8 382.2) scale(1.1 1)">20</text>
<line x1="148.2" y1="377.2" x2="148.2" y2="379.7" stroke="#555" stroke-width="0.8"/>
<text x="0" y="0" font-family="Liberation Sans" font-size="4.3" fill="#333" text-anchor="middle" font-weight="normal" dominant-baseline="central" transform="translate(148.2 382.2) scale(1.1 1)">40</text>
<line x1="200.6" y1="377.2" x2="200.6" y2="379.7" stroke="#555" stroke-width="0.8"/>
<text x="0" y="0" font-family="Liberation Sans" font-size="4.3" fill="#333" text-anchor="middle" font-weight="normal" dominant-baseline="central" transform="translate(200.6 382.2) scale(1.1 1)">60</text>
<line x1="253" y1="377.2" x2="253" y2="379.7" stroke="#555" stroke-width="0.8"/>
<text x="0" y="0" font-family="Liberation Sans" font-size="4.3" fill="#333" text-anchor="middle" font-weight="normal" dominant-baseline="central" transform="translate(253 382.2) scale(1.1 1)">80</text>
<line x1="305.4" y1="377.2" x2="305.4" y2="379.7" stroke="#555" stroke-width="0.8"/>
<text x="0" y="0" font-family="Liberation Sans" font-size="4.3" fill="#333" text-anchor="middle" font-weight="normal" dominant-baseline="central" transform="translate(305.4 382.2) scale(1.1 1)">100</text>
<text x="174.6" y="388.4" font-family="Liberation Sans" font-size="7.6" fill="#111" text-anchor="middle" font-weight="normal" dominant-baseline="central" stroke="#111" stroke-width="0.12">Time (nsec)</text>
<text x="0" y="0" font-family="Liberation Sans" font-size="6.4" fill="#111" text-anchor="middle" font-weight="normal" dominant-baseline="central" transform="translate(28 300.3) rotate(-90) scale(1.07 1)" stroke="#111" stroke-width="0.1">Protein RMSD (&#197;)</text>
<text x="0" y="0" font-family="Liberation Sans" font-size="6.4" fill="#8a2050" text-anchor="middle" font-weight="normal" dominant-baseline="central" transform="translate(321.1 300.8) rotate(90) scale(1.11 1)" stroke="#8a2050" stroke-width="0.1">Ligand RMSD (&#197;)</text>
<rect x="147.6" y="211.1" width="53.2" height="4.4" fill="#fff" stroke="#ddd" stroke-width="0.4"/>
<rect x="148.1" y="211.7" width="7" height="3.1" fill="#46728f"/>
<rect x="161.2" y="211.7" width="6.8" height="3.1" fill="#a5305c"/>
<text x="155.4" y="213.4" font-family="Liberation Sans" font-size="4.4" fill="#222" text-anchor="start" font-weight="normal" dominant-baseline="central">C&#945;</text>
<text x="0" y="0" font-family="Liberation Sans" font-size="4.3" fill="#222" text-anchor="start" font-weight="normal" dominant-baseline="central" transform="translate(168.3 213.4) scale(1.22 1)">Lig fit on Prot</text>
<text x="5.5" y="421.1" font-family="Liberation Sans" font-weight="bold" font-size="30" fill="#000">e</text>
<polyline points="43.4,507.6 43.7,499.5 44.1,499.3 44.4,491.2 44.7,488.3 45,493.6 45.4,492.8 45.7,493.6 46,489.5 46.4,492.1 46.7,490.2 47,487.6 47.3,491.4 47.7,486.6 48,483.7 48.3,475.6 48.6,479.6 49,471.1 49.3,476.8 49.6,475.9 50,472.3 50.3,473.9 50.6,475.3 50.9,476.4 51.3,474.3 51.6,466.6 51.9,482.4 52.3,479.7 52.6,476.2 52.9,467 53.2,468.4 53.6,469.5 53.9,467.2 54.2,472.4 54.5,469.3 54.9,458.3 55.2,460.5 55.5,460 55.9,456.8 56.2,461.2 56.5,461.2 56.8,458.1 57.2,460.5 57.5,458.3 57.8,456.7 58.2,458.2 58.5,458.1 58.8,459.2 59.1,449.8 59.5,449.2 59.8,454.7 60.1,454.3 60.5,459.3 60.8,464 61.1,453.8 61.4,454.7 61.8,462 62.1,462.1 62.4,465.5 62.7,464.5 63.1,463.9 63.4,455.8 63.7,462.7 64.1,454.5 64.4,458.1 64.7,454.5 65,455.9 65.4,465.2 65.7,458.9 66,457.6 66.4,457.2 66.7,455.4 67,450.4 67.3,458.7 67.7,451.5 68,455 68.3,453.7 68.6,452.3 69,453.2 69.3,447.3 69.6,448.4 70,446.7 70.3,443.4 70.6,449.9 70.9,447.8 71.3,440.8 71.6,448.9 71.9,446.8 72.3,446.4 72.6,444.1 72.9,449.1 73.2,453.6 73.6,448.9 73.9,448.8 74.2,448.3 74.6,449.4 74.9,454.1 75.2,451.9 75.5,457.5 75.9,453.5 76.2,446.3 76.5,443.1 76.8,440.8 77.2,447.4 77.5,457.1 77.8,444 78.2,450.9 78.5,447.2 78.8,447 79.1,446.7 79.5,445.5 79.8,447.1 80.1,444.8 80.5,448.6 80.8,451.2 81.1,451.3 81.4,449.7 81.8,453.5 82.1,453.5 82.4,454.5 82.7,452.2 83.1,460 83.4,446.9 83.7,454.5 84.1,453 84.4,447.4 84.7,451.8 85,454.5 85.4,449.1 85.7,454.4 86,453.1 86.4,451.4 86.7,443.3 87,445.8 87.3,446.6 87.7,453.5 88,450.6 88.3,457.6 88.7,448.1 89,440.6 89.3,453.2 89.6,450.1 90,453.6 90.3,454.8 90.6,445.9 90.9,449.8 91.3,459.9 91.6,449.6 91.9,453.3 92.3,449 92.6,451.3 92.9,447.9 93.2,449.6 93.6,447.5 93.9,452.1 94.2,447.7 94.6,446.4 94.9,447.4 95.2,452.5 95.5,450.7 95.9,448.5 96.2,454.4 96.5,443.2 96.8,443.1 97.2,440.4 97.5,440.8 97.8,444.3 98.2,455.4 98.5,442.9 98.8,445.3 99.1,448.1 99.5,443.1 99.8,446.7 100.1,445.8 100.5,448.6 100.8,450.4 101.1,461 101.4,448.5 101.8,446.7 102.1,453.7 102.4,450.7 102.8,454.9 103.1,449.7 103.4,450.5 103.7,449.1 104.1,447.5 104.4,446.5 104.7,448 105,447 105.4,448.6 105.7,447.8 106,440.8 106.4,446.9 106.7,451.4 107,449.9 107.3,450.6 107.7,452.2 108,446.3 108.3,444 108.7,445.1 109,448.4 109.3,450.8 109.6,453.1 110,452.2 110.3,455.5 110.6,449.5 110.9,447.7 111.3,447.4 111.6,442.1 111.9,449.6 112.3,454.2 112.6,453.5 112.9,447.3 113.2,449 113.6,455 113.9,455.9 114.2,455.3 114.6,454.6 114.9,450.9 115.2,449.6 115.5,454.2 115.9,451.1 116.2,452.9 116.5,451.4 116.9,449 117.2,455.7 117.5,454 117.8,449.9 118.2,450.4 118.5,458.2 118.8,446.6 119.1,449.9 119.5,444.6 119.8,448.1 120.1,446.4 120.5,454.1 120.8,449 121.1,450.7 121.4,456.5 121.8,447.2 122.1,453.3 122.4,444.6 122.8,450.3 123.1,448.2 123.4,444.5 123.7,448.8 124.1,443.1 124.4,446.5 124.7,444.7 125,448.7 125.4,451.7 125.7,447.3 126,441.3 126.4,439.5 126.7,447.6 127,445.4 127.3,439.1 127.7,439 128,440.1 128.3,442 128.7,441.8 129,444.9 129.3,438 129.6,444.4 130,439.7 130.3,440.6 130.6,440.6 131,445.9 131.3,443.5 131.6,444.6 131.9,444 132.3,446.9 132.6,453 132.9,445.9 133.2,444.1 133.6,449.6 133.9,451.3 134.2,451.6 134.6,446.5 134.9,440.7 135.2,447.2 135.5,455.1 135.9,445.1 136.2,447.7 136.5,444.6 136.9,442 137.2,444.2 137.5,449.2 137.8,445.6 138.2,445.1 138.5,434.5 138.8,439 139.1,430 139.5,431.7 139.8,437.5 140.1,445.6 140.5,440.3 140.8,440.3 141.1,434.6 141.4,439 141.8,441.2 142.1,439.5 142.4,434.3 142.8,437.6 143.1,447.8 143.4,445.2 143.7,451.1 144.1,443.3 144.4,436.6 144.7,440.8 145.1,439.4 145.4,445.5 145.7,439.9 146,445.3 146.4,444.5 146.7,442.8 147,434.7 147.3,443.4 147.7,441.3 148,444 148.3,444.6 148.7,447.6 149,441.8 149.3,454 149.6,440.5 150,442.5 150.3,451.7 150.6,436.6 151,443.7 151.3,439.1 151.6,435.5 151.9,436.8 152.3,438.4 152.6,435.1 152.9,435.9 153.2,445.4 153.6,444 153.9,447.8 154.2,452.7 154.6,454 154.9,449 155.2,441 155.5,444.8 155.9,442.4 156.2,442.7 156.5,448.1 156.9,447 157.2,446 157.5,447.9 157.8,451.3 158.2,447.4 158.5,446.5 158.8,452.8 159.2,452.9 159.5,446.4 159.8,451.2 160.1,440.5 160.5,445.9 160.8,440 161.1,446.2 161.4,448.7 161.8,455.2 162.1,455 162.4,444.6 162.8,448.2 163.1,442.4 163.4,445.4 163.7,447.4 164.1,451.3 164.4,449 164.7,453.6 165.1,447.9 165.4,445.4 165.7,444.8 166,445 166.4,442.7 166.7,446.6 167,439.8 167.3,439.8 167.7,444.8 168,451.4 168.3,449.9 168.7,445.3 169,455.5 169.3,448.3 169.6,449.6 170,443.8 170.3,449.1 170.6,449.6 171,443 171.3,444.7 171.6,448 171.9,446.3 172.3,446.8 172.6,448.1 172.9,447.6 173.3,448.8 173.6,451.3 173.9,448.4 174.2,449 174.6,451.3 174.9,451.1 175.2,447.8 175.5,444.8 175.9,447.4 176.2,442.7 176.5,449 176.9,442.4 177.2,447.2 177.5,446 177.8,447.1 178.2,450.3 178.5,449.6 178.8,454.1 179.2,449.1 179.5,453.2 179.8,444.8 180.1,443.1 180.5,449.1 180.8,455.7 181.1,456.3 181.5,451.7 181.8,449.4 182.1,446.7 182.4,456.6 182.8,452.4 183.1,451.3 183.4,447.9 183.7,450 184.1,444 184.4,452.5 184.7,445.4 185.1,451.4 185.4,449.5 185.7,447.3 186,448.7 186.4,450.3 186.7,457.1 187,454.9 187.4,457.9 187.7,451.8 188,452.4 188.3,457.2 188.7,462 189,449.1 189.3,452.3 189.6,444.8 190,451.9 190.3,453.5 190.6,453.7 191,447.4 191.3,451 191.6,447.5 191.9,447 192.3,452.9 192.6,446.4 192.9,445.1 193.3,452.6 193.6,451 193.9,445.8 194.2,445.4 194.6,446.4 194.9,452.7 195.2,453 195.6,453.1 195.9,449.3 196.2,453.5 196.5,453 196.9,459.7 197.2,459.7 197.5,450 197.8,448.5 198.2,449.8 198.5,451.9 198.8,454.8 199.2,455.8 199.5,449.1 199.8,451.4 200.1,451.5 200.5,454.3 200.8,452.9 201.1,461 201.5,448.4 201.8,448.3 202.1,449.6 202.4,459.6 202.8,456.4 203.1,459.7 203.4,453.9 203.7,456.1 204.1,451.4 204.4,452.9 204.7,450.9 205.1,458.4 205.4,452.3 205.7,452.3 206,453.2 206.4,455.3 206.7,444.3 207,449.9 207.4,456.8 207.7,456 208,450.3 208.3,453.3 208.7,452.7 209,453.1 209.3,448.9 209.7,454.7 210,454 210.3,450.9 210.6,443.4 211,450 211.3,453.3 211.6,448.3 211.9,450.6 212.3,445.7 212.6,453.1 212.9,449.5 213.3,443.1 213.6,445.4 213.9,445.6 214.2,451.9 214.6,453.4 214.9,451.2 215.2,450.9 215.6,456 215.9,445.2 216.2,448.1 216.5,446.8 216.9,450.2 217.2,447.6 217.5,452.7 217.8,458.5 218.2,460.3 218.5,451.6 218.8,455.6 219.2,455.5 219.5,451.7 219.8,457.5 220.1,452.5 220.5,452.4 220.8,451.3 221.1,452.1 221.5,447.4 221.8,446.3 222.1,449.2 222.4,450 222.8,443.6 223.1,449.8 223.4,447.9 223.8,445.9 224.1,454.2 224.4,450.4 224.7,454.6 225.1,456.1 225.4,457.6 225.7,460.1 226,450.9 226.4,447.7 226.7,451.7 227,455.3 227.4,457.4 227.7,454.9 228,457.5 228.3,452.9 228.7,445.9 229,445.3 229.3,452 229.7,452 230,454.3 230.3,456.1 230.6,458.1 231,445.5 231.3,450.1 231.6,449.6 231.9,444.2 232.3,450.5 232.6,453.5 232.9,452.3 233.3,447.9 233.6,447.8 233.9,449.8 234.2,446.9 234.6,448 234.9,449.3 235.2,446.5 235.6,440.1 235.9,438.6 236.2,448.4 236.5,447.3 236.9,448.4 237.2,450.8 237.5,445.3 237.9,449.7 238.2,449.8 238.5,453.3 238.8,446.2 239.2,451.3 239.5,445 239.8,448.5 240.1,453.7 240.5,451.1 240.8,455.4 241.1,445.6 241.5,442.8 241.8,450.5 242.1,455.4 242.4,452.1 242.8,447.9 243.1,449.1 243.4,452.3 243.8,449.4 244.1,452.9 244.4,449.7 244.7,444.4 245.1,445.8 245.4,448.1 245.7,446.2 246,445.2 246.4,446.6 246.7,450.3 247,458.5 247.4,445.9 247.7,447.7 248,445.8 248.3,447.8 248.7,450.2 249,442.8 249.3,449.9 249.7,452.8 250,454.6 250.3,452.6 250.6,448 251,453.7 251.3,449.2 251.6,445.1 252,448.3 252.3,448.3 252.6,451.7 252.9,452.6 253.3,448.5 253.6,445.4 253.9,439.5 254.2,444.8 254.6,454.8 254.9,450.9 255.2,446.4 255.6,445.1 255.9,441.5 256.2,449.3 256.5,445.7 256.9,439.3 257.2,439.8 257.5,449.7 257.9,441.9 258.2,444.5 258.5,445 258.8,448.2 259.2,442.4 259.5,443.1 259.8,447.1 260.1,441.6 260.5,444.2 260.8,447 261.1,444.6 261.5,441.4 261.8,443.2 262.1,443.3 262.4,446.3 262.8,444.9 263.1,440.1 263.4,446.1 263.8,443.1 264.1,439.5 264.4,440.8 264.7,436.9 265.1,440.9 265.4,438.3 265.7,444.7 266.1,440.8 266.4,443.5 266.7,447.3 267,442.6 267.4,438.4 267.7,439.6 268,446.9 268.3,450.1 268.7,439.9 269,444.9 269.3,440.5 269.7,437.9 270,441.6 270.3,447.9 270.6,444.8 271,447.2 271.3,451.2 271.6,444.7 272,443.9 272.3,439.7 272.6,440.7 272.9,442.6 273.3,443.5 273.6,437.1 273.9,444.7 274.2,450.3 274.6,449.3 274.9,448.8 275.2,438.9 275.6,442.8 275.9,447.7 276.2,444.1 276.5,443.9 276.9,446.3 277.2,441.9 277.5,448 277.9,445.5 278.2,444.5 278.5,448.5 278.8,446.7 279.2,440.2 279.5,448.8 279.8,451.1 280.2,450.4 280.5,445.1 280.8,450.9 281.1,453.1 281.5,451.5 281.8,442.3 282.1,441 282.4,442.5 282.8,445.4 283.1,454.4 283.4,445.3 283.8,443.3 284.1,446.2 284.4,452.2 284.7,453.2 285.1,448.4 285.4,459.1 285.7,447.6 286.1,443.3 286.4,454 286.7,452.1 287,449.4 287.4,452 287.7,450.4 288,451.3 288.3,453.9 288.7,447.1 289,450.1 289.3,444 289.7,445.4 290,452.7 290.3,443.7 290.6,444.4 291,445.6 291.3,448.1 291.6,447.3 292,449.7 292.3,447.4 292.6,447.6 292.9,451.4 293.3,454.3 293.6,451.3 293.9,445.9 294.3,447.2 294.6,448.6 294.9,452.3 295.2,453 295.6,444.3 295.9,449.1 296.2,445.2 296.5,449.4 296.9,450.9 297.2,446.1 297.5,448.8 297.9,450.4 298.2,449.5 298.5,447 298.8,446.5 299.2,451.1 299.5,449.5 299.8,451.8 300.2,453.9 300.5,449.5 300.8,455.2 301.1,456.9 301.5,452.6 301.8,452 302.1,448.4 302.4,453.9 302.8,451.7 303.1,445.2 303.4,439 303.8,449.9 304.1,449.2 304.4,448.7 304.7,444.4 305.1,445.2 305.4,449.6" fill="none" stroke="#46728f" stroke-width="0.8" stroke-linejoin="round" clip-path="url(#ce)"/>
<polyline points="43.4,557.5 43.7,549.3 44.1,545 44.4,528.8 44.7,529.4 45,527.4 45.4,527.4 45.7,529.4 46,529.2 46.4,529.2 46.7,527.8 47,528.7 47.3,525.6 47.7,526.1 48,528.2 48.3,530.6 48.6,522.9 49,523.6 49.3,524.1 49.6,523.9 50,531.8 50.3,529.2 50.6,526.3 50.9,521.9 51.3,520.5 51.6,518.4 51.9,520.5 52.3,524.6 52.6,515.9 52.9,524.9 53.2,524.1 53.6,530 53.9,522.2 54.2,527.6 54.5,532.1 54.9,540.9 55.2,541.3 55.5,530.2 55.9,536 56.2,536 56.5,529.4 56.8,535.6 57.2,537.4 57.5,535.3 57.8,535.7 58.2,540.4 58.5,535.6 58.8,540.6 59.1,532.7 59.5,530.1 59.8,525.2 60.1,525.2 60.5,530.3 60.8,531.4 61.1,536 61.4,537.7 61.8,539.8 62.1,534.2 62.4,533.7 62.7,538.2 63.1,523.7 63.4,502.9 63.7,483.1 64.1,469.1 64.4,471.6 64.7,473.2 65,467.2 65.4,466.4 65.7,464.5 66,462 66.4,465.3 66.7,463.1 67,466.8 67.3,461 67.7,458.9 68,458.3 68.3,463.1 68.6,455.2 69,456.7 69.3,457.5 69.6,453.4 70,454.7 70.3,458.9 70.6,443.9 70.9,456.7 71.3,457.4 71.6,452.5 71.9,455.1 72.3,460.2 72.6,460.1 72.9,461.1 73.2,456.8 73.6,455.4 73.9,461.6 74.2,464.5 74.6,467.1 74.9,460.2 75.2,468 75.5,461.6 75.9,464.2 76.2,460.4 76.5,462.6 76.8,461.5 77.2,456.9 77.5,458.9 77.8,463.8 78.2,461.5 78.5,461.1 78.8,461.5 79.1,458 79.5,457.9 79.8,455.7 80.1,452.7 80.5,457.8 80.8,449.9 81.1,457.4 81.4,459.5 81.8,461.7 82.1,457.9 82.4,453.5 82.7,453.1 83.1,456.3 83.4,452.4 83.7,456.1 84.1,457 84.4,454.8 84.7,458.1 85,455.1 85.4,453.2 85.7,459.8 86,454.8 86.4,456.2 86.7,457.9 87,454.9 87.3,453.4 87.7,455.3 88,459.6 88.3,461.8 88.7,458.4 89,461.9 89.3,466 89.6,463.9 90,461.6 90.3,455.7 90.6,447.4 90.9,449.1 91.3,455.1 91.6,459.3 91.9,456.7 92.3,456.3 92.6,458.5 92.9,457 93.2,460.2 93.6,452.5 93.9,454.6 94.2,454.1 94.6,456.4 94.9,453.7 95.2,454 95.5,458 95.9,458.7 96.2,458.2 96.5,454.2 96.8,458.3 97.2,453.9 97.5,459.8 97.8,457.5 98.2,454.6 98.5,460.4 98.8,455.7 99.1,453.3 99.5,451.9 99.8,455.1 100.1,460.4 100.5,461.3 100.8,457.4 101.1,455.6 101.4,455.3 101.8,453.2 102.1,454.4 102.4,455.2 102.8,450.7 103.1,449.4 103.4,456.9 103.7,460.7 104.1,455.8 104.4,462.3 104.7,455.6 105,456.8 105.4,457.9 105.7,454.5 106,453.9 106.4,455.3 106.7,454.6 107,454.5 107.3,460.9 107.7,456.3 108,454.7 108.3,450.3 108.7,455 109,452.3 109.3,452 109.6,463.2 110,451.1 110.3,457.3 110.6,456.9 110.9,458.4 111.3,455.4 111.6,457 111.9,451.6 112.3,456.4 112.6,457.8 112.9,455 113.2,453 113.6,456.6 113.9,454.2 114.2,448.8 114.6,457.2 114.9,461.3 115.2,459.3 115.5,453.2 115.9,449.7 116.2,455.6 116.5,455.8 116.9,454.3 117.2,459.3 117.5,454.2 117.8,457.1 118.2,456.9 118.5,456.4 118.8,460.6 119.1,460.4 119.5,458.4 119.8,457 120.1,453.6 120.5,456.9 120.8,453.9 121.1,450.5 121.4,450.3 121.8,455.2 122.1,453.9 122.4,448.2 122.8,456 123.1,455.1 123.4,459.5 123.7,453.3 124.1,457.2 124.4,456.8 124.7,454.7 125,457.5 125.4,458.2 125.7,450.4 126,450.9 126.4,458.4 126.7,456.6 127,454.5 127.3,456 127.7,457.7 128,453.6 128.3,452.6 128.7,460.1 129,459 129.3,459 129.6,463.6 130,450.8 130.3,456.3 130.6,455.9 131,455.5 131.3,454.1 131.6,448.1 131.9,454.8 132.3,456.1 132.6,464.8 132.9,463.4 133.2,456 133.6,460.3 133.9,454 134.2,447.9 134.6,448.8 134.9,449.7 135.2,454.2 135.5,456.2 135.9,460.8 136.2,454 136.5,450.5 136.9,449.3 137.2,444.2 137.5,444.5 137.8,454 138.2,451.5 138.5,446.7 138.8,456.5 139.1,450.3 139.5,460.2 139.8,460.4 140.1,462.7 140.5,456.5 140.8,449.4 141.1,454.4 141.4,452.8 141.8,450.3 142.1,453.1 142.4,455.2 142.8,457.6 143.1,458.7 143.4,459.1 143.7,455.2 144.1,451.5 144.4,452.9 144.7,454.1 145.1,457.7 145.4,456 145.7,460.1 146,461.3 146.4,456.4 146.7,455 147,456.9 147.3,454.6 147.7,450.7 148,447.9 148.3,454.7 148.7,457.5 149,451.4 149.3,456.9 149.6,457.1 150,461.9 150.3,456.5 150.6,456.5 151,458.1 151.3,453.7 151.6,453.4 151.9,454.1 152.3,451.2 152.6,454 152.9,455.7 153.2,452.1 153.6,455.3 153.9,459.5 154.2,461.2 154.6,455.2 154.9,449.3 155.2,455.5 155.5,457.8 155.9,455.8 156.2,451.8 156.5,448.5 156.9,454.2 157.2,453 157.5,454.5 157.8,457.6 158.2,453.9 158.5,455 158.8,457.8 159.2,462.8 159.5,461.1 159.8,453.3 160.1,452.1 160.5,459.6 160.8,453.7 161.1,461.3 161.4,459.7 161.8,459.1 162.1,452.7 162.4,453.8 162.8,457.1 163.1,454.4 163.4,456.7 163.7,449.4 164.1,458 164.4,452.8 164.7,455.4 165.1,456.4 165.4,448.9 165.7,454.5 166,455.6 166.4,450.6 166.7,453.6 167,459.5 167.3,455.6 167.7,455.8 168,451.4 168.3,461.6 168.7,457.7 169,455.6 169.3,456.2 169.6,456.7 170,455.2 170.3,447.8 170.6,457 171,460.8 171.3,456.5 171.6,462.2 171.9,463.1 172.3,453.5 172.6,457.9 172.9,455.9 173.3,464.4 173.6,457.6 173.9,459.6 174.2,456.4 174.6,456.3 174.9,457.3 175.2,460.6 175.5,456.8 175.9,463 176.2,452.2 176.5,455.8 176.9,452.3 177.2,451.6 177.5,458.7 177.8,452.8 178.2,454.2 178.5,452.2 178.8,455 179.2,459.7 179.5,457.6 179.8,462.4 180.1,450.2 180.5,456.3 180.8,458.2 181.1,456.5 181.5,451.2 181.8,450.6 182.1,451.4 182.4,455.6 182.8,452.2 183.1,452.1 183.4,455.2 183.7,455.6 184.1,454 184.4,456.6 184.7,457.3 185.1,457.2 185.4,459.4 185.7,454.2 186,451.1 186.4,455.6 186.7,445.7 187,455.5 187.4,456.4 187.7,458.9 188,459 188.3,456.8 188.7,454.7 189,460.5 189.3,463.5 189.6,449.9 190,452.8 190.3,456.5 190.6,457.9 191,449.5 191.3,451.7 191.6,447.4 191.9,448.8 192.3,450.5 192.6,458.8 192.9,454.3 193.3,460.4 193.6,461.3 193.9,455 194.2,460.2 194.6,451.3 194.9,449.1 195.2,454.8 195.6,457 195.9,462.6 196.2,459.1 196.5,454.8 196.9,456.7 197.2,454.1 197.5,452.7 197.8,446.1 198.2,451.1 198.5,450.1 198.8,450.3 199.2,453.5 199.5,453 199.8,452.2 200.1,452.5 200.5,453.2 200.8,453 201.1,455.7 201.5,450.4 201.8,451.5 202.1,451.3 202.4,457 202.8,461.4 203.1,453.6 203.4,454.8 203.7,452.3 204.1,453.8 204.4,456.9 204.7,450.3 205.1,457.1 205.4,451.8 205.7,448.5 206,446.6 206.4,454.4 206.7,451.1 207,452.1 207.4,448.2 207.7,445.9 208,451.3 208.3,451.6 208.7,459 209,458.3 209.3,452.7 209.7,454.4 210,452.6 210.3,455.1 210.6,455.8 211,452 211.3,452.3 211.6,457.2 211.9,448.8 212.3,457.2 212.6,458.9 212.9,461.5 213.3,461.1 213.6,454.3 213.9,447.9 214.2,444.9 214.6,443.6 214.9,451.5 215.2,454.1 215.6,449.5 215.9,447 216.2,450.3 216.5,449.2 216.9,446.1 217.2,451.3 217.5,447.8 217.8,457.2 218.2,446.3 218.5,458.9 218.8,454 219.2,449 219.5,454.1 219.8,456.7 220.1,455 220.5,455.3 220.8,453.5 221.1,451.1 221.5,450.4 221.8,449.3 222.1,452.9 222.4,452.6 222.8,451.7 223.1,450.2 223.4,458.7 223.8,461.5 224.1,455.5 224.4,445.8 224.7,456.5 225.1,451.7 225.4,458.7 225.7,459.9 226,463.4 226.4,452.1 226.7,457.2 227,454.4 227.4,456.5 227.7,456.5 228,454.9 228.3,445.7 228.7,451.6 229,452.3 229.3,440.2 229.7,446.8 230,446.7 230.3,459.1 230.6,451.1 231,455.9 231.3,448.5 231.6,445.6 231.9,449.3 232.3,453.8 232.6,459.4 232.9,449.7 233.3,455.9 233.6,456.9 233.9,450.1 234.2,452 234.6,457.8 234.9,451.1 235.2,453.8 235.6,449.5 235.9,450.4 236.2,451.6 236.5,450.7 236.9,462.1 237.2,454.3 237.5,446.7 237.9,458.1 238.2,454.1 238.5,452.3 238.8,449.6 239.2,449.3 239.5,454.8 239.8,445.4 240.1,451.3 240.5,452.9 240.8,450.1 241.1,457.5 241.5,455 241.8,454.8 242.1,453.9 242.4,452.7 242.8,452.6 243.1,449.5 243.4,455.7 243.8,461.2 244.1,461.3 244.4,452.4 244.7,454.1 245.1,457.6 245.4,458.9 245.7,457.7 246,456.8 246.4,457.2 246.7,455.3 247,452.4 247.4,458 247.7,448.1 248,451.4 248.3,453.1 248.7,461 249,454.9 249.3,459.7 249.7,458.2 250,457.1 250.3,452.7 250.6,456.5 251,452.1 251.3,449.9 251.6,471.8 252,450.1 252.3,451 252.6,462.9 252.9,461.1 253.3,458.8 253.6,448.7 253.9,450.1 254.2,455.2 254.6,451.1 254.9,448.8 255.2,452.8 255.6,449.4 255.9,453.1 256.2,454.4 256.5,456.4 256.9,451.5 257.2,451.4 257.5,451.1 257.9,443.7 258.2,450 258.5,448.8 258.8,455.8 259.2,453.1 259.5,449.7 259.8,453.9 260.1,455.6 260.5,450.9 260.8,448.3 261.1,445.4 261.5,451.6 261.8,451.2 262.1,440.9 262.4,447.3 262.8,447.6 263.1,451.7 263.4,452.4 263.8,459.2 264.1,455.7 264.4,450.6 264.7,449.2 265.1,450.9 265.4,449 265.7,447.5 266.1,453.6 266.4,450.7 266.7,457.4 267,454.5 267.4,450.5 267.7,453.7 268,454.6 268.3,457.1 268.7,450.4 269,450.3 269.3,453.2 269.7,452.7 270,454.5 270.3,454.4 270.6,455.2 271,457.4 271.3,454.9 271.6,449 272,455.2 272.3,447.3 272.6,455.1 272.9,453 273.3,451.9 273.6,445.5 273.9,449.9 274.2,452.2 274.6,450.5 274.9,450.7 275.2,450.4 275.6,447.8 275.9,455.9 276.2,455.2 276.5,452.3 276.9,451.2 277.2,453.1 277.5,455.2 277.9,456 278.2,454.1 278.5,450.5 278.8,443.2 279.2,446.4 279.5,455.9 279.8,446.9 280.2,454.2 280.5,449.6 280.8,453.7 281.1,453.7 281.5,447.8 281.8,458.3 282.1,447 282.4,442.3 282.8,445.7 283.1,444.7 283.4,446.5 283.8,453.5 284.1,443.6 284.4,448.1 284.7,452.6 285.1,451.3 285.4,448.6 285.7,452.7 286.1,451.7 286.4,449.4 286.7,440.2 287,443.1 287.4,441.5 287.7,457 288,459.6 288.3,454.7 288.7,449.7 289,454.6 289.3,456.1 289.7,456.4 290,449.2 290.3,460 290.6,462.9 291,451.8 291.3,456.5 291.6,461.6 292,452.2 292.3,450.6 292.6,453.5 292.9,455.4 293.3,450.6 293.6,452.2 293.9,454.5 294.3,452.4 294.6,450.5 294.9,446.6 295.2,448 295.6,452.7 295.9,446.9 296.2,450.7 296.5,451.1 296.9,453.8 297.2,451.6 297.5,454.7 297.9,452.4 298.2,456.7 298.5,454.8 298.8,453.6 299.2,449 299.5,446.3 299.8,453.7 300.2,448.8 300.5,451 300.8,445.4 301.1,453.7 301.5,456.6 301.8,455.9 302.1,454.8 302.4,455.9 302.8,451.7 303.1,450.5 303.4,448.3 303.8,456 304.1,449.4 304.4,453.5 304.7,451.6 305.1,452.5 305.4,444.5" fill="none" stroke="#a5305c" stroke-width="0.8" stroke-linejoin="round" clip-path="url(#ce)"/>
<line x1="43.4" y1="422.7" x2="43.4" y2="576.7" stroke="#989898" stroke-width="1.1"/>
<line x1="305.4" y1="422.7" x2="305.4" y2="576.7" stroke="#d0d0d0" stroke-width="1.1"/>
<line x1="42.9" y1="423.2" x2="305.9" y2="423.2" stroke="#606060" stroke-width="1.1"/>
<line x1="42.9" y1="576.2" x2="305.9" y2="576.2" stroke="#787878" stroke-width="1.1"/>
<line x1="40.9" y1="558.6" x2="43.4" y2="558.6" stroke="#555" stroke-width="0.8"/>
<text x="0" y="0" font-family="Liberation Sans" font-size="4.3" fill="#383838" text-anchor="end" font-weight="normal" dominant-baseline="central" transform="translate(40.2 558.8) scale(1.1 1)">0.25</text>
<line x1="40.9" y1="540.8" x2="43.4" y2="540.8" stroke="#555" stroke-width="0.8"/>
<text x="0" y="0" font-family="Liberation Sans" font-size="4.3" fill="#383838" text-anchor="end" font-weight="normal" dominant-baseline="central" transform="translate(40.2 541) scale(1.1 1)">0.50</text>
<line x1="40.9" y1="523" x2="43.4" y2="523" stroke="#555" stroke-width="0.8"/>
<text x="0" y="0" font-family="Liberation Sans" font-size="4.3" fill="#383838" text-anchor="end" font-weight="normal" dominant-baseline="central" transform="translate(40.2 523.2) scale(1.1 1)">0.75</text>
<line x1="40.9" y1="505.2" x2="43.4" y2="505.2" stroke="#555" stroke-width="0.8"/>
<text x="0" y="0" font-family="Liberation Sans" font-size="4.3" fill="#383838" text-anchor="end" font-weight="normal" dominant-baseline="central" transform="translate(40.2 505.4) scale(1.1 1)">1.00</text>
<line x1="40.9" y1="487.4" x2="43.4" y2="487.4" stroke="#555" stroke-width="0.8"/>
<text x="0" y="0" font-family="Liberation Sans" font-size="4.3" fill="#383838" text-anchor="end" font-weight="normal" dominant-baseline="central" transform="translate(40.2 487.6) scale(1.1 1)">1.25</text>
<line x1="40.9" y1="469.6" x2="43.4" y2="469.6" stroke="#555" stroke-width="0.8"/>
<text x="0" y="0" font-family="Liberation Sans" font-size="4.3" fill="#383838" text-anchor="end" font-weight="normal" dominant-baseline="central" transform="translate(40.2 469.8) scale(1.1 1)">1.50</text>
<line x1="40.9" y1="451.8" x2="43.4" y2="451.8" stroke="#555" stroke-width="0.8"/>
<text x="0" y="0" font-family="Liberation Sans" font-size="4.3" fill="#383838" text-anchor="end" font-weight="normal" dominant-baseline="central" transform="translate(40.2 452) scale(1.1 1)">1.75</text>
<line x1="40.9" y1="434" x2="43.4" y2="434" stroke="#555" stroke-width="0.8"/>
<text x="0" y="0" font-family="Liberation Sans" font-size="4.3" fill="#383838" text-anchor="end" font-weight="normal" dominant-baseline="central" transform="translate(40.2 434.2) scale(1.1 1)">2.00</text>
<line x1="305.4" y1="559.6" x2="307.9" y2="559.6" stroke="#555" stroke-width="0.8"/>
<text x="0" y="0" font-family="Liberation Sans" font-size="4.3" fill="#8e3058" text-anchor="start" font-weight="normal" dominant-baseline="central" transform="translate(308.8 559.8) scale(1.1 1)">0.6</text>
<line x1="305.4" y1="542.6" x2="307.9" y2="542.6" stroke="#555" stroke-width="0.8"/>
<text x="0" y="0" font-family="Liberation Sans" font-size="4.3" fill="#8e3058" text-anchor="start" font-weight="normal" dominant-baseline="central" transform="translate(308.8 542.8) scale(1.1 1)">1.2</text>
<line x1="305.4" y1="525.5" x2="307.9" y2="525.5" stroke="#555" stroke-width="0.8"/>
<text x="0" y="0" font-family="Liberation Sans" font-size="4.3" fill="#8e3058" text-anchor="start" font-weight="normal" dominant-baseline="central" transform="translate(308.8 525.7) scale(1.1 1)">1.8</text>
<line x1="305.4" y1="508.5" x2="307.9" y2="508.5" stroke="#555" stroke-width="0.8"/>
<text x="0" y="0" font-family="Liberation Sans" font-size="4.3" fill="#8e3058" text-anchor="start" font-weight="normal" dominant-baseline="central" transform="translate(308.8 508.7) scale(1.1 1)">2.4</text>
<line x1="305.4" y1="491.4" x2="307.9" y2="491.4" stroke="#555" stroke-width="0.8"/>
<text x="0" y="0" font-family="Liberation Sans" font-size="4.3" fill="#8e3058" text-anchor="start" font-weight="normal" dominant-baseline="central" transform="translate(308.8 491.6) scale(1.1 1)">3.0</text>
<line x1="305.4" y1="474.4" x2="307.9" y2="474.4" stroke="#555" stroke-width="0.8"/>
<text x="0" y="0" font-family="Liberation Sans" font-size="4.3" fill="#8e3058" text-anchor="start" font-weight="normal" dominant-baseline="central" transform="translate(308.8 474.6) scale(1.1 1)">3.6</text>
<line x1="305.4" y1="457.3" x2="307.9" y2="457.3" stroke="#555" stroke-width="0.8"/>
<text x="0" y="0" font-family="Liberation Sans" font-size="4.3" fill="#8e3058" text-anchor="start" font-weight="normal" dominant-baseline="central" transform="translate(308.8 457.5) scale(1.1 1)">4.2</text>
<line x1="305.4" y1="440.3" x2="307.9" y2="440.3" stroke="#555" stroke-width="0.8"/>
<text x="0" y="0" font-family="Liberation Sans" font-size="4.3" fill="#8e3058" text-anchor="start" font-weight="normal" dominant-baseline="central" transform="translate(308.8 440.5) scale(1.1 1)">4.8</text>
<line x1="43.4" y1="576.2" x2="43.4" y2="578.7" stroke="#555" stroke-width="0.8"/>
<text x="0" y="0" font-family="Liberation Sans" font-size="4.3" fill="#333" text-anchor="middle" font-weight="normal" dominant-baseline="central" transform="translate(43.4 581.2) scale(1.1 1)">0</text>
<line x1="95.8" y1="576.2" x2="95.8" y2="578.7" stroke="#555" stroke-width="0.8"/>
<text x="0" y="0" font-family="Liberation Sans" font-size="4.3" fill="#333" text-anchor="middle" font-weight="normal" dominant-baseline="central" transform="translate(95.8 581.2) scale(1.1 1)">20</text>
<line x1="148.2" y1="576.2" x2="148.2" y2="578.7" stroke="#555" stroke-width="0.8"/>
<text x="0" y="0" font-family="Liberation Sans" font-size="4.3" fill="#333" text-anchor="middle" font-weight="normal" dominant-baseline="central" transform="translate(148.2 581.2) scale(1.1 1)">40</text>
<line x1="200.6" y1="576.2" x2="200.6" y2="578.7" stroke="#555" stroke-width="0.8"/>
<text x="0" y="0" font-family="Liberation Sans" font-size="4.3" fill="#333" text-anchor="middle" font-weight="normal" dominant-baseline="central" transform="translate(200.6 581.2) scale(1.1 1)">60</text>
<line x1="253" y1="576.2" x2="253" y2="578.7" stroke="#555" stroke-width="0.8"/>
<text x="0" y="0" font-family="Liberation Sans" font-size="4.3" fill="#333" text-anchor="middle" font-weight="normal" dominant-baseline="central" transform="translate(253 581.2) scale(1.1 1)">80</text>
<line x1="305.4" y1="576.2" x2="305.4" y2="578.7" stroke="#555" stroke-width="0.8"/>
<text x="0" y="0" font-family="Liberation Sans" font-size="4.3" fill="#333" text-anchor="middle" font-weight="normal" dominant-baseline="central" transform="translate(305.4 581.2) scale(1.1 1)">100</text>
<text x="174.6" y="587.4" font-family="Liberation Sans" font-size="7.6" fill="#111" text-anchor="middle" font-weight="normal" dominant-baseline="central" stroke="#111" stroke-width="0.12">Time (nsec)</text>
<text x="0" y="0" font-family="Liberation Sans" font-size="6.4" fill="#111" text-anchor="middle" font-weight="normal" dominant-baseline="central" transform="translate(25.2 499.4) rotate(-90) scale(1.07 1)" stroke="#111" stroke-width="0.1">Protein RMSD (&#197;)</text>
<text x="0" y="0" font-family="Liberation Sans" font-size="6.4" fill="#8a2050" text-anchor="middle" font-weight="normal" dominant-baseline="central" transform="translate(321.1 499.9) rotate(90) scale(1.11 1)" stroke="#8a2050" stroke-width="0.1">Ligand RMSD (&#197;)</text>
<rect x="147.6" y="410.2" width="53.2" height="4.4" fill="#fff" stroke="#ddd" stroke-width="0.4"/>
<rect x="148.1" y="410.8" width="7" height="3.1" fill="#46728f"/>
<rect x="161.2" y="410.8" width="6.8" height="3.1" fill="#a5305c"/>
<text x="155.4" y="412.5" font-family="Liberation Sans" font-size="4.4" fill="#222" text-anchor="start" font-weight="normal" dominant-baseline="central">C&#945;</text>
<text x="0" y="0" font-family="Liberation Sans" font-size="4.3" fill="#222" text-anchor="start" font-weight="normal" dominant-baseline="central" transform="translate(168.3 412.5) scale(1.22 1)">Lig fit on Prot</text>
<text x="4.2" y="621.6" font-family="Liberation Sans" font-weight="bold" font-size="30" fill="#000">g</text>
<polyline points="43.4,713.9 43.7,711.3 44.1,700.8 44.4,693.6 44.7,697.8 45,703.4 45.4,691.7 45.7,692.7 46,691.7 46.4,690.4 46.7,700.1 47,694.7 47.3,687.3 47.7,694.1 48,699 48.3,689.8 48.6,694.2 49,690.6 49.3,684.2 49.6,690.1 50,699.8 50.3,694.3 50.6,702.1 50.9,693.1 51.3,696.1 51.6,691.4 51.9,690.2 52.3,693.2 52.6,695.9 52.9,696.1 53.2,692.5 53.6,695.8 53.9,693.8 54.2,692.4 54.5,697.2 54.9,698.9 55.2,690.2 55.5,689.4 55.9,688 56.2,686 56.5,684.7 56.8,680.8 57.2,687.7 57.5,680.3 57.8,687.5 58.2,685.7 58.5,682.4 58.8,688.6 59.1,677.4 59.5,690.2 59.8,685.6 60.1,690.1 60.5,684.3 60.8,689.3 61.1,690.9 61.4,694.4 61.8,695.8 62.1,688.9 62.4,681.4 62.7,679.6 63.1,689.6 63.4,687.7 63.7,688.7 64.1,697.4 64.4,686.2 64.7,689.2 65,688.5 65.4,690.2 65.7,690.5 66,689.7 66.4,697.8 66.7,697.9 67,696.8 67.3,691.9 67.7,687.4 68,687.7 68.3,687.5 68.6,692.5 69,690.9 69.3,690.3 69.6,693.4 70,696 70.3,693.6 70.6,699.1 70.9,698.1 71.3,690.6 71.6,693.8 71.9,695.6 72.3,681.6 72.6,677.1 72.9,682.8 73.2,691.8 73.6,685.5 73.9,698.6 74.2,688.7 74.6,682.5 74.9,692 75.2,686.1 75.5,684.5 75.9,688.2 76.2,686.2 76.5,691 76.8,687.9 77.2,695 77.5,689.5 77.8,688.2 78.2,692.1 78.5,694.6 78.8,681.3 79.1,684.8 79.5,684.3 79.8,686.7 80.1,689 80.5,688.1 80.8,682.6 81.1,681.6 81.4,683.3 81.8,682.4 82.1,686.2 82.4,687.9 82.7,688.9 83.1,686.9 83.4,675.6 83.7,677.7 84.1,685 84.4,684.5 84.7,681.2 85,685.2 85.4,678.1 85.7,675.9 86,678.8 86.4,679 86.7,684.3 87,683.4 87.3,678.6 87.7,672.4 88,678.6 88.3,671 88.7,666.1 89,671 89.3,670 89.6,674.7 90,670.5 90.3,668.8 90.6,670.4 90.9,665.3 91.3,669.8 91.6,651.6 91.9,654.9 92.3,652.7 92.6,646.6 92.9,642.8 93.2,646 93.6,655.1 93.9,653.5 94.2,658.7 94.6,656.3 94.9,664.7 95.2,656.4 95.5,651.8 95.9,657.7 96.2,653.3 96.5,669.4 96.8,667.3 97.2,673.5 97.5,664.5 97.8,671.2 98.2,671.9 98.5,668.4 98.8,666.2 99.1,665.9 99.5,662 99.8,674.3 100.1,661.4 100.5,664.8 100.8,659.1 101.1,677.9 101.4,673.4 101.8,675.7 102.1,674.2 102.4,683 102.8,682.4 103.1,685.4 103.4,684.3 103.7,689.4 104.1,685 104.4,684.4 104.7,684.1 105,679.4 105.4,683.1 105.7,679.8 106,675.4 106.4,677.7 106.7,678.6 107,678.2 107.3,676.9 107.7,681.7 108,674.1 108.3,681.1 108.7,681.8 109,682.5 109.3,673.5 109.6,679.8 110,688.5 110.3,685.7 110.6,681.7 110.9,675.5 111.3,674.9 111.6,669.8 111.9,682.7 112.3,681 112.6,678.2 112.9,673.7 113.2,677.9 113.6,679.4 113.9,680.3 114.2,670.9 114.6,680 114.9,668.9 115.2,667.3 115.5,668.7 115.9,666.3 116.2,666 116.5,670.2 116.9,665.2 117.2,663.5 117.5,669.2 117.8,658.9 118.2,670.9 118.5,662.3 118.8,659.8 119.1,659.9 119.5,665.1 119.8,659.1 120.1,661.7 120.5,663 120.8,655.8 121.1,660.9 121.4,660.6 121.8,662.9 122.1,661.1 122.4,668.6 122.8,664.8 123.1,663.1 123.4,657 123.7,668 124.1,671.1 124.4,667.7 124.7,673.9 125,667.4 125.4,663.1 125.7,660.2 126,668.8 126.4,664 126.7,659.1 127,658.5 127.3,668.7 127.7,662.4 128,657.2 128.3,656.9 128.7,657.9 129,664.6 129.3,662.7 129.6,650.2 130,655.8 130.3,663.5 130.6,662.8 131,665.5 131.3,665.8 131.6,659.8 131.9,660.1 132.3,660.1 132.6,664.5 132.9,666.4 133.2,665.4 133.6,657 133.9,669 134.2,665.5 134.6,667.3 134.9,654.6 135.2,666.4 135.5,672.6 135.9,666.5 136.2,662.3 136.5,663.4 136.9,664.2 137.2,669.7 137.5,664.9 137.8,661.7 138.2,669.5 138.5,663 138.8,659.7 139.1,652.7 139.5,662.8 139.8,657.6 140.1,652.7 140.5,653 140.8,662.9 141.1,652.8 141.4,652.4 141.8,651.6 142.1,651.2 142.4,655.2 142.8,660.3 143.1,653.5 143.4,654.3 143.7,656.9 144.1,655.3 144.4,656.1 144.7,666.9 145.1,656.3 145.4,656.7 145.7,657.9 146,656.7 146.4,657.2 146.7,656.8 147,653.5 147.3,652.3 147.7,653 148,658.1 148.3,660.2 148.7,655.1 149,654.5 149.3,662.6 149.6,656.4 150,657 150.3,660.3 150.6,654.2 151,656.6 151.3,656.9 151.6,658.4 151.9,652.7 152.3,661.4 152.6,656.3 152.9,665.8 153.2,653.2 153.6,653.7 153.9,653.2 154.2,653.5 154.6,652.8 154.9,649.5 155.2,660.6 155.5,657.5 155.9,653.4 156.2,651.8 156.5,648 156.9,652.2 157.2,649.7 157.5,651.6 157.8,640.4 158.2,656 158.5,651.7 158.8,658.2 159.2,654.3 159.5,653 159.8,652 160.1,639.8 160.5,648.6 160.8,647.6 161.1,646.2 161.4,646.5 161.8,648.3 162.1,649.9 162.4,648.3 162.8,647 163.1,657.8 163.4,658.8 163.7,648.1 164.1,642.7 164.4,653.6 164.7,653.8 165.1,652.9 165.4,650.9 165.7,644.5 166,646.4 166.4,638.4 166.7,652.5 167,650.4 167.3,650.1 167.7,648.2 168,654.4 168.3,640.9 168.7,646.6 169,641.3 169.3,642 169.6,647 170,649.4 170.3,647.8 170.6,653.4 171,652.5 171.3,650.8 171.6,658.3 171.9,647.7 172.3,643.7 172.6,649.1 172.9,651 173.3,647.3 173.6,645.2 173.9,647.2 174.2,652.3 174.6,650.9 174.9,641.7 175.2,646.5 175.5,636.9 175.9,649.3 176.2,652.9 176.5,645.9 176.9,653 177.2,648.3 177.5,654.4 177.8,656.5 178.2,650.8 178.5,651.4 178.8,649.3 179.2,648.7 179.5,647.2 179.8,650.3 180.1,656.8 180.5,655 180.8,646.4 181.1,649.7 181.5,654.4 181.8,653.9 182.1,657 182.4,642.9 182.8,653.3 183.1,651.8 183.4,645.8 183.7,649.9 184.1,651 184.4,648.4 184.7,653.1 185.1,649.2 185.4,654.2 185.7,649.5 186,641.4 186.4,652.5 186.7,647.1 187,649.5 187.4,644.9 187.7,653.6 188,647.4 188.3,642 188.7,638.8 189,646.2 189.3,649.6 189.6,647.8 190,645.3 190.3,650 190.6,647.4 191,645.9 191.3,642.3 191.6,646.4 191.9,642 192.3,643.4 192.6,643.9 192.9,645.1 193.3,641.3 193.6,639.7 193.9,647.8 194.2,646.1 194.6,652.8 194.9,649.6 195.2,647.6 195.6,643.4 195.9,644.5 196.2,649.7 196.5,642.6 196.9,648 197.2,641.6 197.5,643.3 197.8,630.3 198.2,638.1 198.5,642.4 198.8,644.4 199.2,641.7 199.5,642.6 199.8,642.8 200.1,640.4 200.5,643 200.8,640 201.1,646.6 201.5,636.9 201.8,642.1 202.1,648 202.4,643.5 202.8,645.9 203.1,640.6 203.4,642.9 203.7,638.7 204.1,640.9 204.4,640.8 204.7,645.4 205.1,642.5 205.4,643 205.7,633.4 206,646.6 206.4,639.5 206.7,649 207,647.8 207.4,649.8 207.7,651.6 208,640 208.3,641.8 208.7,634.2 209,639.3 209.3,645.2 209.7,647.4 210,646.6 210.3,648.4 210.6,649.8 211,648.5 211.3,648.8 211.6,652.1 211.9,643.9 212.3,644.7 212.6,648.2 212.9,648.9 213.3,651.8 213.6,644.9 213.9,647.9 214.2,647.9 214.6,649.3 214.9,646.4 215.2,649.6 215.6,650.7 215.9,649.5 216.2,639.2 216.5,653.3 216.9,645.8 217.2,639.2 217.5,644.6 217.8,648.1 218.2,644.7 218.5,647.9 218.8,643.6 219.2,636 219.5,641.7 219.8,641.7 220.1,639.3 220.5,636 220.8,640.8 221.1,639.5 221.5,649.1 221.8,645.7 222.1,637 222.4,632.9 222.8,638.4 223.1,635 223.4,641 223.8,636.3 224.1,634.7 224.4,636.8 224.7,633.3 225.1,639.8 225.4,633.5 225.7,636.5 226,650 226.4,646.2 226.7,641.7 227,649.9 227.4,651.4 227.7,647 228,646.6 228.3,645.7 228.7,648.9 229,649.9 229.3,648.8 229.7,654 230,658.8 230.3,652.3 230.6,656.4 231,659.4 231.3,659.3 231.6,656.4 231.9,665.3 232.3,651.4 232.6,648.6 232.9,651 233.3,653.5 233.6,659.9 233.9,662.3 234.2,645.3 234.6,647.3 234.9,654.7 235.2,659.6 235.6,656.8 235.9,646.8 236.2,650.8 236.5,652.3 236.9,649.8 237.2,649.2 237.5,646.5 237.9,645.6 238.2,647.2 238.5,642.6 238.8,646.7 239.2,642.6 239.5,641.3 239.8,642.3 240.1,646.8 240.5,641.9 240.8,640.9 241.1,639.7 241.5,645.2 241.8,644.2 242.1,646.2 242.4,644.3 242.8,649.4 243.1,650.9 243.4,637.6 243.8,638.4 244.1,635.1 244.4,638.1 244.7,642.1 245.1,649.4 245.4,644.1 245.7,644.2 246,650.1 246.4,636.6 246.7,630 247,634.5 247.4,644.6 247.7,643.1 248,636.7 248.3,637.3 248.7,635.1 249,631.9 249.3,640.7 249.7,638.6 250,633 250.3,638.7 250.6,641.5 251,634.8 251.3,632 251.6,642.9 252,636.6 252.3,641.1 252.6,641.2 252.9,639.7 253.3,638.8 253.6,640.8 253.9,642.2 254.2,641.1 254.6,637.5 254.9,640.2 255.2,643.1 255.6,638.8 255.9,643.3 256.2,643.6 256.5,645.6 256.9,644.8 257.2,652.2 257.5,647.8 257.9,648.3 258.2,649.2 258.5,653.2 258.8,647.6 259.2,643.3 259.5,646.5 259.8,644.1 260.1,651.1 260.5,639.3 260.8,645.7 261.1,645.4 261.5,647.4 261.8,648.6 262.1,650.8 262.4,650.9 262.8,646.6 263.1,654.3 263.4,655.8 263.8,659.2 264.1,650.7 264.4,650.2 264.7,641.4 265.1,641.9 265.4,648.7 265.7,647.7 266.1,644.3 266.4,648.5 266.7,644.1 267,645.8 267.4,648.6 267.7,647.7 268,647.6 268.3,642.9 268.7,640.5 269,647.8 269.3,640.6 269.7,641.5 270,637.4 270.3,652.1 270.6,641.1 271,651.5 271.3,650.9 271.6,654.9 272,656.1 272.3,653.4 272.6,641.9 272.9,656.5 273.3,656.2 273.6,655.8 273.9,653.6 274.2,652.5 274.6,653.8 274.9,655.1 275.2,654.7 275.6,661.3 275.9,650.4 276.2,647.5 276.5,648.5 276.9,655.9 277.2,658 277.5,655.3 277.9,647.3 278.2,644.9 278.5,646.6 278.8,643.2 279.2,648 279.5,657.9 279.8,654.3 280.2,651 280.5,648.4 280.8,648.4 281.1,653.5 281.5,649.5 281.8,647.1 282.1,652.9 282.4,651.7 282.8,652 283.1,646 283.4,651.4 283.8,653.8 284.1,652.2 284.4,653.1 284.7,657.7 285.1,648.3 285.4,651.5 285.7,652.4 286.1,657.7 286.4,656 286.7,647.5 287,654.3 287.4,651.1 287.7,655.1 288,659.2 288.3,646.2 288.7,648.6 289,650.7 289.3,653.3 289.7,650.2 290,647.7 290.3,646.2 290.6,647.1 291,647.9 291.3,645.8 291.6,648.3 292,655 292.3,646.9 292.6,648 292.9,649.6 293.3,649.2 293.6,646.9 293.9,648.4 294.3,652.2 294.6,653.8 294.9,643.1 295.2,648.8 295.6,652.6 295.9,646.7 296.2,648.6 296.5,653.2 296.9,657.5 297.2,654.9 297.5,653.2 297.9,665.2 298.2,661.3 298.5,650.1 298.8,656.3 299.2,654 299.5,647.5 299.8,651.1 300.2,654.7 300.5,652.4 300.8,656.9 301.1,648.8 301.5,648.7 301.8,647.2 302.1,647.4 302.4,648.1 302.8,644.8 303.1,639.6 303.4,634.5 303.8,641 304.1,637.3 304.4,631.9 304.7,635.5 305.1,634.5 305.4,627.6" fill="none" stroke="#46728f" stroke-width="0.8" stroke-linejoin="round" clip-path="url(#cg)"/>
<polyline points="43.4,749 43.7,748.4 44.1,741.2 44.4,742.6 44.7,741.9 45,734.3 45.4,735.3 45.7,732.7 46,738.4 46.4,745.6 46.7,737.8 47,740.8 47.3,737.7 47.7,728.8 48,734.7 48.3,734.8 48.6,729.8 49,735 49.3,727.8 49.6,730.6 50,738.8 50.3,728.6 50.6,733.8 50.9,735 51.3,736.4 51.6,730.8 51.9,734.5 52.3,737.4 52.6,734.8 52.9,734.5 53.2,743.6 53.6,738.9 53.9,744.7 54.2,742 54.5,736.3 54.9,737 55.2,729.3 55.5,736.8 55.9,743.2 56.2,734.9 56.5,736 56.8,737.9 57.2,748.6 57.5,741.8 57.8,744.2 58.2,739 58.5,737 58.8,733.8 59.1,734.3 59.5,734.9 59.8,743.9 60.1,738 60.5,737.3 60.8,738.6 61.1,743.9 61.4,743.1 61.8,742.1 62.1,734.8 62.4,738.5 62.7,736.2 63.1,734.5 63.4,743.3 63.7,741.3 64.1,736.1 64.4,741.5 64.7,739.9 65,747.8 65.4,747.5 65.7,738.6 66,742.4 66.4,741.1 66.7,729.4 67,726.2 67.3,735.1 67.7,727.4 68,729 68.3,745.6 68.6,744.3 69,741.1 69.3,742.1 69.6,735.4 70,740 70.3,742.2 70.6,740.5 70.9,744.9 71.3,742.9 71.6,743.8 71.9,741.4 72.3,741.4 72.6,755.4 72.9,751.3 73.2,746.1 73.6,742.4 73.9,732.7 74.2,741.2 74.6,729.6 74.9,735.5 75.2,740.9 75.5,735.9 75.9,735.3 76.2,734.9 76.5,740.6 76.8,739.6 77.2,733 77.5,726.7 77.8,729.9 78.2,743 78.5,736.3 78.8,735.7 79.1,736.2 79.5,735.2 79.8,735.7 80.1,736.2 80.5,741.8 80.8,740.9 81.1,739.8 81.4,743.5 81.8,746.3 82.1,739.3 82.4,736.6 82.7,738.9 83.1,753.2 83.4,742.9 83.7,743.7 84.1,742.6 84.4,739.9 84.7,739 85,745 85.4,734.2 85.7,741.9 86,738.3 86.4,734.7 86.7,736 87,736.1 87.3,736.1 87.7,739.5 88,739.2 88.3,730.1 88.7,738.3 89,735.8 89.3,728.7 89.6,738.7 90,737.3 90.3,726.3 90.6,737.5 90.9,731.1 91.3,727.4 91.6,725.2 91.9,739.3 92.3,732.7 92.6,735.1 92.9,731.1 93.2,732.8 93.6,738.3 93.9,739.9 94.2,736.2 94.6,733.2 94.9,745.2 95.2,730.5 95.5,731.5 95.9,729 96.2,740.8 96.5,738.7 96.8,741.9 97.2,754 97.5,754 97.8,755.8 98.2,754 98.5,747.9 98.8,752 99.1,750.8 99.5,764 99.8,768 100.1,743 100.5,716.6 100.8,715.5 101.1,709.4 101.4,712.9 101.8,712.5 102.1,713.1 102.4,705.7 102.8,697.8 103.1,703.5 103.4,708.2 103.7,715.9 104.1,725.5 104.4,723.3 104.7,713.2 105,704.6 105.4,707.8 105.7,702.3 106,706.8 106.4,708.7 106.7,705.3 107,712.3 107.3,712.6 107.7,723.2 108,712.6 108.3,708.7 108.7,712.6 109,711.6 109.3,709.8 109.6,711.3 110,713 110.3,711.9 110.6,707.6 110.9,699.4 111.3,697.6 111.6,701.9 111.9,704.9 112.3,704.4 112.6,706.6 112.9,700.3 113.2,694.8 113.6,698.3 113.9,694.7 114.2,696.6 114.6,695.1 114.9,690 115.2,695.8 115.5,685.9 115.9,689.9 116.2,685.5 116.5,695.4 116.9,699.7 117.2,690.8 117.5,692.5 117.8,691.8 118.2,681.8 118.5,691 118.8,690.6 119.1,688.7 119.5,693.1 119.8,690.8 120.1,683.5 120.5,690.4 120.8,692.8 121.1,696.8 121.4,689 121.8,685.9 122.1,680.8 122.4,680.8 122.8,688.1 123.1,681.3 123.4,685.2 123.7,688.1 124.1,694.5 124.4,693 124.7,681.7 125,675.1 125.4,681.5 125.7,681.5 126,678.4 126.4,692.8 126.7,696.2 127,684.3 127.3,686.6 127.7,681.1 128,673.3 128.3,682.6 128.7,687.6 129,688 129.3,692.5 129.6,685.5 130,683 130.3,693.3 130.6,695.1 131,689.3 131.3,689.7 131.6,697.1 131.9,690 132.3,695 132.6,688.7 132.9,689.3 133.2,695.9 133.6,686 133.9,692.6 134.2,688.3 134.6,693.3 134.9,702.6 135.2,694.5 135.5,693.7 135.9,692.7 136.2,691.4 136.5,683.6 136.9,689.1 137.2,685.7 137.5,693 137.8,690.1 138.2,693.1 138.5,687.5 138.8,683.5 139.1,687.9 139.5,685.3 139.8,671.9 140.1,689.2 140.5,679.8 140.8,689.9 141.1,687.6 141.4,680 141.8,674.1 142.1,670.8 142.4,680.5 142.8,674.1 143.1,678.9 143.4,680.6 143.7,687 144.1,687.3 144.4,681.6 144.7,688.5 145.1,704.3 145.4,693 145.7,701 146,710.6 146.4,703.3 146.7,705.5 147,705.4 147.3,691.6 147.7,706.1 148,700.4 148.3,700 148.7,706.3 149,691.1 149.3,694.6 149.6,695.3 150,684.9 150.3,689.6 150.6,692.7 151,681.3 151.3,679.3 151.6,686.3 151.9,672.9 152.3,682.4 152.6,681 152.9,672.2 153.2,671.4 153.6,669.5 153.9,670.9 154.2,671.1 154.6,669.2 154.9,666.8 155.2,661.4 155.5,671.4 155.9,677.5 156.2,666.3 156.5,673.6 156.9,666.3 157.2,670.7 157.5,673.4 157.8,665.8 158.2,662.4 158.5,673.5 158.8,662.3 159.2,669.6 159.5,666.5 159.8,671.3 160.1,666.9 160.5,675.5 160.8,676.8 161.1,662.8 161.4,664.7 161.8,658.6 162.1,657 162.4,662.2 162.8,660.4 163.1,664.6 163.4,656.4 163.7,669.9 164.1,665.6 164.4,665.4 164.7,662.5 165.1,673.3 165.4,665.8 165.7,672.3 166,663.8 166.4,659 166.7,664.7 167,657 167.3,657.3 167.7,663.7 168,659.6 168.3,655.2 168.7,665.4 169,658.1 169.3,667.7 169.6,669.7 170,657.7 170.3,657.5 170.6,659.1 171,658.5 171.3,662.1 171.6,671.4 171.9,661.8 172.3,668.5 172.6,674.7 172.9,671.4 173.3,660 173.6,662.1 173.9,661.5 174.2,664.3 174.6,663.1 174.9,659 175.2,655.3 175.5,648.7 175.9,663.2 176.2,657.5 176.5,656.4 176.9,659.8 177.2,662.6 177.5,667.9 177.8,651.8 178.2,669.7 178.5,668.8 178.8,667.5 179.2,666 179.5,663.2 179.8,667.3 180.1,659.6 180.5,657.8 180.8,656.9 181.1,655.2 181.5,662.4 181.8,664.5 182.1,664.6 182.4,660.5 182.8,667.2 183.1,662.5 183.4,673.8 183.7,673.2 184.1,668.8 184.4,662.1 184.7,663.1 185.1,660.9 185.4,659.1 185.7,663.8 186,665.1 186.4,652.5 186.7,663.6 187,667.3 187.4,662.8 187.7,669.1 188,668.9 188.3,656.8 188.7,654.8 189,663.8 189.3,667.7 189.6,669.8 190,668 190.3,660.8 190.6,673.4 191,672.2 191.3,666.4 191.6,669.2 191.9,674.6 192.3,670.2 192.6,660.6 192.9,659.9 193.3,669.1 193.6,674.5 193.9,671.7 194.2,675.2 194.6,681.7 194.9,669 195.2,672.5 195.6,669.4 195.9,674.6 196.2,662.2 196.5,669.5 196.9,675.1 197.2,676.1 197.5,678.2 197.8,672.5 198.2,678.9 198.5,675.3 198.8,681.8 199.2,689.1 199.5,692.5 199.8,687.1 200.1,692.6 200.5,693 200.8,689.3 201.1,691.6 201.5,685.7 201.8,679.5 202.1,692 202.4,684.6 202.8,673 203.1,658.3 203.4,658.4 203.7,646.3 204.1,647.4 204.4,645.7 204.7,651.4 205.1,654.1 205.4,656.7 205.7,654.5 206,665.9 206.4,662.4 206.7,666.4 207,667.9 207.4,667 207.7,657.4 208,668.6 208.3,671.2 208.7,669.1 209,669.9 209.3,675.6 209.7,672.5 210,662.7 210.3,669.7 210.6,667.6 211,664.1 211.3,663.5 211.6,673.5 211.9,667.5 212.3,674.9 212.6,667.5 212.9,667.3 213.3,673.4 213.6,673.1 213.9,673.8 214.2,667.8 214.6,668.5 214.9,667.2 215.2,663.5 215.6,670 215.9,666.9 216.2,652.5 216.5,666.9 216.9,663.4 217.2,671.7 217.5,672.3 217.8,668.4 218.2,674.4 218.5,671.9 218.8,671.1 219.2,666 219.5,673.2 219.8,670.7 220.1,679.5 220.5,684.5 220.8,683.1 221.1,690.6 221.5,680.4 221.8,674.3 222.1,672.5 222.4,664.9 222.8,672.2 223.1,677.4 223.4,674.5 223.8,669.9 224.1,670.6 224.4,673.2 224.7,676.6 225.1,680.2 225.4,681.8 225.7,677.2 226,674.5 226.4,675.8 226.7,674.1 227,674.1 227.4,668.7 227.7,670.6 228,676.6 228.3,678.6 228.7,671.5 229,677.6 229.3,679.7 229.7,671.9 230,676.4 230.3,676.2 230.6,676.1 231,673.5 231.3,682.1 231.6,674.2 231.9,670.3 232.3,665.8 232.6,659.4 232.9,663.4 233.3,665.2 233.6,672 233.9,660.6 234.2,655.9 234.6,656.4 234.9,649 235.2,654.5 235.6,668.8 235.9,666.8 236.2,667.4 236.5,656.8 236.9,656.7 237.2,660.2 237.5,663.3 237.9,657.6 238.2,660.5 238.5,661 238.8,657.7 239.2,666.1 239.5,663.5 239.8,669.2 240.1,663 240.5,662 240.8,656.3 241.1,662.5 241.5,662.2 241.8,654.4 242.1,662.4 242.4,659 242.8,659.5 243.1,648.8 243.4,658.4 243.8,657.5 244.1,660.1 244.4,660.3 244.7,654.6 245.1,658.6 245.4,657.8 245.7,659 246,662.3 246.4,671.1 246.7,659.3 247,666.5 247.4,657.4 247.7,651.4 248,660.3 248.3,664.2 248.7,667.4 249,656.6 249.3,662.9 249.7,663.9 250,667.1 250.3,657.9 250.6,664.9 251,659.5 251.3,658.5 251.6,660.6 252,661.9 252.3,666.1 252.6,658.7 252.9,652 253.3,660.3 253.6,656.2 253.9,655.9 254.2,653.3 254.6,662.2 254.9,656.4 255.2,661.9 255.6,666.6 255.9,667.9 256.2,669.4 256.5,669.9 256.9,655.1 257.2,664.1 257.5,657.7 257.9,662.8 258.2,654 258.5,657.8 258.8,664.2 259.2,662.3 259.5,658 259.8,657.5 260.1,654.4 260.5,654.6 260.8,662.4 261.1,664.3 261.5,658.3 261.8,655 262.1,658.7 262.4,654.8 262.8,657.5 263.1,657.3 263.4,658.3 263.8,661.4 264.1,659.9 264.4,663.7 264.7,656.2 265.1,656.7 265.4,658.9 265.7,655.5 266.1,661.2 266.4,656.6 266.7,667.3 267,678.1 267.4,684.3 267.7,691.2 268,680.2 268.3,668.7 268.7,664 269,656.5 269.3,669 269.7,662.1 270,659.4 270.3,656.1 270.6,659.8 271,647.3 271.3,654 271.6,655.5 272,652.5 272.3,652.2 272.6,663.9 272.9,661 273.3,655.2 273.6,659.8 273.9,655.5 274.2,671.8 274.6,666.1 274.9,654.1 275.2,665.1 275.6,657.5 275.9,661.1 276.2,663.3 276.5,662.5 276.9,658.8 277.2,658.7 277.5,655.8 277.9,660.7 278.2,659.2 278.5,657.6 278.8,663.7 279.2,661.3 279.5,659.8 279.8,662.9 280.2,663.7 280.5,655.8 280.8,652.3 281.1,662.4 281.5,658.1 281.8,654.5 282.1,661.9 282.4,657.3 282.8,654.2 283.1,658.8 283.4,650.4 283.8,661.3 284.1,656.5 284.4,661.4 284.7,662 285.1,662 285.4,660.2 285.7,663.9 286.1,655.7 286.4,662.6 286.7,655.8 287,650.4 287.4,651 287.7,652.3 288,654.5 288.3,645 288.7,654.3 289,652.4 289.3,657.6 289.7,665.3 290,665.3 290.3,668.5 290.6,658.8 291,659.2 291.3,655.4 291.6,650.2 292,656.9 292.3,663.8 292.6,649 292.9,657.7 293.3,650.4 293.6,644.4 293.9,653.7 294.3,660.4 294.6,654.8 294.9,650.7 295.2,668.8 295.6,660.4 295.9,657.8 296.2,656.5 296.5,655.4 296.9,654.8 297.2,655.6 297.5,664.9 297.9,656.6 298.2,657 298.5,655.9 298.8,653.5 299.2,658.6 299.5,661.2 299.8,653.1 300.2,656.3 300.5,659.1 300.8,646.1 301.1,650.6 301.5,652.8 301.8,648 302.1,647.3 302.4,654.7 302.8,659.5 303.1,651.6 303.4,643.9 303.8,654.1 304.1,661.2 304.4,660.3 304.7,661.3 305.1,652.5 305.4,651.5" fill="none" stroke="#a5305c" stroke-width="0.8" stroke-linejoin="round" clip-path="url(#cg)"/>
<line x1="43.4" y1="622.0" x2="43.4" y2="776.2" stroke="#989898" stroke-width="1.1"/>
<line x1="305.4" y1="622.0" x2="305.4" y2="776.2" stroke="#d0d0d0" stroke-width="1.1"/>
<line x1="42.9" y1="622.5" x2="305.9" y2="622.5" stroke="#9c9c9c" stroke-width="1.1"/>
<line x1="42.9" y1="775.7" x2="305.9" y2="775.7" stroke="#787878" stroke-width="1.1"/>
<line x1="40.9" y1="758.5" x2="43.4" y2="758.5" stroke="#555" stroke-width="0.8"/>
<text x="0" y="0" font-family="Liberation Sans" font-size="4.3" fill="#383838" text-anchor="end" font-weight="normal" dominant-baseline="central" transform="translate(40.2 758.7) scale(1.1 1)">0.3</text>
<line x1="40.9" y1="741.2" x2="43.4" y2="741.2" stroke="#555" stroke-width="0.8"/>
<text x="0" y="0" font-family="Liberation Sans" font-size="4.3" fill="#383838" text-anchor="end" font-weight="normal" dominant-baseline="central" transform="translate(40.2 741.4) scale(1.1 1)">0.6</text>
<line x1="40.9" y1="723.9" x2="43.4" y2="723.9" stroke="#555" stroke-width="0.8"/>
<text x="0" y="0" font-family="Liberation Sans" font-size="4.3" fill="#383838" text-anchor="end" font-weight="normal" dominant-baseline="central" transform="translate(40.2 724.1) scale(1.1 1)">0.9</text>
<line x1="40.9" y1="706.6" x2="43.4" y2="706.6" stroke="#555" stroke-width="0.8"/>
<text x="0" y="0" font-family="Liberation Sans" font-size="4.3" fill="#383838" text-anchor="end" font-weight="normal" dominant-baseline="central" transform="translate(40.2 706.8) scale(1.1 1)">1.2</text>
<line x1="40.9" y1="689.3" x2="43.4" y2="689.3" stroke="#555" stroke-width="0.8"/>
<text x="0" y="0" font-family="Liberation Sans" font-size="4.3" fill="#383838" text-anchor="end" font-weight="normal" dominant-baseline="central" transform="translate(40.2 689.5) scale(1.1 1)">1.5</text>
<line x1="40.9" y1="672" x2="43.4" y2="672" stroke="#555" stroke-width="0.8"/>
<text x="0" y="0" font-family="Liberation Sans" font-size="4.3" fill="#383838" text-anchor="end" font-weight="normal" dominant-baseline="central" transform="translate(40.2 672.2) scale(1.1 1)">1.8</text>
<line x1="40.9" y1="654.7" x2="43.4" y2="654.7" stroke="#555" stroke-width="0.8"/>
<text x="0" y="0" font-family="Liberation Sans" font-size="4.3" fill="#383838" text-anchor="end" font-weight="normal" dominant-baseline="central" transform="translate(40.2 654.9) scale(1.1 1)">2.1</text>
<line x1="40.9" y1="637.4" x2="43.4" y2="637.4" stroke="#555" stroke-width="0.8"/>
<text x="0" y="0" font-family="Liberation Sans" font-size="4.3" fill="#383838" text-anchor="end" font-weight="normal" dominant-baseline="central" transform="translate(40.2 637.6) scale(1.1 1)">2.4</text>
<line x1="305.4" y1="757.2" x2="307.9" y2="757.2" stroke="#555" stroke-width="0.8"/>
<text x="0" y="0" font-family="Liberation Sans" font-size="4.3" fill="#8e3058" text-anchor="start" font-weight="normal" dominant-baseline="central" transform="translate(308.8 757.4) scale(1.1 1)">0.8</text>
<line x1="305.4" y1="739.1" x2="307.9" y2="739.1" stroke="#555" stroke-width="0.8"/>
<text x="0" y="0" font-family="Liberation Sans" font-size="4.3" fill="#8e3058" text-anchor="start" font-weight="normal" dominant-baseline="central" transform="translate(308.8 739.3) scale(1.1 1)">1.6</text>
<line x1="305.4" y1="720.9" x2="307.9" y2="720.9" stroke="#555" stroke-width="0.8"/>
<text x="0" y="0" font-family="Liberation Sans" font-size="4.3" fill="#8e3058" text-anchor="start" font-weight="normal" dominant-baseline="central" transform="translate(308.8 721.1) scale(1.1 1)">2.4</text>
<line x1="305.4" y1="702.8" x2="307.9" y2="702.8" stroke="#555" stroke-width="0.8"/>
<text x="0" y="0" font-family="Liberation Sans" font-size="4.3" fill="#8e3058" text-anchor="start" font-weight="normal" dominant-baseline="central" transform="translate(308.8 703) scale(1.1 1)">3.2</text>
<line x1="305.4" y1="684.6" x2="307.9" y2="684.6" stroke="#555" stroke-width="0.8"/>
<text x="0" y="0" font-family="Liberation Sans" font-size="4.3" fill="#8e3058" text-anchor="start" font-weight="normal" dominant-baseline="central" transform="translate(308.8 684.8) scale(1.1 1)">4.0</text>
<line x1="305.4" y1="666.4" x2="307.9" y2="666.4" stroke="#555" stroke-width="0.8"/>
<text x="0" y="0" font-family="Liberation Sans" font-size="4.3" fill="#8e3058" text-anchor="start" font-weight="normal" dominant-baseline="central" transform="translate(308.8 666.6) scale(1.1 1)">4.8</text>
<line x1="305.4" y1="648.3" x2="307.9" y2="648.3" stroke="#555" stroke-width="0.8"/>
<text x="0" y="0" font-family="Liberation Sans" font-size="4.3" fill="#8e3058" text-anchor="start" font-weight="normal" dominant-baseline="central" transform="translate(308.8 648.5) scale(1.1 1)">5.6</text>
<line x1="305.4" y1="630.1" x2="307.9" y2="630.1" stroke="#555" stroke-width="0.8"/>
<text x="0" y="0" font-family="Liberation Sans" font-size="4.3" fill="#8e3058" text-anchor="start" font-weight="normal" dominant-baseline="central" transform="translate(308.8 630.3) scale(1.1 1)">6.4</text>
<line x1="43.4" y1="775.7" x2="43.4" y2="778.2" stroke="#555" stroke-width="0.8"/>
<text x="0" y="0" font-family="Liberation Sans" font-size="4.3" fill="#333" text-anchor="middle" font-weight="normal" dominant-baseline="central" transform="translate(43.4 780.7) scale(1.1 1)">0</text>
<line x1="95.8" y1="775.7" x2="95.8" y2="778.2" stroke="#555" stroke-width="0.8"/>
<text x="0" y="0" font-family="Liberation Sans" font-size="4.3" fill="#333" text-anchor="middle" font-weight="normal" dominant-baseline="central" transform="translate(95.8 780.7) scale(1.1 1)">20</text>
<line x1="148.2" y1="775.7" x2="148.2" y2="778.2" stroke="#555" stroke-width="0.8"/>
<text x="0" y="0" font-family="Liberation Sans" font-size="4.3" fill="#333" text-anchor="middle" font-weight="normal" dominant-baseline="central" transform="translate(148.2 780.7) scale(1.1 1)">40</text>
<line x1="200.6" y1="775.7" x2="200.6" y2="778.2" stroke="#555" stroke-width="0.8"/>
<text x="0" y="0" font-family="Liberation Sans" font-size="4.3" fill="#333" text-anchor="middle" font-weight="normal" dominant-baseline="central" transform="translate(200.6 780.7) scale(1.1 1)">60</text>
<line x1="253" y1="775.7" x2="253" y2="778.2" stroke="#555" stroke-width="0.8"/>
<text x="0" y="0" font-family="Liberation Sans" font-size="4.3" fill="#333" text-anchor="middle" font-weight="normal" dominant-baseline="central" transform="translate(253 780.7) scale(1.1 1)">80</text>
<line x1="305.4" y1="775.7" x2="305.4" y2="778.2" stroke="#555" stroke-width="0.8"/>
<text x="0" y="0" font-family="Liberation Sans" font-size="4.3" fill="#333" text-anchor="middle" font-weight="normal" dominant-baseline="central" transform="translate(305.4 780.7) scale(1.1 1)">100</text>
<text x="174.6" y="786.9" font-family="Liberation Sans" font-size="7.6" fill="#111" text-anchor="middle" font-weight="normal" dominant-baseline="central" stroke="#111" stroke-width="0.12">Time (nsec)</text>
<text x="0" y="0" font-family="Liberation Sans" font-size="6.4" fill="#111" text-anchor="middle" font-weight="normal" dominant-baseline="central" transform="translate(28 698.6) rotate(-90) scale(1.07 1)" stroke="#111" stroke-width="0.1">Protein RMSD (&#197;)</text>
<text x="0" y="0" font-family="Liberation Sans" font-size="6.4" fill="#8a2050" text-anchor="middle" font-weight="normal" dominant-baseline="central" transform="translate(321.1 699.1) rotate(90) scale(1.11 1)" stroke="#8a2050" stroke-width="0.1">Ligand RMSD (&#197;)</text>
<rect x="147.6" y="609.4" width="53.2" height="4.4" fill="#fff" stroke="#ddd" stroke-width="0.4"/>
<rect x="148.1" y="610" width="7" height="3.1" fill="#46728f"/>
<rect x="161.2" y="610" width="6.8" height="3.1" fill="#a5305c"/>
<text x="155.4" y="611.7" font-family="Liberation Sans" font-size="4.4" fill="#222" text-anchor="start" font-weight="normal" dominant-baseline="central">C&#945;</text>
<text x="0" y="0" font-family="Liberation Sans" font-size="4.3" fill="#222" text-anchor="start" font-weight="normal" dominant-baseline="central" transform="translate(168.3 611.7) scale(1.22 1)">Lig fit on Prot</text>
<text x="352.2" y="27.1" font-family="Liberation Sans" font-weight="bold" font-size="29" fill="#000">b</text>
<rect x="415.1" y="103" width="1.2" height="74.4" fill="#4aa84a"/>
<rect x="416.2" y="101" width="1.1" height="76.4" fill="#9ed49e"/>
<rect x="421.8" y="152.5" width="2" height="24.9" fill="#1f8a1f"/>
<rect x="439.2" y="157" width="2.8" height="20.4" fill="#1f8a1f"/>
<rect x="479" y="154.4" width="1" height="23" fill="#3a9a3a"/>
<rect x="518.9" y="99" width="1" height="78.4" fill="#7cc47c"/>
<rect x="522.4" y="150.5" width="1" height="26.9" fill="#7cc47c"/>
<rect x="542.1" y="146.5" width="2.2" height="30.9" fill="#1f8a1f"/>
<rect x="577.1" y="160" width="1" height="17.4" fill="#3a9a3a"/>
<rect x="596.9" y="155.2" width="1" height="22.2" fill="#3a9a3a"/>
<polyline points="382.5,101 383,115.6 383.5,129.6 384,143.9 384,143 384.5,146.3 384.9,148.2 385.4,149.1 385.9,152.1 386,151 386.4,150.7 386.9,151.5 387.4,151.8 387.9,152.6 388.4,154.5 388.9,155 389,155 389.3,153.6 389.8,151 390.3,147.7 390.8,143 391.3,140.9 391.8,138.6 392,137 392.3,139.3 392.8,145.4 393.2,151.1 393.7,154.6 394,157 394.2,158.8 394.7,157.2 395.2,158.7 395.7,157.4 396.2,159.1 396.7,161.4 397.2,161.2 397.4,161 397.6,158.2 398.1,154.3 398.6,150.6 399.1,147.9 399.6,143.6 400.1,140.4 400.4,137 400.6,136.4 401.1,135.6 401.6,134.7 402,133.2 402.5,132 402.5,132.5 403,143.1 403.5,153 403.5,153 404,150.2 404.5,147.3 405,143.1 405.5,142.2 405.5,141 405.9,139.9 406.4,134.9 406.9,134.9 407.4,132.5 407.9,129.7 408.4,128.1 408.6,128 408.9,129.8 409.4,137.1 409.9,141.6 410.3,148.9 410.7,153 410.8,154.1 411.3,154.7 411.8,153.7 412.3,153.9 412.8,155.1 413.3,155.1 413.8,155.7 414.3,155.3 414.7,157 414.7,157.7 415.2,141.7 415.7,125.3 416.2,107.8 416.4,102 416.7,93.3 417.2,77.1 417.7,61.8 417.8,57 418.2,62.3 418.6,70.4 418.8,73 419.1,77.2 419.6,85.3 420.1,92.6 420.3,96 420.6,104.2 421.1,120.1 421.6,134.1 421.9,143 422.1,142.2 422.6,143.4 423,145.2 423.5,147.7 424,149 424,148.6 424.5,148.4 425,149.6 425.5,149.7 426,152.3 426.5,152.8 427,152.9 427,153 427.4,156.2 427.9,156.4 428.4,156 428.9,158.6 429.4,159.1 429.9,161 430,161 430.4,157.9 430.9,155 431.3,151.7 431.8,148.4 432.3,147 432.7,145 432.8,146.3 433.3,149.1 433.8,151.5 434.3,154.4 434.8,156.5 435.2,159 435.3,159.1 435.7,160.2 436.2,160.5 436.7,162.4 437.2,163.5 437.6,164 437.7,162.2 438.2,154.6 438.7,144.1 439.2,134.9 439.3,131 439.7,134.8 440.1,141.3 440.6,148.9 441.1,156.1 441.3,157 441.6,155 442.1,149.7 442.6,142.8 443.1,138.2 443.6,132 444.1,125 444.5,120.3 445,115 445,115.2 445.5,122.4 446,130.7 446.5,140.3 447,147.8 447.4,155 447.5,153.7 448,156.3 448.4,158.7 448.9,158.1 449.4,158.8 449.9,160.7 450.4,162.5 450.9,162.7 451.4,164 451.5,164 451.9,163.4 452.4,161.9 452.8,161 453.3,160.2 453.8,158.9 454.3,156.7 454.6,157 454.8,157.3 455.3,155.9 455.8,155.2 456.3,154.8 456.8,156.5 457.2,155.5 457.7,155 457.7,155.2 458.2,145.9 458.7,135.2 459.2,125.5 459.7,115.7 459.7,115 460.2,117.8 460.7,120.6 461.1,122.6 461.6,125.6 461.7,126 462.1,133 462.6,140.2 463.1,146.6 463.6,155.2 463.8,159 464.1,158.6 464.6,159.9 465.1,159 465.5,158.2 466,158 466.5,156.1 467,156.2 467.5,156.1 468,156.4 468.5,156.4 469,156.7 469.5,155.9 469.9,155 470,155 470.4,150 470.9,145.4 471,146 471.4,147.5 471.9,148.6 472.4,148.7 472.9,150.9 473,151 473.4,150.2 473.8,149.2 474.3,147 474.8,145.8 475,144 475.3,146.2 475.8,150.2 476.3,154.4 476.8,159.4 477,159 477.3,158.8 477.8,156.3 478.2,155.1 478.7,152.9 479.2,153.1 479.7,153 479.7,152.1 480.2,154.9 480.7,156.4 481.2,157.4 481.7,159.1 482.2,159.6 482.2,161 482.6,159.8 483.1,157.7 483.6,157.5 484.1,156.2 484.6,155.1 485.1,154.2 485.6,153.8 486.1,152.8 486.3,153 486.5,154.9 487,155.5 487.5,156 488,157.6 488.5,157.6 489,159 489.5,160.2 490,162.7 490.4,164 490.5,164.1 490.9,160.5 491.4,159.9 491.9,158.9 492.4,156.3 492.9,156.8 493.4,155.1 493.9,154.9 494.4,152.5 494.4,151 494.9,148.9 495.3,145.4 495.8,142.4 496.3,139.8 496.8,135.3 497.3,133.1 497.8,129 498.3,127.2 498.5,125 498.8,125.2 499.3,124.3 499.7,123.9 500.2,122.9 500.6,122 500.7,122.9 501.2,127.3 501.7,131.6 502.2,135.1 502.6,138 502.7,139.1 503.2,136.6 503.6,132 504.1,129.7 504.6,128.1 505.1,125.5 505.6,123.9 505.7,122 506.1,116.2 506.6,104.8 507.1,95.5 507.6,87.1 507.7,83 508,80.6 508.5,79.3 509,75.9 509.5,73 509.8,71 510,78.7 510.5,98.1 511,119 511.5,138.5 511.6,143 512,143.8 512.4,144.5 512.9,147.3 513.4,148.6 513.7,149 513.9,148.2 514.4,143.3 514.9,140.6 515.4,136.9 515.9,133.7 516,132 516.3,132.4 516.8,132.6 517.3,133.9 517.8,136 517.8,136.7 518.3,124.8 518.8,112.8 519.3,101.4 519.4,98 519.8,107.3 520.3,120.6 520.6,130 520.7,128.9 521.2,133.9 521.7,139.4 522.2,144.5 522.7,150.7 522.7,149 523.2,149.4 523.7,151.7 524.2,152.6 524.7,153.6 525.1,154 525.3,155 525.6,154.1 526.1,149.8 526.6,147.6 527.1,143.7 527.4,142 527.6,144.1 528.1,146.4 528.6,148.8 529,150 529.4,153 529.5,153 530,151.8 530.5,150.9 531,150.6 531.5,149.3 532,147.8 532.5,147.9 533,148.4 533.4,148.3 533.5,148 533.9,149.5 534.4,154 534.9,155.4 535.4,158.5 535.5,159 535.9,160 536.4,161.2 536.9,161.8 537.4,162.7 537.8,163.5 538.3,163.1 538.6,164 538.8,163.4 539.3,161.7 539.8,158 540.3,156.6 540.8,155.4 541.3,153.4 541.7,153 541.8,153.2 542.2,151.4 542.7,148.5 543.2,145.1 543.7,143 543.7,143.1 544.2,139.8 544.7,137.4 545.2,132.4 545.7,130.9 546.1,128.3 546.4,127 546.6,127.2 547.1,127.6 547.6,129.9 548.1,128.2 548.6,130.1 548.8,130 549.1,131.9 549.6,134.6 550.1,136.3 550.5,139.5 551,143.6 551.5,146.5 551.9,149 552,148.7 552.5,147.4 553,145.6 553.5,145.5 554,144.2 554.5,143.3 554.9,141.5 555,141 555.4,141 555.9,138.5 556.4,137.7 556.9,136.7 557.4,135.5 557.9,133.9 558,134 558.4,132.3 558.8,129.6 559.3,127.6 559.8,125.6 560,126 560.3,126.9 560.8,131 561.3,133.6 561.8,136.5 562.3,140.7 562.7,141 562.8,141.5 563.2,141.4 563.7,141.2 564.2,143 564.7,145 564.8,145 565.2,131.6 565.7,114.9 566.2,100.2 566.7,83.1 566.8,78 567.2,89.3 567.6,102.2 568.1,116 568.2,118 568.6,123.1 569.1,128.9 569.6,134.7 570.1,140.2 570.3,143 570.6,144.2 571.1,144.6 571.5,146.3 572,148.1 572.5,149.4 573,150.8 573.5,151.7 574,152.4 574.4,153 574.5,154.5 575,155.5 575.5,156.6 575.9,157.3 576.4,156.4 576.9,156.5 577.4,159 577.4,157.2 577.9,158.4 578.4,158.4 578.9,160.1 579.4,160 579.9,159.4 580.3,160.1 580.8,159.3 581.3,159.6 581.5,159 581.8,159 582.3,158.4 582.8,157.1 583.3,157.4 583.8,157.1 584.2,156.5 584.6,155 584.7,154.8 585.2,157.5 585.7,157.9 586.2,158.3 586.7,160 587.2,161.1 587.7,160.8 587.7,161 588.2,157.9 588.6,155 589.1,151.9 589.6,147 590.1,144 590.6,141.1 591.1,138.2 591.6,134.8 591.7,135 592.1,137.2 592.6,137.2 593,138.8 593.5,141 593.8,143 594,143.9 594.5,146.9 595,149.7 595.5,155 595.8,155 596,155.6 596.5,155.4 597,154.7 597.4,154.5 597.9,152.9 598.4,153.5 598.9,153.2 599.4,152.4 599.9,152.8 600,153 600.4,150.4 600.9,146.9 601.3,143.3 601.8,139.1 602.3,134.3 602.8,130.2 603.3,128.3 603.8,125.3 604.3,120 604.4,120 604.8,123.8 605.3,128 605.7,132.3 606.2,137.4 606.7,141.1 607,143 607.2,142.9 607.7,145.3 608.2,147.6 608.7,149.4 609.2,152.3 609.7,154.5 610,155 610.1,155.8 610.6,156.1 611.1,156.1 611.6,156.7 612.1,157.6 612.6,157.6 613.1,156.7 613.6,160.5 614,161.4 614.5,161.3 615,163.2 615.2,163 615.5,162.4 616,160.5 616.5,159.2 617,158.3 617.5,155.7 618,153.4 618.3,153 618.4,148.7 618.9,131.3 619.4,113.9 619.9,96.2 620.4,78.5 620.4,79 620.9,84.7 621.4,91 621.6,94 621.9,104.7 622.4,125.6 622.8,143 622.8,142.8 623.3,147.8 623.8,152 624.3,157 624.4,157 624.8,154.5 625.3,154.3 625.8,153.9 626.3,154 626.7,152.4 627.2,151 627.5,151 627.7,151.8 628.2,154.1 628.7,154.5 629.2,157 629.6,159 629.7,158.3 630.2,149.3 630.7,139.9 631.1,130.4 631.6,122 631.6,122.5 632.1,128 632.6,133.7 633.1,138.3 633.6,144.1 633.6,145 634.1,145.3 634.6,146.5 635.1,147.8 635.5,148.2 636,149.3 636.5,148.8 636.7,151 637,149 637.5,148.1 638,146.2 638.5,143.8 639,143 639.4,142.8 639.9,141 640.4,138.9 640.8,138 640.9,136.5 641.4,132.9 641.9,130.9 642.4,128.3 642.9,124.9 643.4,121.2 643.8,120.7 643.9,118 644.3,104.6 644.8,87.2 645.3,71 645.3,70.5 645.8,61" fill="none" stroke="#46728f" stroke-width="0.8" stroke-linejoin="round" clip-path="url(#cb)"/>
<line x1="382.5" y1="24.2" x2="382.5" y2="177.9" stroke="#c4c4c4" stroke-width="1.1"/>
<line x1="645.8" y1="24.2" x2="645.8" y2="177.9" stroke="#a0a0a0" stroke-width="1.1"/>
<line x1="382.0" y1="24.7" x2="646.3" y2="24.7" stroke="#acacac" stroke-width="1.1"/>
<line x1="382.0" y1="177.4" x2="646.3" y2="177.4" stroke="#787878" stroke-width="1.1"/>
<line x1="380" y1="160.7" x2="382.5" y2="160.7" stroke="#555" stroke-width="0.8"/>
<text x="379.3" y="160.7" font-family="Liberation Sans" font-size="4.8" fill="#333" text-anchor="end" font-weight="normal" dominant-baseline="central">0.5</text>
<line x1="380" y1="143.4" x2="382.5" y2="143.4" stroke="#555" stroke-width="0.8"/>
<text x="379.3" y="143.4" font-family="Liberation Sans" font-size="4.8" fill="#333" text-anchor="end" font-weight="normal" dominant-baseline="central">1.0</text>
<line x1="380" y1="126.1" x2="382.5" y2="126.1" stroke="#555" stroke-width="0.8"/>
<text x="379.3" y="126.1" font-family="Liberation Sans" font-size="4.8" fill="#333" text-anchor="end" font-weight="normal" dominant-baseline="central">1.5</text>
<line x1="380" y1="108.8" x2="382.5" y2="108.8" stroke="#555" stroke-width="0.8"/>
<text x="379.3" y="108.8" font-family="Liberation Sans" font-size="4.8" fill="#333" text-anchor="end" font-weight="normal" dominant-baseline="central">2.0</text>
<line x1="380" y1="91.5" x2="382.5" y2="91.5" stroke="#555" stroke-width="0.8"/>
<text x="379.3" y="91.5" font-family="Liberation Sans" font-size="4.8" fill="#333" text-anchor="end" font-weight="normal" dominant-baseline="central">2.5</text>
<line x1="380" y1="74.2" x2="382.5" y2="74.2" stroke="#555" stroke-width="0.8"/>
<text x="379.3" y="74.2" font-family="Liberation Sans" font-size="4.8" fill="#333" text-anchor="end" font-weight="normal" dominant-baseline="central">3.0</text>
<line x1="380" y1="56.9" x2="382.5" y2="56.9" stroke="#555" stroke-width="0.8"/>
<text x="379.3" y="56.9" font-family="Liberation Sans" font-size="4.8" fill="#333" text-anchor="end" font-weight="normal" dominant-baseline="central">3.5</text>
<line x1="380" y1="39.6" x2="382.5" y2="39.6" stroke="#555" stroke-width="0.8"/>
<text x="379.3" y="39.6" font-family="Liberation Sans" font-size="4.8" fill="#333" text-anchor="end" font-weight="normal" dominant-baseline="central">4.0</text>
<line x1="382.4" y1="177.4" x2="382.4" y2="179.9" stroke="#555" stroke-width="0.8"/>
<text x="382.4" y="182.4" font-family="Liberation Sans" font-size="4.8" fill="#333" text-anchor="middle" font-weight="normal" dominant-baseline="central">0</text>
<line x1="431.3" y1="177.4" x2="431.3" y2="179.9" stroke="#555" stroke-width="0.8"/>
<text x="431.3" y="182.4" font-family="Liberation Sans" font-size="4.8" fill="#333" text-anchor="middle" font-weight="normal" dominant-baseline="central">100</text>
<line x1="480.2" y1="177.4" x2="480.2" y2="179.9" stroke="#555" stroke-width="0.8"/>
<text x="480.2" y="182.4" font-family="Liberation Sans" font-size="4.8" fill="#333" text-anchor="middle" font-weight="normal" dominant-baseline="central">200</text>
<line x1="529.1" y1="177.4" x2="529.1" y2="179.9" stroke="#555" stroke-width="0.8"/>
<text x="529.1" y="182.4" font-family="Liberation Sans" font-size="4.8" fill="#333" text-anchor="middle" font-weight="normal" dominant-baseline="central">300</text>
<line x1="578" y1="177.4" x2="578" y2="179.9" stroke="#555" stroke-width="0.8"/>
<text x="578" y="182.4" font-family="Liberation Sans" font-size="4.8" fill="#333" text-anchor="middle" font-weight="normal" dominant-baseline="central">400</text>
<line x1="626.9" y1="177.4" x2="626.9" y2="179.9" stroke="#555" stroke-width="0.8"/>
<text x="626.9" y="182.4" font-family="Liberation Sans" font-size="4.8" fill="#333" text-anchor="middle" font-weight="normal" dominant-baseline="central">500</text>
<text x="514.1" y="188.6" font-family="Liberation Sans" font-size="7.6" fill="#111" text-anchor="middle" font-weight="normal" dominant-baseline="central" stroke="#111" stroke-width="0.12">Residue Index</text>
<text x="0" y="0" font-family="Liberation Sans" font-size="6.5" fill="#111" text-anchor="middle" font-weight="normal" dominant-baseline="central" transform="translate(367 101) rotate(-90)" stroke="#111" stroke-width="0.1">RMSF (&#197;)</text>
<rect x="499.7" y="11.4" width="28" height="4.8" fill="#fff" stroke="#ddd" stroke-width="0.4"/>
<rect x="500.3" y="12.2" width="7" height="3.2" fill="#46728f"/>
<text x="0" y="0" font-family="Liberation Sans" font-size="4.6" fill="#222" text-anchor="start" font-weight="normal" dominant-baseline="central" transform="translate(507.6 13.8) scale(1.05 1)">C-alphas</text>
<text x="345.5" y="226.9" font-family="Liberation Sans" font-weight="bold" font-size="29" fill="#000">d</text>
<rect x="418" y="337" width="1" height="40.3" fill="#3a9a3a"/>
<rect x="421.9" y="346" width="1.3" height="31.3" fill="#1f8a1f"/>
<rect x="438.9" y="349" width="1.2" height="28.3" fill="#1f8a1f"/>
<rect x="440.1" y="342" width="1.8" height="35.3" fill="#1f8a1f"/>
<rect x="444.9" y="348" width="1" height="29.3" fill="#3a9a3a"/>
<rect x="479" y="354.6" width="1" height="22.7" fill="#1f8a1f"/>
<rect x="491.4" y="357.2" width="1" height="20.1" fill="#7cc47c"/>
<rect x="495" y="346" width="1" height="31.3" fill="#7cc47c"/>
<rect x="522.7" y="343" width="1" height="34.3" fill="#7cc47c"/>
<rect x="541.1" y="352.5" width="3.8" height="24.8" fill="#1f8a1f"/>
<rect x="576.9" y="357" width="1" height="20.3" fill="#3a9a3a"/>
<rect x="592.9" y="340.6" width="1" height="36.7" fill="#3a9a3a"/>
<rect x="597" y="348.7" width="1" height="28.6" fill="#3a9a3a"/>
<rect x="598.8" y="345.7" width="1" height="31.6" fill="#3a9a3a"/>
<polyline points="382.4,308.3 382.5,308 382.9,314.2 383.4,321.3 383.9,330.5 384.1,334 384.4,337.3 384.8,342.7 385.3,349.4 385.7,353 385.8,353.6 386.3,354.4 386.8,354.2 387.3,354.3 387.8,354.6 388.2,355 388.3,355.5 388.7,355.7 389.2,355.8 389.7,356.5 390.2,356 390.2,355.3 390.7,352 391.2,345.6 391.7,342.9 392.2,336.5 392.7,331.1 392.7,332 393.1,338.5 393.6,344.8 394.1,352.7 394.3,355 394.6,355.7 395.1,356.7 395.6,358.3 396.1,359.5 396.6,359.9 397,359.7 397.4,362 397.5,360.4 398,360 398.5,359.1 399,357.6 399.5,356 400,355 400.4,355 400.5,354.8 401,352.8 401.4,351 401.9,349 402.1,347 402.4,350 402.9,351.5 403.4,355 403.9,357.8 404.1,359 404.4,358.8 404.9,359 405.4,357.8 405.8,354.6 406.3,351.7 406.6,353 406.8,351.2 407.3,346.5 407.8,342 408.3,336.9 408.6,336 408.8,335.2 409.3,339.1 409.7,344 410.2,349.6 410.7,353 410.7,354.1 411.2,355.2 411.7,355.7 412.2,355.2 412.7,356 413.2,356.6 413.7,356.6 413.7,357 414.1,353.1 414.6,347.9 415.1,343.2 415.6,339.9 416.1,336.7 416.4,334 416.6,334.8 417.1,332.9 417.6,331.1 418,328.9 418.4,328 418.5,323.3 419,317.8 419.2,317 419.5,319 420,323.9 420.5,327.8 420.5,326 421,321.3 421.3,317 421.5,321.3 422,326.3 422.4,333.5 422.5,334 422.9,337.6 423.4,343.4 423.9,346.8 424,347 424.4,348.7 424.9,350.8 425.4,352.8 425.9,355.8 426.3,356.8 426.8,359 427,359 427.3,359.4 427.8,360 428.3,358.9 428.8,358.7 429.3,359.4 429.8,359 430,361 430.3,359.4 430.7,358.2 431.2,357.1 431.7,355.8 432.2,355.7 432.7,354.6 433.1,354 433.2,353.7 433.7,356.3 434.2,357.5 434.6,359 435.1,358.9 435.2,359 435.6,360.6 436.1,360.5 436.6,361.8 437.1,362.1 437.6,361.6 437.8,362 438.1,359.7 438.6,354.4 439,349.8 439.5,344.3 439.7,343 440,342.1 440.5,340.9 441,339.5 441.3,338 441.5,338.8 442,343.8 442.5,346.8 443,349.7 443,351 443.4,345.7 443.9,339.2 444.4,332.2 444.9,326.5 445,324 445.4,331.4 445.9,340.6 446.4,350.3 446.4,351 446.9,352.6 447.3,353.1 447.8,354.8 448.3,356.1 448.8,356 449.3,357 449.5,357 449.8,357.5 450.3,358.6 450.8,359 451.3,358.2 451.7,359.5 452.2,359.9 452.7,359.9 453.2,358.8 453.6,361 453.7,358.8 454.2,358.6 454.7,358.9 455.2,356.4 455.6,355.1 456.1,353.7 456.6,353 456.6,353 457.1,351 457.6,350.3 458.1,347 458.6,345.5 459.1,342.5 459.6,341.4 460,340.7 460.1,341 460.5,341.8 461,345.1 461.5,345.3 461.7,347 462,348.5 462.5,353.4 463,355.9 463.5,358.5 463.8,361 463.9,360.9 464.4,360 464.9,360.4 465.4,359.1 465.9,360.3 466.4,360.7 466.9,359.6 467.4,358.4 467.9,358.4 467.9,359 468.3,359.5 468.8,357.3 469.3,355.9 469.8,354.5 470.3,353.8 470.3,353 470.8,353.5 471.3,355.3 471.8,357 472.2,356.2 472.7,358.5 473,357 473.2,358 473.7,358.5 474.2,359.6 474.7,359.1 475.2,359.7 475.7,362.3 476,361 476.2,358.6 476.6,356.7 477.1,357.2 477.6,353.6 478.1,352.2 478.6,350.7 478.7,351 479.1,351.8 479.6,351.5 480.1,355.6 480.6,356.1 481,358.8 481.2,359 481.5,359.3 482,358.4 482.5,359.4 483,360.2 483.2,359 483.5,358.7 484,356.9 484.5,354.6 484.9,355 485.4,354.5 485.9,353 485.9,352.3 486.4,352.9 486.9,353.7 487.4,355.6 487.9,358.4 488.3,359 488.4,359 488.9,359.7 489.3,360 489.8,361 490.3,361.2 490.8,363.7 491.3,364.2 491.4,364 491.8,359 492.3,351.5 492.8,344.3 493,339 493.2,339 493.7,341.6 494.2,342.6 494.7,343.3 495.2,345.2 495.5,345 495.7,344.3 496.2,341.3 496.7,339.2 497.2,337.6 497.6,335.9 498.1,334 498.1,333.6 498.6,335.7 499.1,336.8 499.6,338.5 500.1,340.1 500.6,343.6 500.6,343 501.1,343.2 501.5,341.2 502,341.5 502.5,342.3 502.6,341 503,339.6 503.5,335.3 504,330.4 504.5,327.1 504.7,326 505,327.3 505.5,330.1 505.9,332.4 506.3,334 506.4,328.1 506.9,300.7 507.4,272.6 507.7,257 507.9,263.2 508.4,276.5 508.9,289.9 509.2,298 509.4,302.5 509.8,316.2 510.3,329.6 510.8,343 510.8,341.2 511.3,344.2 511.8,345.9 512.3,346.3 512.8,348 512.8,350 513.3,349 513.8,345.7 514.2,343.2 514.7,343 514.9,343 515.2,340.9 515.7,339.4 516.2,338.3 516.7,336.2 516.9,336 517.2,336 517.7,337.2 517.8,338 518.2,326.6 518.6,311.7 519.1,296.4 519.4,287 519.6,294.8 520.1,312.1 520.6,327 520.6,326 521.1,324.5 521.6,323.3 522.1,321.9 522.3,320 522.5,326.1 523,336.2 523.3,343 523.5,342.8 524,342 524.5,343.8 525,345 525.3,345 525.5,343.2 526,340.4 526.5,338.1 526.9,336.2 527.4,332 527.4,332.7 527.9,334.7 528.4,334 528.9,334 529.4,333.6 529.4,334 529.9,335.3 530.4,339.6 530.8,342.1 531.3,345.6 531.5,347 531.8,345.5 532.3,345.8 532.8,343.8 533.3,343.6 533.5,343 533.8,345.9 534.3,349 534.8,352.3 535.2,355.7 535.5,357 535.7,357.3 536.2,357.2 536.7,357.8 537.2,360.3 537.7,361.4 538.2,362.2 538.6,363 538.7,362.3 539.1,360.6 539.6,358.1 540.1,355.4 540.6,353.9 540.7,353 541.1,351.7 541.6,352.7 542.1,352.5 542.6,351.7 543.1,351.8 543.5,352.1 543.7,351 544,351.2 544.5,344.9 545,344 545.5,343 546,340 546.5,337.4 546.8,337 547,335.7 547.4,332.5 547.9,328.1 548.4,324.4 548.9,322 549.4,318.8 549.9,315.1 549.9,314 550.4,321 550.9,325.7 551.4,331.1 551.8,338.9 551.9,339 552.3,340.9 552.8,341.9 553.3,342.3 553.8,343.6 553.9,343 554.3,343.2 554.8,345.1 555.3,345.2 555.8,346.6 556.2,347.9 556.7,350.4 557,349 557.2,347.9 557.7,340.7 558.2,335.6 558.7,328.3 559.2,322.1 559.7,315 560,312 560.1,312.6 560.6,316.3 561.1,320 561.6,324.2 562.1,328.9 562.6,332.1 562.7,334 563.1,334.5 563.6,336.4 564.1,339.6 564.5,341.3 565,342.6 565.2,343 565.5,331.8 566,312 566.5,293.5 566.8,279 567,275.6 567.5,265.6 568,255.6 568.2,251 568.4,258 568.9,276 569.4,293 569.7,302 569.9,304.3 570.4,313.5 570.9,323.9 571.4,332.5 571.9,341.6 572.3,349 572.4,350.9 572.8,351.7 573.3,352.8 573.8,351.6 574.3,352.7 574.8,353.2 575.3,353.9 575.4,355 575.8,356.3 576.3,356.4 576.7,357.1 577.2,357 577.7,356.3 578.2,357.5 578.7,356.5 579.2,357.7 579.5,357 579.7,357 580.2,356 580.7,354.6 581.1,355.1 581.6,354.1 582.1,354.7 582.6,353.3 583.1,353.1 583.6,352.3 583.6,352 584.1,352.5 584.6,354.7 585,355.1 585.5,357.1 586,357.1 586.5,357.1 586.6,359 587,357.8 587.5,356.7 588,355.7 588.5,355.3 589,355.4 589.4,352.4 589.7,353 589.9,349.9 590.4,342.9 590.9,337.3 591.4,328.2 591.7,325 591.9,324.5 592.4,330.9 592.9,334 593.4,339 593.8,343 593.8,342.1 594.3,345.1 594.8,347.2 595.3,348.5 595.8,349.7 595.8,351 596.3,350.1 596.8,349.3 597.3,347.7 597.7,347.3 598.2,346.7 598.7,344.8 598.9,345 599.2,342.2 599.7,344.1 600.2,345.2 600.7,344.6 601.2,343.7 601.7,344 602,343 602.1,342.1 602.6,335.9 603.1,329.5 603.6,321.4 604.1,316.8 604.4,313 604.6,316 605.1,320.8 605.6,326.8 606,332 606.5,338.1 607,342.6 607.1,343 607.5,345.4 608,347.2 608.5,348.3 609,349 609.5,350.2 610,351.9 610.1,353 610.4,353.3 610.9,354.2 611.4,354.6 611.9,355.6 612.4,356.2 612.9,356.8 613.4,357.3 613.9,358 614.3,359.4 614.8,359.4 615.3,361 615.3,360.3 615.8,358.1 616.3,357.3 616.8,356.8 617.3,355.3 617.8,352.6 618.3,351.8 618.3,351 618.7,333.2 619.2,313.6 619.7,292.3 620.2,273.5 620.4,265 620.7,274.8 621.2,290.1 621.7,303 622,312 622.2,315.5 622.6,324.2 623.1,334.4 623.6,343.7 624,351 624.1,351.8 624.6,352.2 625.1,352.6 625.6,354.6 626.1,353.8 626.5,355 626.6,353.1 627,346.8 627.5,339 627.5,339.3 628,341.2 628.5,343.9 629,350 629.5,353.1 629.6,353 630,349 630.5,341.1 631,334 631.4,328.1 631.6,326 631.9,328.4 632.4,334.8 632.9,341.2 633.4,347.3 633.6,349 633.9,347.9 634.4,346.6 634.9,344.9 635.3,341.9 635.7,341 635.8,340.9 636.3,342.9 636.8,345 637.3,346.8 637.7,351 637.8,349.5 638.3,347.5 638.8,345.2 639.3,342.2 639.7,339.6 640.2,336.7 640.7,333.6 640.8,332 641.2,331.2 641.7,329.4 642.2,324.9 642.7,324 643.2,322.2 643.6,319.8 643.9,318 644.1,298.8 644.6,257.3 645,226 645.1,225.8 645.6,224" fill="none" stroke="#46728f" stroke-width="0.8" stroke-linejoin="round" clip-path="url(#cd)"/>
<line x1="382.4" y1="223.8" x2="382.4" y2="377.8" stroke="#bcbcbc" stroke-width="1.1"/>
<line x1="645.6" y1="223.8" x2="645.6" y2="377.8" stroke="#a0a0a0" stroke-width="1.1"/>
<line x1="381.9" y1="224.3" x2="646.1" y2="224.3" stroke="#7a7a7a" stroke-width="1.1"/>
<line x1="381.9" y1="377.3" x2="646.1" y2="377.3" stroke="#7a7a7a" stroke-width="1.1"/>
<line x1="379.9" y1="360.2" x2="382.4" y2="360.2" stroke="#555" stroke-width="0.8"/>
<text x="379.2" y="360.2" font-family="Liberation Sans" font-size="4.8" fill="#333" text-anchor="end" font-weight="normal" dominant-baseline="central">0.5</text>
<line x1="379.9" y1="343.3" x2="382.4" y2="343.3" stroke="#555" stroke-width="0.8"/>
<text x="379.2" y="343.3" font-family="Liberation Sans" font-size="4.8" fill="#333" text-anchor="end" font-weight="normal" dominant-baseline="central">1.0</text>
<line x1="379.9" y1="326.4" x2="382.4" y2="326.4" stroke="#555" stroke-width="0.8"/>
<text x="379.2" y="326.4" font-family="Liberation Sans" font-size="4.8" fill="#333" text-anchor="end" font-weight="normal" dominant-baseline="central">1.5</text>
<line x1="379.9" y1="309.5" x2="382.4" y2="309.5" stroke="#555" stroke-width="0.8"/>
<text x="379.2" y="309.5" font-family="Liberation Sans" font-size="4.8" fill="#333" text-anchor="end" font-weight="normal" dominant-baseline="central">2.0</text>
<line x1="379.9" y1="292.6" x2="382.4" y2="292.6" stroke="#555" stroke-width="0.8"/>
<text x="379.2" y="292.6" font-family="Liberation Sans" font-size="4.8" fill="#333" text-anchor="end" font-weight="normal" dominant-baseline="central">2.5</text>
<line x1="379.9" y1="275.7" x2="382.4" y2="275.7" stroke="#555" stroke-width="0.8"/>
<text x="379.2" y="275.7" font-family="Liberation Sans" font-size="4.8" fill="#333" text-anchor="end" font-weight="normal" dominant-baseline="central">3.0</text>
<line x1="379.9" y1="258.8" x2="382.4" y2="258.8" stroke="#555" stroke-width="0.8"/>
<text x="379.2" y="258.8" font-family="Liberation Sans" font-size="4.8" fill="#333" text-anchor="end" font-weight="normal" dominant-baseline="central">3.5</text>
<line x1="379.9" y1="241.9" x2="382.4" y2="241.9" stroke="#555" stroke-width="0.8"/>
<text x="379.2" y="241.9" font-family="Liberation Sans" font-size="4.8" fill="#333" text-anchor="end" font-weight="normal" dominant-baseline="central">4.0</text>
<line x1="382.4" y1="377.3" x2="382.4" y2="379.8" stroke="#555" stroke-width="0.8"/>
<text x="382.4" y="382.3" font-family="Liberation Sans" font-size="4.8" fill="#333" text-anchor="middle" font-weight="normal" dominant-baseline="central">0</text>
<line x1="431.3" y1="377.3" x2="431.3" y2="379.8" stroke="#555" stroke-width="0.8"/>
<text x="431.3" y="382.3" font-family="Liberation Sans" font-size="4.8" fill="#333" text-anchor="middle" font-weight="normal" dominant-baseline="central">100</text>
<line x1="480.2" y1="377.3" x2="480.2" y2="379.8" stroke="#555" stroke-width="0.8"/>
<text x="480.2" y="382.3" font-family="Liberation Sans" font-size="4.8" fill="#333" text-anchor="middle" font-weight="normal" dominant-baseline="central">200</text>
<line x1="529.1" y1="377.3" x2="529.1" y2="379.8" stroke="#555" stroke-width="0.8"/>
<text x="529.1" y="382.3" font-family="Liberation Sans" font-size="4.8" fill="#333" text-anchor="middle" font-weight="normal" dominant-baseline="central">300</text>
<line x1="578" y1="377.3" x2="578" y2="379.8" stroke="#555" stroke-width="0.8"/>
<text x="578" y="382.3" font-family="Liberation Sans" font-size="4.8" fill="#333" text-anchor="middle" font-weight="normal" dominant-baseline="central">400</text>
<line x1="626.9" y1="377.3" x2="626.9" y2="379.8" stroke="#555" stroke-width="0.8"/>
<text x="626.9" y="382.3" font-family="Liberation Sans" font-size="4.8" fill="#333" text-anchor="middle" font-weight="normal" dominant-baseline="central">500</text>
<text x="514" y="388.5" font-family="Liberation Sans" font-size="7.6" fill="#111" text-anchor="middle" font-weight="normal" dominant-baseline="central" stroke="#111" stroke-width="0.12">Residue Index</text>
<text x="0" y="0" font-family="Liberation Sans" font-size="6.5" fill="#111" text-anchor="middle" font-weight="normal" dominant-baseline="central" transform="translate(367 300.5) rotate(-90)" stroke="#111" stroke-width="0.1">RMSF (&#197;)</text>
<rect x="499.7" y="210.5" width="27.2" height="4.8" fill="#fff" stroke="#ddd" stroke-width="0.4"/>
<rect x="500.3" y="211.3" width="6.7" height="3.2" fill="#46728f"/>
<text x="0" y="0" font-family="Liberation Sans" font-size="4.6" fill="#222" text-anchor="start" font-weight="normal" dominant-baseline="central" transform="translate(507.3 212.9) scale(1.05 1)">C-alphas</text>
<text transform="translate(346.6 424.2) scale(1.13 1)" font-family="Liberation Sans" font-weight="bold" font-size="30" fill="#000">f</text>
<rect x="431" y="540" width="2.7" height="27.6" fill="#1f8a1f"/>
<rect x="448.6" y="550" width="3.4" height="17.6" fill="#1f8a1f"/>
<rect x="453.4" y="551" width="2.2" height="16.6" fill="#1f8a1f"/>
<rect x="488.3" y="555" width="1.6" height="12.6" fill="#1f8a1f"/>
<rect x="548.9" y="549" width="4.4" height="18.6" fill="#1f8a1f"/>
<rect x="600.8" y="541" width="1" height="26.6" fill="#3a9a3a"/>
<rect x="604.9" y="550" width="1.1" height="17.6" fill="#3a9a3a"/>
<polyline points="392.8,504 393,505 393.2,507.8 393.5,518.6 393.9,529.3 394.3,538.5 394.5,544 394.7,542.9 395,543.8 395.4,544 395.8,545.4 396.2,547 396.5,545.9 396.9,545 397.2,545 397.3,544.8 397.6,545.3 398,546.9 398.4,547.5 398.8,548.6 399.1,548.2 399.2,549 399.5,548.2 399.9,549.2 400.3,549 400.6,548.5 401,548.2 401.2,548 401.4,546.9 401.7,544.5 402.1,542.4 402.5,541 402.9,539.4 403.2,536.3 403.3,537 403.6,538.4 404,541 404.4,543.9 404.7,546.3 405.1,548.1 405.3,549 405.5,549.5 405.8,549.3 406.2,548.9 406.6,550.7 407,551.4 407.3,551.3 407.7,552.3 408.1,552.7 408.4,553 408.5,554 408.8,552.4 409.2,549.7 409.6,547.9 409.9,544.5 410.3,541.7 410.4,542 410.7,538.9 411.1,536.1 411.4,532.5 411.8,529.3 412.2,526.4 412.5,523 412.6,523.1 412.9,527.5 413.3,532.2 413.7,537.2 414.1,541.8 414.4,545.7 414.5,546 414.8,545.4 415.2,544.3 415.5,543 415.9,542.4 416.3,539.6 416.6,538 416.7,537.8 417,538.1 417.4,536.3 417.8,535.1 418.2,534.8 418.5,535 418.9,532.9 419,532 419.3,535.8 419.6,538.8 420,541.2 420.4,544.7 420.7,546 420.8,545.5 421.1,546.1 421.5,547.4 421.9,547.8 422.3,548 422.6,547.7 423,548 423.4,550.4 423.7,551 423.7,550 424.1,546 424.5,542.8 424.9,537.3 425.2,533.8 425.6,530.3 426,525.7 426.4,522 426.4,522 426.7,517.3 427.1,512.4 427.5,508.8 427.8,505 427.8,504.1 428.2,499.7 428.6,495.4 429,492.2 429.2,490 429.3,493.5 429.7,500.2 430.1,506.8 430.5,513.7 430.8,520.2 430.9,522 431.2,524.6 431.6,528.7 431.9,531.8 432.3,536.5 432.5,538 432.7,539.2 433.1,539.8 433.4,539.5 433.8,538.4 434.2,538.8 434.6,539 434.6,540 434.9,539.7 435.3,541.8 435.7,543.1 436,544.8 436.4,546.2 436.8,546.4 437,548 437.2,548.6 437.5,549.7 437.9,549.8 438.3,550.7 438.7,550.7 439,550.5 439.4,550.6 439.8,551.4 440.1,553 440.1,553.3 440.5,552.8 440.9,551.2 441.3,550.9 441.6,549.3 442,548 442.4,547.1 442.8,546.5 443.1,545 443.5,543.5 443.9,543.1 444.2,543 444.2,542.8 444.6,544.1 445,546.5 445.4,547.1 445.7,548.5 446.1,550.9 446.5,552 446.9,553.6 447.2,556 447.2,555.3 447.6,552 448,550.3 448.3,547 448.7,544.3 449.1,541.2 449.5,538.1 449.7,537 449.8,538.6 450.2,542.1 450.6,544.6 451,547.2 451.3,551 451.3,551.6 451.7,548.1 452.1,546.6 452.5,544.5 452.8,541.8 452.9,542 453.2,542.3 453.6,544 453.9,544.1 454.3,545 454.7,546.5 455,548 455.1,546.6 455.4,548.1 455.8,548.4 456.2,549.5 456.6,549.4 456.9,550.8 457.3,551 457.4,551 457.7,551.7 458,551.7 458.4,551.7 458.8,551.7 459.2,551.8 459.5,552.7 459.9,553.2 460.3,552 460.5,553 460.7,553 461,552.7 461.4,552.8 461.8,550.8 462.1,551.5 462.5,550.7 462.9,551.5 463.3,549.8 463.6,551 463.6,549.8 464,550.3 464.4,550.2 464.8,549.7 465.1,549.6 465.5,548.6 465.9,547.3 466.2,546.3 466.6,546 466.6,545.4 467,542.1 467.4,541 467.7,538.2 468.1,535.1 468.5,533.5 468.9,529.4 469.2,525.7 469.6,522.8 469.7,522 470,525.2 470.3,528.2 470.7,532.6 471.1,535.3 471.5,540.4 471.7,542 471.8,543.5 472.2,542.7 472.6,545.5 473,547.2 473.3,546.7 473.7,546.5 474.1,548 474.4,549.9 474.8,551 474.8,551.3 475.2,551.3 475.6,551.7 475.9,551.1 476.3,551.3 476.7,552.5 477.1,552.1 477.4,550.7 477.8,550.8 477.9,551 478.2,551.3 478.5,550.9 478.9,550.6 479.3,548.8 479.7,548.1 480,547.8 480.4,547.5 480.8,545.5 481.2,544.3 481.5,544.3 481.9,544.2 482,544 482.3,544.7 482.6,545.2 483,545.9 483.4,546 483.8,546.8 484.1,547.1 484.5,548.7 484.9,549.7 485,549 485.3,549.8 485.6,551.2 486,550.9 486.4,552.2 486.8,552 487.1,553.6 487.5,553.4 487.9,553.8 488.1,555 488.2,555 488.6,554.6 489,554.2 489.4,554.2 489.7,554.6 490.1,553.5 490.5,553.9 490.9,553.1 491.2,552.4 491.6,553.1 492,552.6 492.2,553 492.3,552.6 492.7,550.5 493.1,548.7 493.5,546.6 493.8,544.5 494.2,542.5 494.6,539.4 495,537 495.3,535 495.3,534.5 495.7,536.6 496.1,537.6 496.4,538.3 496.8,540 497.2,541.3 497.3,542 497.6,542.1 497.9,543.8 498.3,546.3 498.7,549.4 499.1,549.6 499.4,552.3 499.8,552.6 500.2,553.7 500.4,555 500.5,554.5 500.9,553.5 501.3,552.3 501.7,551 502,549.2 502.4,547 502.8,546 503.2,544.7 503.4,544 503.5,543.8 503.9,542.6 504.3,542 504.6,541.6 505,542.2 505.4,541.2 505.8,540.8 506.1,540.1 506.5,539.2 506.9,539.7 507.3,540.3 507.5,539 507.6,539.5 508,539.3 508.4,540.2 508.7,539.8 509.1,541.1 509.5,541.6 509.9,542.5 510.2,541.6 510.6,544 510.6,542.7 511,542.4 511.4,541 511.7,540.5 512.1,538.8 512.5,535.8 512.8,533.7 513.2,533.5 513.6,532.5 513.6,532 514,530.1 514.3,527.8 514.7,525.4 515.1,523.1 515.5,520.1 515.7,518 515.8,516.8 516.2,515.1 516.6,510.8 516.9,507.6 517.3,505 517.7,501.4 517.7,502 518.1,506.7 518.4,509.8 518.8,513.4 519.2,517.6 519.6,521.2 519.8,524 519.9,525.8 520.3,528.7 520.7,532.6 521,536 521.4,540.3 521.8,544.2 521.8,544 522.2,545.8 522.5,544.3 522.9,544.3 523.1,544 523.3,544.4 523.7,543.6 524,542.4 524.4,542.1 524.8,542.2 525.2,542.6 525.5,541.8 525.9,541.9 526.1,542 526.3,541.3 526.6,537.7 527,535.8 527.4,530.9 527.8,528.5 528.1,525.7 528.5,522.7 528.6,522 528.9,523.4 529.3,524.5 529.6,525.4 530,527.3 530.2,530 530.4,531.2 530.7,533.2 531.1,536.2 531.5,538.1 531.9,539.9 532.2,540.6 532.3,542 532.6,542.6 533,544 533.4,545.7 533.7,546.9 534.1,548.6 534.3,550 534.5,549.3 534.8,548.3 535.2,548.3 535.6,548.5 536,549 536.3,548.5 536.7,547.1 537.1,546.8 537.4,546 537.5,546.2 537.8,545.7 538.2,545.6 538.6,545.5 538.9,545.8 539.3,545.5 539.7,546.2 540.1,545.3 540.4,544 540.4,543.6 540.8,541.2 541.2,539.3 541.6,535.2 541.9,534 542.3,530.7 542.7,528.7 542.9,527 543,527.4 543.4,533.1 543.8,536.6 544.2,540.5 544.5,546 544.5,547.5 544.9,548.9 545.3,548.3 545.7,548.7 546,550.2 546.4,550 546.8,551.1 547.1,553.3 547.5,554 547.6,554 547.9,551.8 548.3,549.6 548.6,547.6 549,545.7 549.4,542.6 549.6,542 549.8,541.6 550.1,542.5 550.5,542.6 550.9,544.9 551.2,545.6 551.6,546.7 551.7,546 552,544.3 552.4,542.6 552.7,542.4 553.1,540.8 553.5,538.3 553.9,535.8 554.2,535.1 554.6,532.8 554.7,532 555,531.3 555.3,531 555.7,531.3 556.1,530.2 556.5,531.1 556.8,530.9 557.2,530.7 557.6,530.3 557.8,530 558,531 558.3,527.6 558.7,526.3 559.1,524.1 559.4,524.3 559.8,522.5 559.9,521 560.2,519.4 560.6,520 560.9,519.9 561.3,519.8 561.7,519.7 561.9,520 562.1,521.4 562.4,522.7 562.8,523.9 563.2,526.7 563.6,527.8 563.9,530 563.9,530 564.3,529.1 564.7,526.4 565,525.1 565.4,522.7 565.8,520.5 566.2,519.3 566.5,518.3 566.9,516.5 567,516 567.3,518.1 567.7,519 568,522.2 568.4,523.5 568.8,526.1 569,528 569.1,529.6 569.5,530.3 569.9,530.4 570.3,531 570.6,531.7 571,534.4 571.4,536 571.8,536.5 572.1,537.2 572.5,537.4 572.9,538.8 573.1,540 573.2,537 573.6,532.9 574,529.4 574.4,525.6 574.7,520 575.1,514.5 575.2,514 575.5,514.4 575.9,514.1 576.2,513.2 576.6,511.9 576.8,512 577,513.4 577.3,518.9 577.7,524.1 578.1,527.9 578.5,531 578.8,535.4 579.2,538.2 579.3,540 579.6,540.4 580,541.4 580.3,540.6 580.7,540 581.1,541.8 581.4,542.3 581.8,543.8 582.2,545 582.3,544 582.6,544 582.9,545.3 583.3,546.1 583.7,546.7 584.1,546.3 584.4,547.5 584.8,547.3 585.2,547.9 585.4,548 585.5,548.4 585.9,549.6 586.3,548.4 586.7,548.4 587,548.3 587.4,549.2 587.8,549.5 588.2,549 588.5,550 588.5,550.4 588.9,548.3 589.3,549.3 589.6,548.5 590,547.7 590.4,547.3 590.8,546.8 591.1,545.6 591.5,544 591.5,544.4 591.9,543.2 592.3,542.4 592.6,542.1 593,540.5 593.4,539.4 593.6,540 593.7,539.2 594.1,541.7 594.5,543.9 594.9,545.8 595.2,548.4 595.6,550.3 596,552.6 596,552 596.4,548.8 596.7,545.8 597.1,544.2 597.5,541.4 597.9,539.5 598.2,538.1 598.6,535.3 599,532.9 599.3,529.2 599.7,527 599.7,526.4 600.1,528.1 600.5,528.9 600.8,530.7 601.2,531.7 601.6,532.4 601.7,534 602,534.3 602.3,536 602.7,536.3 603.1,536.8 603.4,538 603.8,540 603.8,539.9 604.2,540.1 604.6,541.7 604.9,542.4 605.3,544.1 605.7,544.5 605.8,546 606.1,545.3 606.4,545.3 606.8,545.8 607.2,545.3 607.5,543.8 607.9,544.4 608.3,543.9 608.7,543.1 609,542.5 609.4,541.8 609.8,542.7 609.9,542 610.2,538.2 610.5,534.2 610.9,529.4 611.3,525.1 611.6,520.5 612,517.3 612.4,513.7 612.8,509.5 613,506 613.1,507.6 613.5,511.8 613.9,517.2 614.3,522.4 614.6,525.8 615,529.5 615,530 615.4,534.2 615.7,536.9 616.1,539.2 616.5,541.9 616.9,544.3 617.1,546 617.2,546 617.6,548.4 618,547.6 618.4,548.8 618.7,550 619.1,549.6 619.5,549.3 619.8,550.6 620.2,550.3 620.6,551.9 621,552 621.3,553.5 621.7,553.3 622.1,554.1 622.2,554 622.5,553.4 622.8,552.7 623.2,551.7 623.6,552.1 623.9,551.2 624.3,549.9 624.7,549.8 625.1,548.4 625.3,548 625.4,543.8 625.8,534.5 626.2,526.2 626.6,515.5 626.9,505.1 627.3,496.2 627.7,488 628,479.3 628.3,471 628.4,473.4 628.8,479 629.2,485.3 629.5,492.6 629.7,495 629.9,501.4 630.3,511 630.7,521.4 631,530 631.4,540 631.4,541.4 631.8,541.4 632.1,541.8 632.5,543.2 632.9,544.2 633.3,544.9 633.4,546 633.6,545 634,542.8 634.4,540.7 634.8,540.7 635.1,538.5 635.5,536 635.5,536.2 635.9,538.5 636.3,540.9 636.6,542.5 637,545.7 637.4,547.7 637.5,548 637.7,540.5 638.1,530.3 638.5,520.3 638.9,510.4 639.2,500.1 639.6,489 639.6,489 640,503.4 640.4,516.1 640.7,529.6 641,540 641.1,536.7 641.5,525.3 641.8,513.4 642.2,503.6 642.6,492.5 642.6,491 643,499.9 643.3,506.3 643.7,513.2 644.1,522.1 644.5,531.6 644.7,536 644.8,538 645.2,539 645.6,537.8 645.9,538.2 646.3,538.2 646.7,539.6 646.7,540 647.1,539.4 647.4,537.7 647.8,535.2 648.2,533.2 648.6,530.8 648.8,530 648.9,528.8 649.3,527.4 649.7,526.1 650,524.7 650.4,522.4 650.8,520.2 651.2,517.5 651.5,516.4 651.8,516 651.9,512.2 652.3,501.9 652.7,491.6 653,482.4 653.4,471" fill="none" stroke="#4b7592" stroke-width="1.1" stroke-linejoin="round" clip-path="url(#cf)"/>
<line x1="392.8" y1="439.8" x2="392.8" y2="568.1" stroke="#5c5c5c" stroke-width="1.1"/>
<line x1="653.4" y1="439.8" x2="653.4" y2="568.1" stroke="#7a7a7a" stroke-width="1.1"/>
<line x1="392.3" y1="440.3" x2="653.9" y2="440.3" stroke="#c0c0c0" stroke-width="1.1"/>
<line x1="392.3" y1="567.6" x2="653.9" y2="567.6" stroke="#cecece" stroke-width="1.1"/>
<line x1="390.6" y1="552.2" x2="392.8" y2="552.2" stroke="#444" stroke-width="0.9"/>
<text x="0" y="0" font-family="Liberation Sans" font-size="4.8" fill="#333" text-anchor="end" font-weight="bold" dominant-baseline="central" transform="translate(387.5 552.4) scale(1.6 1)">0.5</text>
<line x1="390.6" y1="536.4" x2="392.8" y2="536.4" stroke="#444" stroke-width="0.9"/>
<text x="0" y="0" font-family="Liberation Sans" font-size="4.8" fill="#333" text-anchor="end" font-weight="bold" dominant-baseline="central" transform="translate(387.5 536.6) scale(1.6 1)">1.0</text>
<line x1="390.6" y1="520.7" x2="392.8" y2="520.7" stroke="#444" stroke-width="0.9"/>
<text x="0" y="0" font-family="Liberation Sans" font-size="4.8" fill="#333" text-anchor="end" font-weight="bold" dominant-baseline="central" transform="translate(387.5 520.9) scale(1.6 1)">1.5</text>
<line x1="390.6" y1="505" x2="392.8" y2="505" stroke="#444" stroke-width="0.9"/>
<text x="0" y="0" font-family="Liberation Sans" font-size="4.8" fill="#333" text-anchor="end" font-weight="bold" dominant-baseline="central" transform="translate(387.5 505.2) scale(1.6 1)">2.0</text>
<line x1="390.6" y1="489.3" x2="392.8" y2="489.3" stroke="#444" stroke-width="0.9"/>
<text x="0" y="0" font-family="Liberation Sans" font-size="4.8" fill="#333" text-anchor="end" font-weight="bold" dominant-baseline="central" transform="translate(387.5 489.5) scale(1.6 1)">2.5</text>
<line x1="390.6" y1="473.5" x2="392.8" y2="473.5" stroke="#444" stroke-width="0.9"/>
<text x="0" y="0" font-family="Liberation Sans" font-size="4.8" fill="#333" text-anchor="end" font-weight="bold" dominant-baseline="central" transform="translate(387.5 473.7) scale(1.6 1)">3.0</text>
<line x1="390.6" y1="457.8" x2="392.8" y2="457.8" stroke="#444" stroke-width="0.9"/>
<text x="0" y="0" font-family="Liberation Sans" font-size="4.8" fill="#333" text-anchor="end" font-weight="bold" dominant-baseline="central" transform="translate(387.5 458) scale(1.6 1)">3.5</text>
<line x1="390.6" y1="442.1" x2="392.8" y2="442.1" stroke="#444" stroke-width="0.9"/>
<text x="0" y="0" font-family="Liberation Sans" font-size="4.8" fill="#333" text-anchor="end" font-weight="bold" dominant-baseline="central" transform="translate(387.5 442.3) scale(1.6 1)">4.0</text>
<line x1="393" y1="567.6" x2="393" y2="569.8000000000001" stroke="#444" stroke-width="0.9"/>
<text x="0" y="0" font-family="Liberation Sans" font-size="4.8" fill="#333" text-anchor="middle" font-weight="bold" dominant-baseline="central" transform="translate(393 572.8) scale(1.6 1)">0</text>
<line x1="441.5" y1="567.6" x2="441.5" y2="569.8000000000001" stroke="#444" stroke-width="0.9"/>
<text x="0" y="0" font-family="Liberation Sans" font-size="4.8" fill="#333" text-anchor="middle" font-weight="bold" dominant-baseline="central" transform="translate(441.5 572.8) scale(1.6 1)">100</text>
<line x1="490" y1="567.6" x2="490" y2="569.8000000000001" stroke="#444" stroke-width="0.9"/>
<text x="0" y="0" font-family="Liberation Sans" font-size="4.8" fill="#333" text-anchor="middle" font-weight="bold" dominant-baseline="central" transform="translate(490 572.8) scale(1.6 1)">200</text>
<line x1="538.5" y1="567.6" x2="538.5" y2="569.8000000000001" stroke="#444" stroke-width="0.9"/>
<text x="0" y="0" font-family="Liberation Sans" font-size="4.8" fill="#333" text-anchor="middle" font-weight="bold" dominant-baseline="central" transform="translate(538.5 572.8) scale(1.6 1)">300</text>
<line x1="587" y1="567.6" x2="587" y2="569.8000000000001" stroke="#444" stroke-width="0.9"/>
<text x="0" y="0" font-family="Liberation Sans" font-size="4.8" fill="#333" text-anchor="middle" font-weight="bold" dominant-baseline="central" transform="translate(587 572.8) scale(1.6 1)">400</text>
<line x1="635.5" y1="567.6" x2="635.5" y2="569.8000000000001" stroke="#444" stroke-width="0.9"/>
<text x="0" y="0" font-family="Liberation Sans" font-size="4.8" fill="#333" text-anchor="middle" font-weight="bold" dominant-baseline="central" transform="translate(635.5 572.8) scale(1.6 1)">500</text>
<text x="0" y="0" font-family="Liberation Sans" font-size="8.7" fill="#1a1a1a" text-anchor="middle" font-weight="bold" dominant-baseline="central" transform="translate(523.4 580.6) scale(1.41 1)">Residue Index</text>
<text x="0" y="0" font-family="Liberation Sans" font-size="9.8" fill="#111" text-anchor="middle" font-weight="bold" dominant-baseline="central" transform="translate(365.4 504.5) rotate(-90) scale(0.76 1)">RMSF (&#197;)</text>
<rect x="499.4" y="427.6" width="45.8" height="6.8" fill="#fff" stroke="#d8d8d8" stroke-width="0.5"/>
<rect x="500" y="429" width="12" height="4.1" fill="#4b7592"/>
<text x="0" y="0" font-family="Liberation Sans" font-size="5.4" fill="#222" text-anchor="start" font-weight="bold" dominant-baseline="central" transform="translate(512.2 431.1) scale(1.38 1)">C-alphas</text>
<text x="345.4" y="626.3" font-family="Liberation Sans" font-weight="bold" font-size="29.2" fill="#000">h</text>
<polygon points="420.1,763 420.1,727 421.5,716 423.3,704 423.5,763" fill="#1f8a1f"/>
<polygon points="424.2,763 424.2,690 425.3,680 426.3,688 427.5,704 429.4,725 429.4,763" fill="#1f8a1f"/>
<polygon points="444,763 444,743 446,740 448,743 450,740 451.7,742 451.7,763" fill="#1f8a1f"/>
<rect x="483.9" y="743.8" width="1.2" height="19.4" fill="#1f8a1f"/>
<rect x="527.4" y="724.6" width="1" height="38.6" fill="#7cc47c"/>
<rect x="547.3" y="735.4" width="2.4" height="27.8" fill="#1f8a1f"/>
<rect x="581.9" y="738.3" width="1" height="24.9" fill="#3a9a3a"/>
<rect x="597.3" y="728.1" width="1" height="35.1" fill="#7cc47c"/>
<rect x="601.8" y="737.7" width="1.8" height="25.5" fill="#1f8a1f"/>
<polyline points="387.8,709.3 388.1,709 388.2,709.9 388.6,717.8 388.9,726.5 389.3,734 389.5,738 389.7,738 390.1,737.3 390.4,739.1 390.8,739.9 391.2,739 391.6,741.3 391.9,741.4 392.2,740 392.3,739.8 392.7,739.4 393.1,739.9 393.4,741 393.8,740.9 394.2,742.9 394.6,744.4 395,743.2 395.2,742 395.3,740.6 395.7,739.3 396.1,737 396.5,734.9 396.8,732.6 397.2,731 397.6,729.9 398,727.2 398.3,724.5 398.7,722 398.7,722.2 399.1,727.8 399.5,730.4 399.8,733.2 400.2,735.5 400.6,739.2 400.9,744 401,744.6 401.4,745.5 401.7,745.6 402.1,745.8 402.5,746.7 402.9,746.2 403.2,747.2 403.4,747 403.6,746.6 404,747.3 404.4,746.3 404.7,746.5 405.1,744.6 405.4,744 405.5,744.1 405.9,742 406.3,739.8 406.6,738.8 407,737 407.4,735 407.5,734 407.8,736.9 408.1,739.9 408.5,740.5 408.9,742.6 409.3,744.5 409.5,746 409.6,746.3 410,744.4 410.4,744.6 410.8,742.7 411.1,742.4 411.5,742.1 411.6,743 411.9,740.1 412.3,736.5 412.7,734 413,731.2 413.4,726.9 413.8,724.4 414,722 414.2,723.2 414.5,727.9 414.9,731.5 415.3,733.8 415.7,737.1 415.7,738 416,734.7 416.4,733.2 416.8,729.9 417.2,725.8 417.5,724.2 417.9,720.3 418.1,719 418.3,721.5 418.7,727.4 419.1,732.7 419.4,738.2 419.7,742 419.8,740.5 420.2,733.3 420.6,724.7 420.9,716.7 421.3,709.3 421.7,702.5 421.8,699 422.1,700.1 422.4,700.5 422.8,700.5 423,701 423.2,688.3 423.6,662.1 423.8,646 423.9,647.6 424.3,652.3 424.7,657.8 424.9,660 425.1,662.3 425.5,668.9 425.8,674.9 426.2,680.8 426.3,682 426.6,685.7 427,691.5 427.3,697.2 427.7,701.1 427.9,705 428.1,707.8 428.5,711.7 428.8,715.9 429.2,719.2 429.6,722.5 429.6,723 430,726 430.3,728.9 430.7,732.4 431.1,735.8 431.5,736.7 431.6,738 431.9,739.6 432.2,741.4 432.6,742.1 433,743.6 433.4,744.3 433.7,742.9 434,746 434.1,746 434.5,747.1 434.9,747.8 435.2,747.6 435.6,747.2 436,747.2 436.1,748 436.4,746.6 436.7,745 437.1,744.5 437.5,743.5 437.9,743.5 438.3,742.5 438.6,741.3 439,740.4 439.2,740 439.4,739.4 439.8,741 440.1,742 440.5,744.5 440.9,745.6 441.3,746 441.6,748.6 442,748.9 442.2,750 442.4,748.3 442.8,747 443.2,745.3 443.5,744.2 443.9,742.3 444.3,739.6 444.7,737.9 444.7,738 445,735.7 445.4,731.9 445.8,729 446.2,726.3 446.5,723.1 446.7,722 446.9,723.5 447.3,727.9 447.7,731.2 448,735.3 448.4,738 448.4,738.1 448.8,730.7 449.2,721.3 449.6,714 449.9,706.9 450.3,699.9 450.4,698 450.7,705.2 451.1,711 451.4,718.9 451.8,726.5 452.2,734.8 452.4,738 452.6,737.2 452.9,738.3 453.3,738.6 453.7,739.3 454.1,740.1 454.4,740.5 454.8,741 455.2,741.7 455.5,742 455.6,742.6 456,744.6 456.3,746.9 456.7,746.6 457.1,747.7 457.5,749.8 457.6,750 457.8,749.2 458.2,748.8 458.6,748.2 459,747.1 459.3,746.3 459.7,743.3 460.1,742.6 460.5,741.6 460.8,741.5 461,741 461.2,740.3 461.6,742.8 462,743.7 462.4,746.7 462.7,748 462.7,747.6 463.1,742.5 463.5,737.9 463.9,732.6 464.2,726.3 464.6,722.3 465,717.6 465.1,716 465.4,717.6 465.7,720.8 466.1,724.7 466.5,727.9 466.9,732.4 467.2,736.6 467.6,741.3 467.8,744 468,743.2 468.4,744.6 468.8,745.7 469.1,746.1 469.5,747.1 469.9,748 470.3,749 470.6,750.4 470.8,749 471,748.9 471.4,749 471.8,748 472.1,748.9 472.5,747.8 472.9,747.5 473.3,748 473.7,746.2 473.9,746 474,744.5 474.4,742.6 474.8,740.5 475.2,736.9 475.5,735.4 475.9,732.8 476.3,730.8 476.6,727 476.7,728.1 477,731.5 477.4,734.5 477.8,737.8 478,740 478.2,738.9 478.5,737 478.9,733.9 479.3,731.8 479.7,729.8 480,729 480.1,730.1 480.4,734 480.8,737.6 481.2,741.6 481.6,745.9 481.9,749 482.1,751 482.3,749.6 482.7,749.1 483.1,746.9 483.4,746 483.8,744.1 484.1,742 484.2,742.8 484.6,742.1 484.9,742.3 485.3,743.6 485.7,744.6 486.1,745.9 486.5,746.1 486.8,747.4 487.2,748 487.2,747.4 487.6,747.2 488,747 488.3,746.2 488.7,746.1 489.1,745.1 489.2,746 489.5,738.9 489.8,732.4 490.2,725.7 490.6,717.4 491,709.4 491.3,702 491.3,703.7 491.7,708.6 492.1,714.1 492.5,718.1 492.9,724.7 493.2,728.4 493.3,729 493.6,732.4 494,736.2 494.4,740.3 494.7,742.6 495.1,747.5 495.4,750 495.5,749.5 495.9,748.5 496.2,744.7 496.6,742.9 497,740.4 497.4,736.9 497.4,738 497.7,734.2 498.1,732.8 498.5,729 498.9,724.6 499.3,722.2 499.6,720 499.9,717 500,718.2 500.4,720.8 500.8,724.6 501.1,729.3 501.5,733.3 501.9,736.6 501.9,736 502.3,735.3 502.6,735.8 503,734.1 503.4,733.5 503.8,733.3 504.2,734.3 504.5,732.9 504.6,734 504.9,734.7 505.3,735.8 505.7,736.7 506,737.6 506.4,739 506.8,739.1 507.2,740.4 507.2,740 507.5,738.4 507.9,736.1 508.3,732.1 508.7,729.5 509,727.6 509.4,724.6 509.7,723 509.8,723.3 510.2,720.8 510.6,720 510.9,718.9 511.3,717.4 511.7,716.3 511.7,715 512.1,711.6 512.4,707.1 512.8,702.4 513.2,696.9 513.3,696 513.6,698.7 513.9,703.3 514.3,706.4 514.7,709.5 515.1,713.1 515.4,717.5 515.8,721 515.8,720.6 516.2,723.8 516.6,727.8 517,729.8 517.3,734.1 517.7,737.8 517.8,738 518.1,736.2 518.5,735 518.8,734.4 519.2,732.9 519.5,731 519.6,730.5 520,732.5 520.3,731.9 520.7,732 521.1,732.2 521.5,732.6 521.8,733.7 522.2,734 522.2,734 522.6,730.3 523,726 523.4,724 523.7,720.7 524.1,718.1 524.2,717 524.5,709.6 524.9,700.2 525.2,688.9 525.6,680 525.6,680.6 526,690.8 526.4,701.7 526.7,711.3 526.9,715 527.1,716.3 527.5,719.8 527.9,723.5 528.2,726.4 528.3,727 528.6,731.1 529,732.3 529.4,733.8 529.8,735.6 530.1,737.9 530.3,740 530.5,738.5 530.9,739.1 531.3,738.3 531.6,739.6 532,739.1 532.4,737.4 532.8,737.5 533.1,738 533.4,736 533.5,737.3 533.9,735.9 534.3,736.4 534.6,735.6 535,735.1 535.4,736.3 535.8,736.2 536.2,735.7 536.5,734 536.5,734.4 536.9,733.2 537.3,730.7 537.7,729.8 538,727.2 538.4,725.3 538.5,725 538.8,726.5 539.2,731.6 539.5,734.2 539.9,737.2 540.3,740.2 540.5,742 540.7,742.5 541.1,744 541.4,744.8 541.8,745.3 542.2,746.7 542.6,747.2 542.9,747.9 543.3,749.3 543.6,750 543.7,751 544.1,747.9 544.4,745.3 544.8,744.8 545.2,744.9 545.6,742.6 545.9,741.6 546.3,739.2 546.7,738.3 546.7,738 547.1,738.5 547.5,736.2 547.8,736.7 548.2,736.3 548.6,734.9 548.7,734 549,732.1 549.3,730.2 549.7,727.2 550.1,724.5 550.5,721.9 550.8,720.5 551.2,717.5 551.4,717 551.6,716.7 552,717.2 552.3,717.9 552.7,719.1 553.1,719.5 553.5,720.5 553.8,721 553.9,720.7 554.2,721.2 554.6,721.8 555,724.8 555.4,725 555.7,726.7 555.9,727 556.1,725 556.5,721.9 556.9,721.1 557.2,719.8 557.6,717 557.9,714 558,713.5 558.4,716.3 558.7,715 559.1,717.7 559.5,717.1 559.9,717.9 560.3,718.5 560.6,719.4 561,721 561,721.1 561.4,717.5 561.8,715.1 562.1,712.5 562.5,709 562.9,705.3 563.3,702.2 563.6,699 563.6,699.7 564,701.2 564.4,702.7 564.8,705.8 565.1,706.9 565.5,708.5 565.7,709 565.9,709.5 566.3,713 566.7,715.2 567,717.8 567.4,719.8 567.8,723.9 568.1,725 568.2,725.5 568.5,727.2 568.9,729.7 569.3,730.7 569.7,731.9 570,734.8 570.2,734 570.4,726.8 570.8,712.8 571.2,700.9 571.6,689.1 571.8,680 571.9,682 572.3,688.3 572.7,692.7 573.1,698.7 573.4,703.7 573.8,709.7 573.9,711 574.2,714.3 574.6,718 574.9,722.5 575.3,728 575.7,731.5 575.9,734 576.1,735.7 576.4,734.3 576.8,733.3 577.2,731.6 577.6,731.2 578,730.6 578.3,729.7 578.4,729 578.7,729 579.1,730.4 579.5,732.3 579.8,732.8 580.2,732.8 580.6,733 581,734.5 581.3,735.7 581.4,736 581.7,736.5 582.1,737.7 582.5,737.5 582.8,738.5 583.2,738.7 583.6,739.1 584,738.9 584.4,739.3 584.5,740 584.7,740.1 585.1,740.5 585.5,740.3 585.9,738.4 586.2,738.4 586.6,737.7 587,737.8 587.4,737.6 587.7,737.8 588.1,737.4 588.5,736.3 588.6,736 588.9,738.1 589.2,739 589.6,740.8 590,741.7 590.4,742.8 590.8,745.2 591.1,746 591.5,746.8 591.6,748 591.9,746.5 592.3,745.2 592.6,744 593,742.4 593.4,743.4 593.8,740.9 594.1,740.7 594.5,738.2 594.7,738 594.9,735.3 595.3,732.9 595.6,728.6 596,725.1 596.4,721.6 596.7,718 596.8,718.7 597.2,721.4 597.5,724.1 597.9,728 598.3,730.4 598.4,732 598.7,731.8 599,735.4 599.4,736.7 599.8,737.4 600.2,739.4 600.4,740 600.5,739.1 600.9,738.4 601.3,738.1 601.7,737.2 602.1,736.1 602.4,736.1 602.5,737 602.8,736.2 603.2,736 603.6,734.5 603.9,735.3 604.3,735.3 604.7,734.3 604.9,734 605.1,731.4 605.4,728.6 605.8,725.6 606.2,723 606.6,720.3 606.9,716.8 607.3,713.9 607.4,713 607.7,708.3 608.1,701.6 608.5,695.5 608.8,688.1 609.2,680.4 609.4,678 609.6,679.9 610,688.7 610.3,695.6 610.7,703.2 611.1,710 611.1,711 611.5,714.8 611.8,719.7 612.2,725.9 612.6,730.4 613,736.6 613.1,738 613.3,738.6 613.7,739.5 614.1,740.8 614.5,741.4 614.9,741.9 615.2,742.3 615.6,742.2 616,742.6 616.2,744 616.4,745.3 616.7,745.9 617.1,746.9 617.5,746.9 617.9,747.6 618.2,747.7 618.6,747.3 619,749.1 619.4,748.7 619.7,748.9 620.1,749.8 620.3,750 620.5,749.5 620.9,747.7 621.3,745.8 621.6,743.4 622,742.4 622.4,741.6 622.8,739.5 622.9,738 623.1,730.5 623.5,716.4 623.9,702.7 624.3,690 624.6,676.7 625,665 625,666 625.4,669.4 625.8,672.8 626.1,676.8 626.4,680 626.5,683.7 626.9,694.8 627.3,705.3 627.7,715.5 627.8,721 628,724.3 628.4,730.4 628.8,736.3 629.2,742.4 629.4,746 629.5,744.6 629.9,741.4 630.3,739.7 630.7,737.5 631,735.5 631.4,733.6 631.5,733 631.8,735.6 632.2,737.9 632.5,740.2 632.9,743 633.3,745.1 633.5,747 633.7,744.2 634.1,739.6 634.4,732.6 634.8,727.1 635.2,720.2 635.6,716.5 635.9,709.9 636.2,707 636.3,707.1 636.7,712.7 637.1,718 637.4,723.5 637.8,727.7 638.2,732.4 638.6,737.8 638.6,738 639,738.8 639.3,740 639.7,740.2 640.1,740.4 640.5,741.4 640.8,740.9 641.2,742.6 641.6,741.1 641.7,741 642,740.6 642.3,736.4 642.7,733.1 643.1,730.5 643.5,728.1 643.8,725.9 644.2,722 644.6,719.7 644.8,719 645,718.2 645.4,715.8 645.7,714.4 646.1,712.5 646.5,709 646.9,707.3 647.2,704.5 647.4,703 647.6,701.3 648,695.5 648.4,689.6 648.7,684.4 648.9,682 649.1,675.3 649.5,662 649.9,648.8 650.2,635.6 650.3,634 650.6,631.9 651,628" fill="none" stroke="#4b7592" stroke-width="1.05" stroke-linejoin="round" clip-path="url(#ch)"/>
<line x1="387.8" y1="618.0" x2="387.8" y2="763.7" stroke="#5c5c5c" stroke-width="1.1"/>
<line x1="651" y1="618.0" x2="651" y2="763.7" stroke="#646464" stroke-width="1.1"/>
<line x1="387.3" y1="618.5" x2="651.5" y2="618.5" stroke="#787878" stroke-width="1.1"/>
<line x1="387.3" y1="763.2" x2="651.5" y2="763.2" stroke="#646464" stroke-width="1.1"/>
<line x1="385.5" y1="747" x2="387.8" y2="747" stroke="#444" stroke-width="0.9"/>
<text x="0" y="0" font-family="Liberation Sans" font-size="6" fill="#333" text-anchor="end" font-weight="normal" dominant-baseline="central" transform="translate(382.2 747) scale(1.3 1)">0.5</text>
<line x1="385.5" y1="730.9" x2="387.8" y2="730.9" stroke="#444" stroke-width="0.9"/>
<text x="0" y="0" font-family="Liberation Sans" font-size="6" fill="#333" text-anchor="end" font-weight="normal" dominant-baseline="central" transform="translate(382.2 730.9) scale(1.3 1)">1.0</text>
<line x1="385.5" y1="714.8" x2="387.8" y2="714.8" stroke="#444" stroke-width="0.9"/>
<text x="0" y="0" font-family="Liberation Sans" font-size="6" fill="#333" text-anchor="end" font-weight="normal" dominant-baseline="central" transform="translate(382.2 714.8) scale(1.3 1)">1.5</text>
<line x1="385.5" y1="698.7" x2="387.8" y2="698.7" stroke="#444" stroke-width="0.9"/>
<text x="0" y="0" font-family="Liberation Sans" font-size="6" fill="#333" text-anchor="end" font-weight="normal" dominant-baseline="central" transform="translate(382.2 698.7) scale(1.3 1)">2.0</text>
<line x1="385.5" y1="682.6" x2="387.8" y2="682.6" stroke="#444" stroke-width="0.9"/>
<text x="0" y="0" font-family="Liberation Sans" font-size="6" fill="#333" text-anchor="end" font-weight="normal" dominant-baseline="central" transform="translate(382.2 682.6) scale(1.3 1)">2.5</text>
<line x1="385.5" y1="666.5" x2="387.8" y2="666.5" stroke="#444" stroke-width="0.9"/>
<text x="0" y="0" font-family="Liberation Sans" font-size="6" fill="#333" text-anchor="end" font-weight="normal" dominant-baseline="central" transform="translate(382.2 666.5) scale(1.3 1)">3.0</text>
<line x1="385.5" y1="650.4" x2="387.8" y2="650.4" stroke="#444" stroke-width="0.9"/>
<text x="0" y="0" font-family="Liberation Sans" font-size="6" fill="#333" text-anchor="end" font-weight="normal" dominant-baseline="central" transform="translate(382.2 650.4) scale(1.3 1)">3.5</text>
<line x1="385.5" y1="634.3" x2="387.8" y2="634.3" stroke="#444" stroke-width="0.9"/>
<text x="0" y="0" font-family="Liberation Sans" font-size="6" fill="#333" text-anchor="end" font-weight="normal" dominant-baseline="central" transform="translate(382.2 634.3) scale(1.3 1)">4.0</text>
<line x1="388" y1="763.2" x2="388" y2="765.5" stroke="#444" stroke-width="0.9"/>
<text x="0" y="0" font-family="Liberation Sans" font-size="6" fill="#333" text-anchor="middle" font-weight="normal" dominant-baseline="central" transform="translate(388 769) scale(1.3 1)">0</text>
<line x1="436.9" y1="763.2" x2="436.9" y2="765.5" stroke="#444" stroke-width="0.9"/>
<text x="0" y="0" font-family="Liberation Sans" font-size="6" fill="#333" text-anchor="middle" font-weight="normal" dominant-baseline="central" transform="translate(436.9 769) scale(1.3 1)">100</text>
<line x1="485.8" y1="763.2" x2="485.8" y2="765.5" stroke="#444" stroke-width="0.9"/>
<text x="0" y="0" font-family="Liberation Sans" font-size="6" fill="#333" text-anchor="middle" font-weight="normal" dominant-baseline="central" transform="translate(485.8 769) scale(1.3 1)">200</text>
<line x1="534.6" y1="763.2" x2="534.6" y2="765.5" stroke="#444" stroke-width="0.9"/>
<text x="0" y="0" font-family="Liberation Sans" font-size="6" fill="#333" text-anchor="middle" font-weight="normal" dominant-baseline="central" transform="translate(534.6 769) scale(1.3 1)">300</text>
<line x1="583.5" y1="763.2" x2="583.5" y2="765.5" stroke="#444" stroke-width="0.9"/>
<text x="0" y="0" font-family="Liberation Sans" font-size="6" fill="#333" text-anchor="middle" font-weight="normal" dominant-baseline="central" transform="translate(583.5 769) scale(1.3 1)">400</text>
<line x1="632.4" y1="763.2" x2="632.4" y2="765.5" stroke="#444" stroke-width="0.9"/>
<text x="0" y="0" font-family="Liberation Sans" font-size="6" fill="#333" text-anchor="middle" font-weight="normal" dominant-baseline="central" transform="translate(632.4 769) scale(1.3 1)">500</text>
<text x="0" y="0" font-family="Liberation Sans" font-size="10" fill="#222" text-anchor="middle" font-weight="normal" dominant-baseline="central" transform="translate(518.8 777.6) scale(1.28 1)">Residue Index</text>
<text x="0" y="0" font-family="Liberation Sans" font-size="12" fill="#222" text-anchor="middle" font-weight="normal" dominant-baseline="central" transform="translate(361.5 691) rotate(-90) scale(0.72 1)">RMSF (&#197;)</text>
<rect x="495.2" y="604.6" width="46" height="7.4" fill="#fff" stroke="#d8d8d8" stroke-width="0.5"/>
<rect x="496.1" y="606.4" width="11.9" height="3.5" fill="#4b7592"/>
<text x="0" y="0" font-family="Liberation Sans" font-size="6" fill="#222" text-anchor="start" font-weight="normal" dominant-baseline="central" transform="translate(508.2 608.2) scale(1.3 1)">C-alphas</text>
</svg>
<div class="o" style="left:1px;top:199px;width:678px;height:1px;background:#f0f0f0;"></div>
<div class="o" style="left:1px;top:398px;width:678px;height:1px;background:#f3f3f3;"></div>
<div class="o" style="left:1px;top:400px;width:678px;height:1px;background:#f1f1f1;"></div>
<div class="o" style="left:1px;top:597px;width:678px;height:1px;background:#f3f3f3;"></div>
<div class="o" style="left:1px;top:599px;width:678px;height:1px;background:#f1f1f1;"></div>
<div class="o" style="left:339px;top:1px;width:1px;height:797px;background:#eeeeee;"></div>
<div class="o" style="left:341px;top:1px;width:1px;height:797px;background:#f3f3f3;"></div>
<div class="o" style="left:1px;top:200px;width:678px;height:1px;background:#eaeaea;"></div>
<div class="o" style="left:1px;top:399px;width:678px;height:1px;background:#d3d3d3;"></div>
<div class="o" style="left:1px;top:598px;width:678px;height:1px;background:#d3d3d3;"></div>
<div class="o" style="left:340px;top:1px;width:1px;height:797px;background:#dedede;"></div>
<div class="o" style="left:0px;top:0px;width:680px;height:1px;background:#4a4a4a;"></div>
<div class="o" style="left:1px;top:1px;width:678px;height:1px;background:#dcdcdc;"></div>
<div class="o" style="left:0px;top:0px;width:1px;height:799px;background:#505050;"></div>
<div class="o" style="left:1px;top:1px;width:1px;height:796px;background:#d8d8d8;"></div>
<div class="o" style="left:1px;top:797px;width:678px;height:1px;background:#e2e2e2;"></div>
<div class="o" style="left:0px;top:798px;width:680px;height:1px;background:#424242;"></div>
<div class="o" style="left:679px;top:4px;width:1px;height:798px;background:#787878;"></div>
<div class="o" style="left:680px;top:4px;width:1px;height:798px;background:#828282;"></div>
<div class="o" style="left:681px;top:4px;width:1px;height:798px;background:#8e8e8e;"></div>
<div class="o" style="left:682px;top:4px;width:1px;height:798px;background:#9a9a9a;"></div>
<div class="o" style="left:683px;top:4px;width:1px;height:798px;background:#a8a8a8;"></div>
<div class="o" style="left:684px;top:4px;width:1px;height:798px;background:#e6e6e6;"></div>
<div class="o" style="left:679px;top:2px;width:5px;height:1px;background:#c8c8c8;"></div>
<div class="o" style="left:679px;top:3px;width:5px;height:1px;background:#a0a0a0;"></div>
<div class="o" style="left:3px;top:799px;width:677px;height:1px;background:#9a9a9a;"></div>
<div class="o" style="left:3px;top:800px;width:677px;height:1px;background:#959595;"></div>
<div class="o" style="left:3px;top:801px;width:677px;height:1px;background:#949494;"></div>
<div class="o" style="left:3px;top:802px;width:677px;height:1px;background:#cfcfcf;"></div>
<div class="o" style="left:2px;top:799px;width:1px;height:4px;background:#d0d0d0;"></div>
</body></html>
